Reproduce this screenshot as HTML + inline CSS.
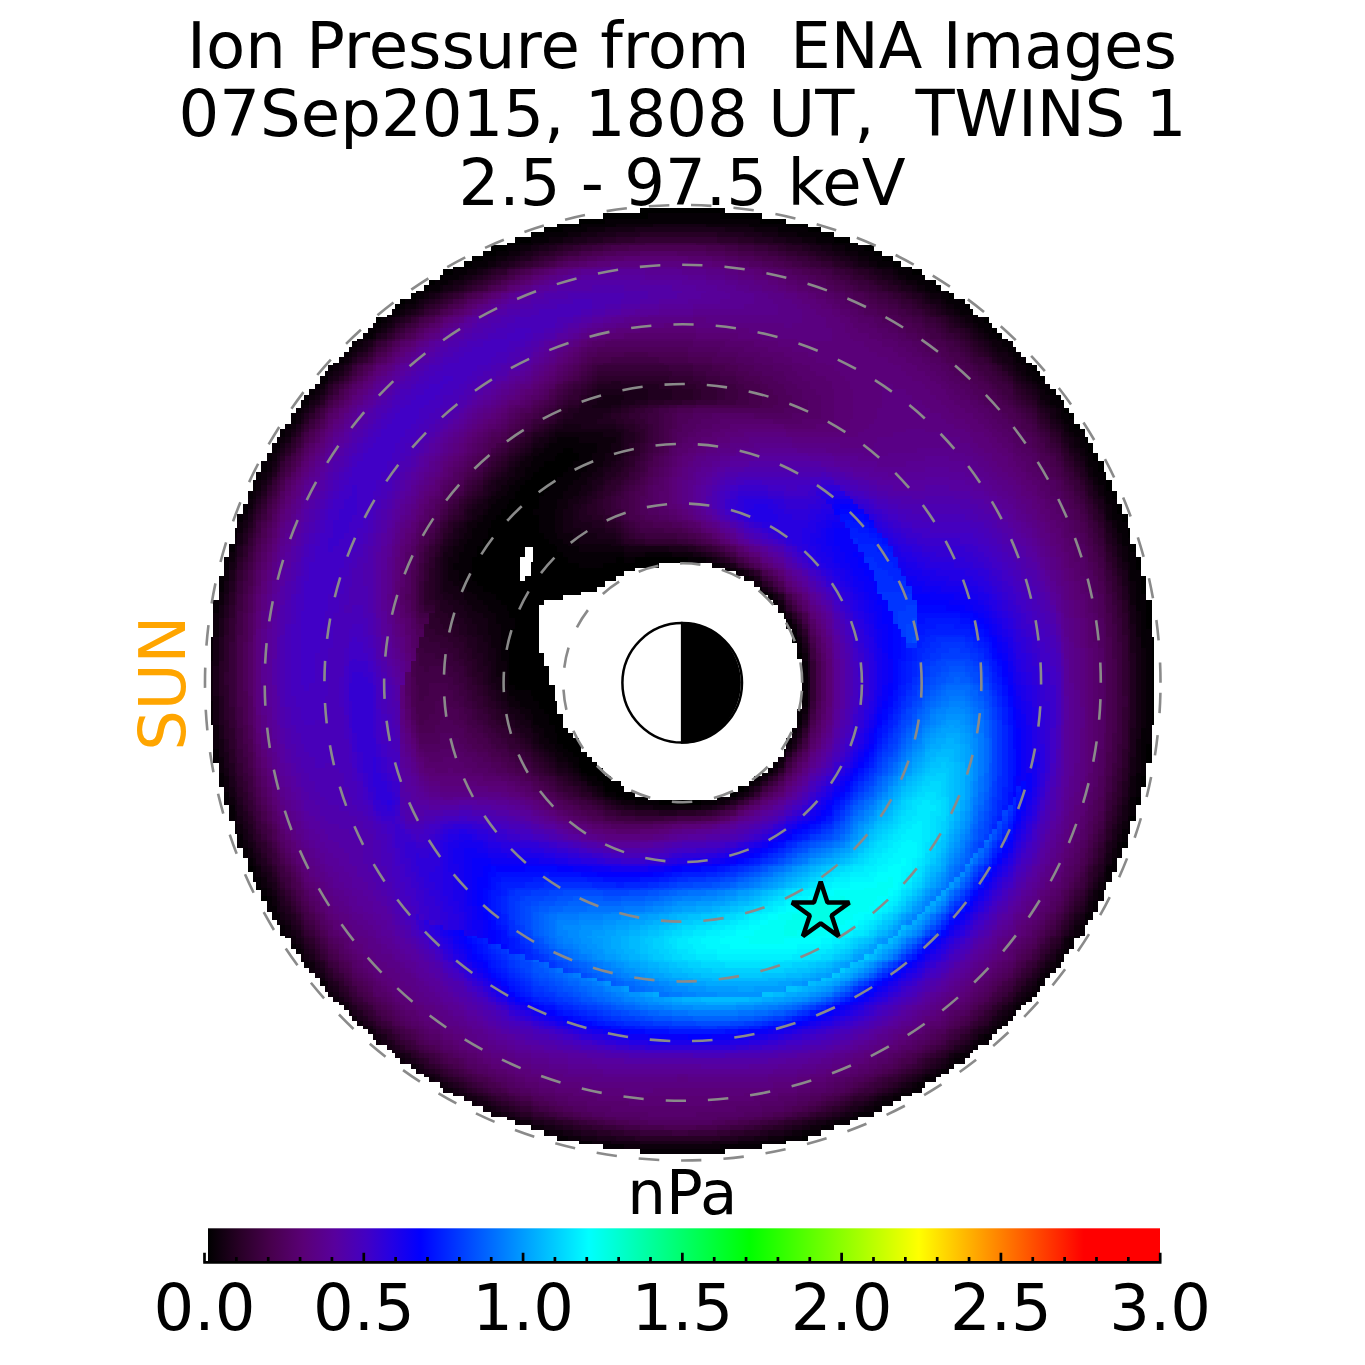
<!DOCTYPE html>
<html lang="en"><head><meta charset="utf-8"><title>Ion Pressure from ENA Images</title>
<style>html,body{margin:0;padding:0;background:#fff;width:1365px;height:1365px;overflow:hidden}svg{display:block}text{font-family:"DejaVu Sans","Liberation Sans",sans-serif;fill:#000}</style></head><body>
<svg width="1365" height="1365" viewBox="0 0 1365 1365">
<defs><linearGradient id="cb" x1="0" x2="1" y1="0" y2="0"><stop offset="0.0000" stop-color="rgb(0,0,0)"/><stop offset="0.0333" stop-color="rgb(40,0,38)"/><stop offset="0.0667" stop-color="rgb(72,0,78)"/><stop offset="0.1000" stop-color="rgb(90,0,118)"/><stop offset="0.1333" stop-color="rgb(88,0,157)"/><stop offset="0.1667" stop-color="rgb(66,0,196)"/><stop offset="0.1933" stop-color="rgb(36,0,228)"/><stop offset="0.2233" stop-color="rgb(0,0,255)"/><stop offset="0.4000" stop-color="rgb(0,255,255)"/><stop offset="0.5693" stop-color="rgb(0,255,0)"/><stop offset="0.7467" stop-color="rgb(255,255,0)"/><stop offset="0.9200" stop-color="rgb(255,0,0)"/><stop offset="1.0000" stop-color="rgb(255,0,0)"/></linearGradient></defs>
<rect width="1365" height="1365" fill="#fff"/>
<g font-size="64.1" text-anchor="middle">
<text x="682" y="68" xml:space="preserve">Ion Pressure from  ENA Images</text>
<text x="682.6" y="136.4" xml:space="preserve">07Sep2015, 1808 UT,  TWINS 1</text>
<text x="682" y="204.6" xml:space="preserve">2.5 - 97.5 keV</text>
</g>
<g transform="translate(0 1.333) scale(2.6660)" fill="none" stroke-width="1.03" shape-rendering="crispEdges">
<path stroke="#000000" d="M209 84h9M295 84h8M190 91h5M319 91h3M170 100h4M338 100h4M156 109h1M355 109h1M385 136h2M405 161h2M209 170h8M410 170h2M199 179h10M414 179h1M193 186h9M417 186h2M184 195h18M421 195h2M181 204h27M424 204h2M177 213h18M199 213h39M426 213h2M184 222h34M428 222h2M191 229h11M430 229h2M191 238h11M191 247h13M432 247h1M191 256h15M432 256h1M202 265h7M432 265h1M208 272h3M213 281h5M430 281h2M220 290h7M234 299h9M269 299h1M426 299h2M96 333h2M294 428h1"/>
<path stroke="#060006" d="M218 84h13M281 84h14M195 91h5M312 91h7M174 100h5M335 100h3M157 109h4M349 109h6M145 118h3M364 118h3M134 127h2M374 127h4M125 136h2M383 136h2M120 143h2M389 143h3M113 152h1M396 152h3M105 161h2M401 161h4M100 170h2M202 170h7M217 170h5M407 170h3M96 179h2M195 179h4M209 179h8M412 179h2M93 186h2M188 186h5M202 186h9M415 186h2M89 195h2M181 195h3M202 195h6M419 195h2M86 204h2M174 204h7M208 204h5M421 204h3M84 213h2M170 213h7M272 213h2M424 213h2M177 222h7M286 222h2M426 222h2M80 229h2M184 229h7M292 229h2M428 229h2M188 238h3M297 238h2M428 238h4M79 247h1M188 247h3M430 247h2M190 256h1M301 256h2M430 256h2M79 265h1M197 265h5M430 265h2M202 272h6M430 272h2M80 281h2M209 281h4M294 281h1M428 281h2M82 290h2M218 290h2M286 290h2M426 290h4M84 299h2M231 299h3M270 299h4M424 299h2M423 308h1M89 315h2M421 315h2M93 324h2M417 324h2M98 333h2M414 333h1M102 342h2M408 342h2M107 351h2M403 351h2M113 360h1M396 360h3M390 367h2M383 376h2M374 385h2M364 394h1M351 403h2M338 410h4M319 419h3M217 428h5M285 428h9"/>
<path stroke="#0d000c" d="M231 84h14M265 84h16M200 91h4M306 91h6M179 100h4M329 100h6M161 109h4M347 109h2M148 118h2M360 118h4M136 127h2M371 127h3M127 136h2M380 136h3M122 143h1M387 143h2M114 152h2M394 152h2M107 161h2M399 161h2M102 170h2M199 170h3M222 170h5M405 170h2M98 179h2M191 179h4M217 179h3M410 179h2M95 186h1M184 186h4M211 186h4M414 186h1M177 195h4M208 195h3M417 195h2M88 204h1M172 204h2M213 204h16M168 213h2M274 213h2M423 213h1M82 222h2M174 222h3M424 222h2M179 229h5M294 229h1M426 229h2M80 238h2M184 238h4M426 238h2M186 247h2M301 247h2M428 247h2M79 256h1M188 256h2M428 256h2M193 265h4M301 265h2M428 265h2M80 272h2M199 272h3M299 272h2M428 272h2M206 281h3M426 281h2M217 290h1M86 299h2M229 299h2M274 299h2M88 308h1M421 308h2M91 315h2M419 315h2M95 324h1M415 324h2M100 333h2M412 333h2M104 342h1M407 342h1M109 351h2M401 351h2M114 360h2M120 367h2M389 367h1M127 376h2M381 376h2M136 385h2M372 385h2M147 394h1M362 394h2M159 403h2M347 403h4M170 410h2M335 410h3M190 419h3M315 419h4M222 428h7M277 428h8"/>
<path stroke="#140013" d="M245 84h20M204 91h4M303 91h3M183 100h1M328 100h1M165 109h1M344 109h3M150 118h2M358 118h2M138 127h2M369 127h2M129 136h2M378 136h2M385 143h2M222 152h7M392 152h2M109 161h2M208 161h23M104 170h1M197 170h2M227 170h6M188 179h3M220 179h4M408 179h2M183 186h1M215 186h3M412 186h2M91 195h2M175 195h2M211 195h4M415 195h2M170 204h2M229 204h4M419 204h2M86 213h2M166 213h2M276 213h1M421 213h2M84 222h2M168 222h6M288 222h2M423 222h1M82 229h2M175 229h4M424 229h2M181 238h3M299 238h2M80 247h2M183 247h3M426 247h2M186 256h2M303 256h1M426 256h2M80 265h2M191 265h2M426 265h2M197 272h2M426 272h2M82 281h2M204 281h2M295 281h2M84 290h2M215 290h2M288 290h2M424 290h2M227 299h2M276 299h1M423 299h1M89 308h2M417 315h2M96 324h2M410 333h2M105 342h2M399 351h2M116 360h2M394 360h2M129 376h2M380 376h1M138 385h2M371 385h1M148 394h2M360 394h2M161 403h2M346 403h1M172 410h3M333 410h2M193 419h2M312 419h3M229 428h11M267 428h10"/>
<path stroke="#1a0019" d="M208 91h3M297 91h6M184 100h2M324 100h4M166 109h2M342 109h2M356 118h2M140 127h1M367 127h2M376 136h2M123 143h2M383 143h2M116 152h2M218 152h4M229 152h4M390 152h2M206 161h2M231 161h3M398 161h1M195 170h2M233 170h1M403 170h2M100 179h2M186 179h2M224 179h2M96 186h2M181 186h2M218 186h2M410 186h2M93 195h2M174 195h1M215 195h3M89 204h2M168 204h2M233 204h3M417 204h2M165 213h1M277 213h2M165 222h3M170 229h5M82 238h2M177 238h4M424 238h2M181 247h2M80 256h2M183 256h3M188 265h3M82 272h2M193 272h4M202 281h2M424 281h2M213 290h2M423 290h1M88 299h1M226 299h1M277 299h2M421 299h2M91 308h2M419 308h2M93 315h2M414 324h1M102 333h2M405 342h2M111 351h2M392 360h2M122 367h1M387 367h2M378 376h2M369 385h2M358 394h2M163 403h2M344 403h2M175 410h2M331 410h2M195 419h4M310 419h2M240 428h27"/>
<path stroke="#20001f" d="M211 91h6M294 91h3M186 100h4M320 100h4M168 109h2M340 109h2M152 118h2M355 118h1M365 127h2M131 136h1M374 136h2M229 143h4M381 143h2M217 152h1M233 152h3M389 152h1M111 161h2M204 161h2M234 161h2M396 161h2M105 170h2M193 170h2M234 170h2M401 170h2M184 179h2M226 179h3M407 179h1M179 186h2M220 186h4M172 195h2M218 195h8M414 195h1M166 204h2M236 204h6M88 213h1M163 213h2M419 213h2M163 222h2M290 222h2M421 222h2M84 229h2M166 229h4M295 229h2M423 229h1M174 238h3M82 247h2M179 247h2M303 247h1M424 247h2M181 256h2M424 256h2M82 265h2M186 265h2M303 265h1M424 265h2M191 272h2M301 272h2M424 272h2M84 281h2M200 281h2M86 290h2M209 290h4M290 290h2M89 299h2M224 299h2M95 315h1M415 315h2M98 324h2M412 324h2M104 333h1M408 333h2M107 342h2M403 342h2M113 351h1M398 351h1M118 360h2M123 367h2M385 367h2M131 376h1M140 385h1M367 385h2M150 394h2M356 394h2M342 403h2M177 410h2M329 410h2M199 419h1M306 419h4"/>
<path stroke="#270025" d="M217 91h3M288 91h6M190 100h1M319 100h1M170 109h2M337 109h3M154 118h2M351 118h4M141 127h2M364 127h1M125 143h2M224 143h5M233 143h18M380 143h1M118 152h2M213 152h4M236 152h4M202 161h2M236 161h2M394 161h2M191 170h2M236 170h2M183 179h1M229 179h2M405 179h2M98 186h2M177 186h2M224 186h2M408 186h2M170 195h2M226 195h1M412 195h2M91 204h2M165 204h1M242 204h14M415 204h2M161 213h2M279 213h2M86 222h2M161 222h2M163 229h3M421 229h2M170 238h4M301 238h2M423 238h1M175 247h4M423 247h1M82 256h2M179 256h2M184 265h2M84 272h2M190 272h1M423 272h1M86 281h2M199 281h1M297 281h2M423 281h1M88 290h1M208 290h1M421 290h2M222 299h2M419 299h2M93 308h2M417 308h2M100 324h2M109 342h2M120 360h2M390 360h2M376 376h2M141 385h2M152 394h2M355 394h1M165 403h1M340 403h2M179 410h2M328 410h1M200 419h4M304 419h2"/>
<path stroke="#2c002b" d="M220 91h4M283 91h5M191 100h2M315 100h4M172 109h2M335 109h2M156 118h1M349 118h2M143 127h2M362 127h2M132 136h2M372 136h2M222 143h2M251 143h7M211 152h2M240 152h3M387 152h2M113 161h1M200 161h2M238 161h4M107 170h2M190 170h1M238 170h2M399 170h2M102 179h2M181 179h2M231 179h3M175 186h2M226 186h1M95 195h1M168 195h2M227 195h4M163 204h2M256 204h4M89 213h2M417 213h2M159 222h2M419 222h2M86 229h2M84 238h2M166 238h4M84 247h2M174 247h1M177 256h2M423 256h1M84 265h2M183 265h1M423 265h1M188 272h2M197 281h2M421 281h2M206 290h2M91 299h2M220 299h2M279 299h2M95 308h1M415 308h2M96 315h2M414 315h1M410 324h2M105 333h2M407 333h1M401 342h2M114 351h2M396 351h2M389 360h1M125 367h2M383 367h2M132 376h2M374 376h2M365 385h2M154 394h2M353 394h2M166 403h2M338 403h2M181 410h2M326 410h2M204 419h4M301 419h3"/>
<path stroke="#320032" d="M224 91h3M277 91h6M193 100h2M313 100h2M174 109h1M333 109h2M157 118h2M347 118h2M360 127h2M371 136h1M127 143h2M220 143h2M258 143h5M378 143h2M120 152h2M209 152h2M243 152h4M385 152h2M199 161h1M242 161h1M392 161h2M188 170h2M398 170h1M234 179h2M403 179h2M174 186h1M227 186h2M407 186h1M231 195h2M410 195h2M93 204h2M260 204h1M414 204h1M159 213h2M281 213h2M415 213h2M88 222h1M292 222h2M297 229h2M419 229h2M86 238h2M159 238h7M421 238h2M170 247h4M421 247h2M84 256h2M175 256h2M304 256h2M421 256h2M86 265h2M179 265h4M421 265h2M86 272h2M184 272h4M421 272h2M88 281h1M195 281h2M89 290h2M204 290h2M419 290h2M218 299h2M417 299h2M98 315h2M102 324h2M111 342h2M116 351h2M394 351h2M122 360h1M127 367h2M381 367h2M134 376h2M143 385h2M364 385h1M156 394h1M351 394h2M168 403h2M337 403h1M183 410h1M322 410h4M208 419h1M299 419h2"/>
<path stroke="#370039" d="M227 91h6M270 91h7M195 100h2M310 100h3M175 109h2M329 109h4M346 118h1M145 127h2M358 127h2M134 136h2M367 136h4M218 143h2M263 143h6M376 143h2M208 152h1M247 152h4M383 152h2M114 161h2M197 161h2M243 161h2M390 161h2M186 170h2M240 170h2M104 179h1M179 179h2M236 179h2M401 179h2M100 186h2M172 186h2M229 186h2M405 186h2M96 195h2M166 195h2M233 195h1M161 204h2M261 204h2M412 204h2M91 213h2M89 222h2M157 222h2M417 222h2M88 229h1M159 229h4M419 238h2M86 247h2M166 247h4M304 247h2M86 256h2M174 256h1M177 265h2M304 265h2M88 272h1M183 272h1M303 272h1M89 281h2M191 281h4M419 281h2M91 290h2M202 290h2M292 290h2M93 299h2M217 299h1M281 299h2M96 308h2M414 308h1M412 315h2M408 324h2M107 333h2M405 333h2M399 342h2M387 360h2M136 376h2M372 376h2M145 385h2M362 385h2M170 403h2M335 403h2M184 410h2M320 410h2M209 419h4M295 419h4"/>
<path stroke="#3c003f" d="M233 91h9M261 91h9M197 100h2M306 100h4M326 109h3M159 118h2M342 118h4M147 127h1M355 127h3M226 136h23M365 136h2M129 143h2M215 143h3M269 143h3M372 143h4M122 152h1M206 152h2M251 152h3M381 152h2M195 161h2M245 161h2M389 161h1M109 170h2M184 170h2M242 170h1M396 170h2M177 179h2M238 179h2M231 186h3M165 195h1M234 195h2M408 195h2M95 204h1M263 204h4M157 213h2M414 213h1M415 222h2M157 229h2M417 229h2M88 238h1M303 238h1M88 247h1M157 247h9M419 247h2M88 256h1M170 256h4M419 256h2M88 265h1M175 265h2M419 265h2M181 272h2M419 272h2M190 281h1M299 281h2M200 290h2M417 290h2M95 299h1M213 299h4M415 299h2M100 315h2M104 324h1M403 333h2M113 342h1M118 351h2M392 351h2M123 360h2M385 360h2M129 367h2M380 367h1M371 376h1M147 385h1M360 385h2M157 394h2M349 394h2M172 403h2M333 403h2M186 410h4M319 410h1M213 419h2M294 419h1"/>
<path stroke="#410046" d="M242 91h19M199 100h1M303 100h3M177 109h2M324 109h2M161 118h2M338 118h4M353 127h2M136 136h2M222 136h4M249 136h11M364 136h1M213 143h2M272 143h5M371 143h1M204 152h2M254 152h7M380 152h1M193 161h2M247 161h2M387 161h2M243 170h2M394 170h2M105 179h2M175 179h2M399 179h2M102 186h2M170 186h2M234 186h2M403 186h2M98 195h2M236 195h2M407 195h1M159 204h2M410 204h2M93 213h2M283 213h2M91 222h2M156 222h1M294 222h1M89 229h2M299 229h2M415 229h2M417 238h2M156 247h1M156 256h5M168 256h2M89 265h2M174 265h1M89 272h2M177 272h4M91 281h2M186 281h4M417 281h2M93 290h2M199 290h1M211 299h2M283 299h2M98 308h2M412 308h2M410 315h2M105 324h2M407 324h1M109 333h2M114 342h2M398 342h1M125 360h2M131 367h1M378 367h2M138 376h2M369 376h2M148 385h2M159 394h2M347 394h2M174 403h3M331 403h2M190 410h1M317 410h2M215 419h3M290 419h4"/>
<path stroke="#46004c" d="M200 100h2M299 100h4M179 109h2M320 109h4M337 118h1M148 127h2M349 127h4M138 136h2M220 136h2M260 136h7M360 136h4M131 143h1M211 143h2M277 143h6M369 143h2M123 152h2M202 152h2M261 152h24M378 152h2M116 161h2M191 161h2M249 161h2M385 161h2M111 170h2M183 170h1M245 170h2M392 170h2M174 179h1M240 179h2M398 179h1M168 186h2M236 186h2M401 186h2M163 195h2M238 195h4M405 195h2M157 204h2M267 204h2M408 204h2M156 213h1M412 213h2M414 222h1M91 229h2M156 229h1M89 238h2M415 238h2M89 247h2M417 247h2M89 256h2M161 256h7M306 256h2M417 256h2M156 265h7M170 265h4M417 265h2M91 272h2M175 272h2M417 272h2M183 281h3M197 290h2M294 290h1M415 290h2M96 299h2M209 299h2M414 299h1M234 308h11M102 315h2M408 315h2M401 333h2M396 342h2M120 351h2M390 351h2M383 360h2M140 376h1M150 385h2M358 385h2M161 394h2M346 394h1M177 403h2M329 403h2M191 410h2M315 410h2M218 419h4M286 419h4"/>
<path stroke="#4a0052" d="M202 100h2M295 100h4M181 109h2M317 109h3M163 118h2M331 118h6M346 127h3M218 136h2M267 136h7M358 136h2M283 143h3M365 143h4M200 152h2M285 152h5M374 152h4M190 161h1M251 161h1M383 161h2M181 170h2M247 170h2M390 170h2M242 179h1M396 179h2M104 186h1M238 186h2M399 186h2M100 195h2M161 195h2M242 195h3M96 204h2M269 204h1M407 204h1M95 213h1M285 213h1M410 213h2M93 222h2M154 222h2M412 222h2M414 229h1M91 238h2M304 238h2M306 247h2M415 247h2M154 256h2M415 256h2M91 265h2M163 265h7M306 265h2M415 265h2M157 272h6M172 272h3M304 272h2M415 272h2M93 281h2M179 281h4M301 281h2M415 281h2M95 290h1M193 290h4M414 290h1M208 299h1M412 299h2M100 308h2M229 308h5M245 308h6M410 308h2M107 324h2M405 324h2M111 333h2M116 342h2M122 351h1M389 351h1M127 360h2M381 360h2M132 367h2M376 367h2M141 376h2M367 376h2M356 385h2M163 394h2M344 394h2M179 403h2M328 403h1M193 410h2M312 410h3M222 419h4M283 419h3"/>
<path stroke="#4d0059" d="M204 100h2M292 100h3M183 109h1M313 109h4M165 118h1M328 118h3M150 127h2M342 127h4M140 136h1M217 136h1M274 136h5M355 136h3M132 143h2M209 143h2M286 143h6M362 143h3M125 152h2M199 152h1M290 152h7M372 152h2M118 161h2M188 161h2M252 161h4M380 161h3M113 170h1M179 170h2M249 170h2M389 170h1M107 179h2M172 179h2M243 179h2M394 179h2M166 186h2M240 186h3M398 186h1M245 195h6M403 195h2M156 204h1M270 204h2M154 213h2M408 213h2M295 222h2M93 229h2M154 229h2M301 229h2M412 229h2M157 238h2M414 238h1M91 247h2M414 247h1M91 256h2M154 265h2M93 272h2M156 272h1M163 272h9M175 281h4M414 281h1M191 290h2M295 290h2M98 299h2M206 299h2M285 299h1M226 308h3M251 308h3M408 308h2M104 315h1M407 315h1M403 324h2M113 333h1M399 333h2M394 342h2M129 360h2M134 367h2M374 367h2M143 376h2M365 376h2M152 385h2M355 385h1M165 394h1M340 394h4M181 403h2M324 403h4M195 410h4M308 410h4M226 419h5M277 419h6"/>
<path stroke="#500060" d="M206 100h2M288 100h4M310 109h3M166 118h2M324 118h4M152 127h2M338 127h4M215 136h2M279 136h7M351 136h4M208 143h1M292 143h5M358 143h4M197 152h2M297 152h6M369 152h3M184 161h4M256 161h4M378 161h2M177 170h2M251 170h1M385 170h4M170 179h2M245 179h2M392 179h2M105 186h2M165 186h1M243 186h2M396 186h2M102 195h2M159 195h2M251 195h3M401 195h2M98 204h2M272 204h2M405 204h2M96 213h2M286 213h2M407 213h1M95 222h1M152 222h2M410 222h2M152 229h2M410 229h2M93 238h2M156 238h1M412 238h2M152 256h2M308 256h2M414 256h1M93 265h2M414 265h1M414 272h1M95 281h1M159 281h6M172 281h3M412 281h2M96 290h2M186 290h5M412 290h2M204 299h2M410 299h2M102 308h2M222 308h4M254 308h7M405 315h2M109 324h2M398 333h1M118 342h2M392 342h2M123 351h2M387 351h2M131 360h1M380 360h1M136 367h2M372 367h2M145 376h2M364 376h1M154 385h3M353 385h2M166 394h4M338 394h2M183 403h3M322 403h2M199 410h3M304 410h4M231 419h9M269 419h8"/>
<path stroke="#530066" d="M208 100h1M285 100h3M184 109h2M308 109h2M320 118h4M154 127h2M229 127h31M335 127h3M141 136h2M213 136h2M286 136h8M347 136h4M134 143h2M206 143h2M297 143h7M355 143h3M127 152h2M193 152h4M303 152h5M365 152h4M120 161h2M183 161h1M260 161h3M374 161h4M114 170h2M175 170h2M252 170h2M381 170h4M109 179h2M168 179h2M247 179h2M389 179h3M163 186h2M245 186h2M392 186h4M157 195h2M254 195h4M398 195h3M154 204h2M401 204h4M152 213h2M288 213h2M405 213h2M150 222h2M297 222h2M408 222h2M95 229h1M408 229h2M154 238h2M306 238h2M410 238h2M93 247h2M308 247h2M412 247h2M93 256h2M412 256h2M152 265h2M308 265h2M412 265h2M154 272h2M306 272h2M412 272h2M157 281h2M165 281h7M303 281h1M181 290h5M410 290h2M100 299h2M202 299h2M286 299h2M408 299h2M220 308h2M261 308h4M407 308h1M105 315h2M401 324h2M114 333h2M396 333h2M120 342h2M390 342h2M125 351h2M385 351h2M132 360h2M378 360h2M138 367h2M371 367h1M147 376h1M362 376h2M157 385h2M349 385h4M170 394h2M337 394h1M186 403h4M319 403h3M202 410h6M299 410h5M240 419h29"/>
<path stroke="#56006c" d="M209 100h2M281 100h4M186 109h2M303 109h5M168 118h2M317 118h3M224 127h5M260 127h14M329 127h6M143 136h2M211 136h2M294 136h7M342 136h5M204 143h2M304 143h8M351 143h4M191 152h2M308 152h5M360 152h5M181 161h2M263 161h7M371 161h3M174 170h1M254 170h2M380 170h1M166 179h2M249 179h2M385 179h4M161 186h2M247 186h4M390 186h2M104 195h1M258 195h2M396 195h2M100 204h2M152 204h2M274 204h2M399 204h2M98 213h2M150 213h2M403 213h2M96 222h2M405 222h3M150 229h2M303 229h1M407 229h1M408 238h2M410 247h2M410 256h2M95 265h1M410 265h2M95 272h1M410 272h2M96 281h2M156 281h1M410 281h2M98 290h2M175 290h6M297 290h2M408 290h2M200 299h2M288 299h2M407 299h1M104 308h1M217 308h3M265 308h4M405 308h2M107 315h2M403 315h2M111 324h2M399 324h2M116 333h2M394 333h2M389 342h1M127 351h2M383 351h2M134 360h2M376 360h2M140 367h1M369 367h2M148 376h2M360 376h2M159 385h2M347 385h2M172 394h3M333 394h4M190 403h3M315 403h4M208 410h7M292 410h7"/>
<path stroke="#590073" d="M211 100h4M276 100h5M188 109h2M299 109h4M170 118h2M313 118h4M156 127h1M220 127h4M274 127h12M320 127h9M209 136h2M301 136h9M335 136h7M136 143h2M202 143h2M312 143h7M346 143h5M129 152h2M190 152h1M313 152h7M355 152h5M122 161h1M179 161h2M270 161h7M295 161h22M365 161h6M116 170h2M172 170h2M256 170h2M376 170h4M111 179h2M165 179h1M251 179h1M383 179h2M107 186h2M159 186h2M251 186h1M389 186h1M156 195h1M260 195h1M392 195h4M276 204h1M398 204h1M290 213h2M401 213h2M148 222h2M299 222h2M403 222h2M405 229h2M95 238h1M152 238h2M407 238h1M95 247h1M154 247h2M310 247h2M408 247h2M95 256h1M310 256h2M408 256h2M408 265h2M152 272h2M308 272h2M408 272h2M304 281h2M408 281h2M161 290h14M102 299h2M199 299h1M215 308h2M269 308h1M403 308h2M401 315h2M113 324h1M398 324h1M122 342h1M387 342h2M129 351h2M381 351h2M136 360h2M374 360h2M141 367h2M367 367h2M150 376h4M356 376h4M161 385h4M346 385h1M175 394h4M331 394h2M193 403h4M310 403h5M215 410h11M279 410h13"/>
<path stroke="#5a0079" d="M215 100h2M270 100h6M190 109h1M295 109h4M172 118h2M308 118h5M157 127h2M218 127h2M286 127h13M312 127h8M145 136h2M208 136h1M310 136h25M138 143h2M200 143h2M319 143h27M188 152h2M320 152h11M347 152h8M123 161h2M177 161h2M277 161h18M317 161h7M362 161h3M170 170h2M258 170h3M372 170h4M163 179h2M252 179h2M380 179h3M109 186h2M252 186h2M385 186h4M105 195h2M154 195h2M261 195h2M390 195h2M102 204h2M150 204h2M394 204h4M100 213h2M148 213h2M398 213h3M98 222h2M401 222h2M96 229h2M148 229h2M304 229h2M403 229h2M150 238h2M308 238h2M405 238h2M152 247h2M407 247h1M407 256h1M150 265h2M310 265h2M407 265h1M96 272h2M407 272h1M98 281h2M407 281h1M100 290h2M159 290h2M299 290h2M407 290h1M197 299h2M290 299h2M405 299h2M105 308h2M213 308h2M270 308h2M109 315h2M399 315h2M396 324h2M118 333h2M392 333h2M123 342h2M131 351h1M380 351h1M138 360h2M372 360h2M143 367h4M365 367h2M154 376h2M355 376h1M165 385h3M344 385h2M179 394h2M328 394h3M197 403h7M304 403h6M226 410h53"/>
<path stroke="#5a0080" d="M217 100h5M263 100h7M191 109h2M290 109h5M301 118h7M159 127h2M217 127h1M299 127h13M147 136h1M206 136h2M199 143h1M131 152h1M186 152h2M331 152h16M175 161h2M324 161h16M347 161h15M118 170h2M168 170h2M261 170h4M367 170h5M113 179h1M161 179h2M254 179h4M376 179h4M157 186h2M254 186h2M381 186h4M152 195h2M263 195h2M389 195h1M148 204h2M277 204h2M392 204h2M292 213h2M396 213h2M147 222h1M301 222h2M399 222h2M147 229h1M401 229h2M96 238h2M148 238h2M403 238h2M96 247h2M405 247h2M96 256h2M312 256h1M405 256h2M96 265h2M154 281h2M405 281h2M157 290h2M405 290h2M104 299h1M193 299h4M403 299h2M107 308h2M211 308h2M272 308h2M401 308h2M111 315h2M114 324h2M120 333h2M390 333h2M125 342h4M385 342h2M132 351h4M378 351h2M140 360h3M371 360h1M147 367h3M364 367h1M156 376h3M353 376h2M168 385h4M340 385h4M181 394h3M324 394h4M204 403h7M299 403h5"/>
<path stroke="#590086" d="M222 100h4M254 100h9M286 109h4M174 118h1M260 118h41M215 127h2M148 136h2M204 136h2M140 143h1M197 143h2M132 152h2M184 152h2M125 161h2M174 161h1M340 161h7M120 170h2M166 170h2M265 170h5M324 170h9M362 170h5M114 179h2M159 179h2M258 179h2M372 179h4M111 186h2M156 186h1M256 186h2M380 186h1M107 195h2M385 195h4M104 204h1M390 204h2M102 213h2M147 213h1M394 213h2M100 222h2M398 222h1M98 229h2M306 229h2M399 229h2M310 238h2M401 238h2M150 247h2M312 247h1M403 247h2M403 256h2M312 265h1M405 265h2M98 272h2M150 272h2M310 272h2M405 272h2M100 281h2M152 281h2M306 281h2M102 290h2M301 290h2M403 290h2M105 299h2M190 299h3M292 299h2M401 299h2M109 308h2M209 308h2M399 308h2M398 315h1M116 324h2M394 324h2M122 333h3M389 333h1M129 342h2M383 342h2M136 351h4M376 351h2M143 360h5M369 360h2M150 367h6M362 367h2M159 376h4M351 376h2M172 385h3M338 385h2M184 394h6M322 394h2M211 403h15M254 403h4M288 403h11"/>
<path stroke="#59008c" d="M226 100h28M193 109h2M279 109h7M175 118h2M243 118h17M161 127h2M213 127h2M202 136h2M141 143h2M193 143h4M181 152h3M127 161h2M172 161h2M165 170h1M270 170h6M312 170h12M333 170h29M260 179h1M369 179h3M154 186h2M258 186h2M376 186h4M150 195h2M265 195h2M383 195h2M105 204h2M147 204h1M279 204h2M389 204h1M145 213h2M294 213h1M392 213h2M145 222h2M396 222h2M145 229h2M398 229h1M98 238h2M147 238h1M399 238h2M98 247h2M401 247h2M98 256h2M98 265h2M403 265h2M403 272h2M403 281h2M104 290h1M156 290h1M166 299h4M183 299h7M294 299h1M111 308h2M208 308h1M274 308h2M398 308h1M113 315h3M227 315h16M396 315h2M118 324h4M392 324h2M125 333h2M387 333h2M131 342h3M381 342h2M140 351h1M374 351h2M148 360h2M367 360h2M156 367h1M360 367h2M163 376h3M349 376h2M175 385h2M337 385h1M190 394h3M319 394h3M226 403h28M258 403h30"/>
<path stroke="#590093" d="M195 109h4M272 109h7M177 118h2M236 118h7M163 127h2M211 127h2M150 136h2M200 136h2M143 143h2M191 143h2M134 152h2M179 152h2M170 161h2M122 170h1M163 170h2M276 170h9M303 170h9M116 179h2M157 179h2M261 179h2M365 179h4M113 186h1M152 186h2M260 186h1M374 186h2M109 195h2M148 195h2M267 195h2M381 195h2M145 204h2M281 204h2M387 204h2M104 213h1M102 222h2M143 222h2M303 222h1M100 229h2M308 229h2M145 238h2M312 238h1M148 247h2M313 247h2M313 256h2M401 256h2M100 265h2M313 265h2M401 265h2M100 272h2M312 272h1M401 272h2M102 281h2M150 281h2M308 281h2M401 281h2M154 290h2M401 290h2M107 299h2M161 299h5M170 299h13M399 299h2M113 308h1M204 308h4M276 308h1M116 315h2M224 315h3M243 315h4M394 315h2M122 324h1M390 324h2M127 333h4M134 342h4M380 342h1M141 351h4M372 351h2M150 360h4M365 360h2M157 367h2M358 367h2M166 376h4M347 376h2M177 385h4M333 385h4M193 394h6M315 394h4"/>
<path stroke="#580099" d="M199 109h1M265 109h7M179 118h2M231 118h5M165 127h1M209 127h2M152 136h2M199 136h1M145 143h2M188 143h3M136 152h2M177 152h2M129 161h2M168 161h2M123 170h2M161 170h2M285 170h18M118 179h2M156 179h1M263 179h2M331 179h16M356 179h9M114 186h2M261 186h2M371 186h3M111 195h2M147 195h1M269 195h1M378 195h3M107 204h2M385 204h2M143 213h2M295 213h2M390 213h2M304 222h2M394 222h2M102 229h2M143 229h2M396 229h2M100 238h2M398 238h1M100 247h2M147 247h1M399 247h2M100 256h2M150 256h2M399 256h2M102 272h2M399 272h2M104 281h1M399 281h2M105 290h2M152 290h2M303 290h1M399 290h2M109 299h2M157 299h4M295 299h2M398 299h1M114 308h2M202 308h2M277 308h2M396 308h2M118 315h2M222 315h2M247 315h4M123 324h4M131 333h3M385 333h2M138 342h3M145 351h3M154 360h2M364 360h1M159 367h4M356 367h2M170 376h2M346 376h1M181 385h2M331 385h2M199 394h5M312 394h3"/>
<path stroke="#57009f" d="M200 109h4M256 109h9M181 118h2M227 118h4M166 127h2M208 127h1M154 136h2M197 136h2M147 143h1M186 143h2M138 152h2M175 152h2M131 161h1M166 161h2M125 170h2M159 170h2M120 179h2M154 179h2M265 179h2M324 179h7M347 179h9M116 186h2M150 186h2M263 186h2M365 186h6M113 195h1M145 195h2M376 195h2M109 204h2M143 204h2M283 204h2M383 204h2M105 213h2M141 213h2M389 213h1M104 222h1M141 222h2M141 229h2M310 229h2M102 238h2M143 238h2M313 238h2M145 247h2M315 247h2M148 256h2M315 256h2M102 265h2M315 265h2M399 265h2M104 272h1M313 272h2M105 281h2M310 281h2M107 290h2M150 290h2M111 299h2M154 299h3M297 299h2M116 308h4M200 308h2M279 308h4M394 308h2M120 315h5M218 315h4M251 315h3M392 315h2M127 324h5M389 324h1M134 333h4M383 333h2M141 342h4M378 342h2M148 351h2M371 351h1M156 360h3M362 360h2M163 367h2M355 367h1M172 376h2M344 376h2M183 385h3M329 385h2M204 394h7M306 394h6"/>
<path stroke="#5300a6" d="M204 109h5M243 109h13M183 118h3M222 118h5M168 127h2M204 127h4M156 136h1M195 136h2M148 143h2M184 143h2M140 152h1M174 152h1M132 161h2M165 161h1M127 170h2M157 170h2M122 179h1M152 179h2M267 179h3M320 179h4M118 186h2M148 186h2M342 186h5M358 186h7M114 195h2M143 195h2M270 195h2M374 195h2M111 204h2M141 204h2M285 204h1M380 204h3M107 213h2M140 213h1M297 213h2M387 213h2M105 222h2M140 222h1M306 222h2M392 222h2M104 229h1M140 229h1M394 229h2M104 238h1M141 238h2M102 247h2M143 247h2M398 247h1M102 256h2M147 256h1M104 265h1M398 272h1M107 281h2M398 281h1M109 290h4M304 290h2M398 290h1M113 299h3M152 299h2M396 299h2M120 308h3M199 308h1M283 308h2M125 315h9M217 315h1M254 315h2M132 324h6M387 324h2M138 333h3M381 333h2M145 342h2M376 342h2M150 351h2M369 351h2M159 360h2M360 360h2M165 367h1M353 367h2M174 376h3M342 376h2M186 385h2M328 385h1M211 394h6M303 394h3"/>
<path stroke="#4f00ac" d="M209 109h34M186 118h5M218 118h4M170 127h4M202 127h2M157 136h4M190 136h5M150 143h2M181 143h3M141 152h2M170 152h4M134 161h2M163 161h2M129 170h2M156 170h1M123 179h2M150 179h2M270 179h2M317 179h3M120 186h2M147 186h1M265 186h2M333 186h9M347 186h11M116 195h2M141 195h2M272 195h2M371 195h3M113 204h1M140 204h1M286 204h2M378 204h2M109 213h2M136 213h4M299 213h2M383 213h4M107 222h2M138 222h2M390 222h2M105 229h2M138 229h2M312 229h1M315 238h2M396 238h2M104 247h1M317 247h2M104 256h1M145 256h2M317 256h2M398 256h1M105 265h2M148 265h2M317 265h2M398 265h1M105 272h2M315 272h2M109 281h2M312 281h1M113 290h3M306 290h2M396 290h2M116 299h6M150 299h2M299 299h2M123 308h13M195 308h4M285 308h1M392 308h2M134 315h6M215 315h2M256 315h9M390 315h2M138 324h3M141 333h4M147 342h1M374 342h2M152 351h2M367 351h2M161 360h2M166 367h4M351 367h2M177 376h2M340 376h2M188 385h3M326 385h2M217 394h7M297 394h6"/>
<path stroke="#4c00b2" d="M191 118h8M215 118h3M174 127h5M199 127h3M161 136h4M186 136h4M152 143h4M177 143h4M143 152h4M168 152h2M136 161h2M159 161h4M131 170h1M154 170h2M125 179h2M148 179h2M272 179h4M313 179h4M122 186h1M145 186h2M267 186h2M329 186h4M140 195h1M365 195h6M136 204h4M288 204h2M376 204h2M111 213h2M132 213h4M381 213h2M109 222h2M131 222h7M308 222h2M387 222h3M107 229h2M129 229h3M136 229h2M390 229h4M105 238h2M140 238h1M105 247h2M141 247h2M105 256h2M319 256h1M107 265h2M145 265h3M107 272h4M147 272h3M111 281h3M313 281h2M396 281h2M116 290h13M122 299h10M394 299h2M136 308h4M152 308h7M191 308h4M286 308h2M140 315h3M211 315h4M265 315h5M389 315h1M141 324h2M385 324h2M145 333h2M380 333h1M148 342h2M154 351h2M163 360h2M358 360h2M349 367h2M179 376h2M338 376h2M191 385h4M322 385h4M224 394h5M290 394h7"/>
<path stroke="#4800b9" d="M199 118h16M179 127h5M195 127h4M165 136h3M183 136h3M156 143h3M174 143h3M147 152h1M165 152h3M138 161h3M156 161h3M132 170h2M150 170h4M127 179h2M145 179h3M276 179h28M312 179h1M123 186h2M141 186h4M269 186h1M326 186h3M118 195h2M138 195h2M274 195h2M346 195h19M114 204h2M134 204h2M290 204h2M372 204h4M113 213h1M131 213h1M301 213h2M380 213h1M111 222h2M129 222h2M385 222h2M109 229h2M127 229h2M132 229h4M313 229h2M389 229h1M107 238h2M125 238h6M136 238h4M317 238h2M392 238h4M107 247h2M123 247h6M140 247h1M319 247h1M396 247h2M107 256h2M123 256h4M143 256h2M109 265h4M122 265h7M143 265h2M319 265h1M111 272h18M145 272h2M317 272h2M396 272h2M114 281h17M148 281h2M129 290h3M308 290h2M132 299h2M301 299h2M140 308h1M159 308h4M186 308h5M288 308h2M390 308h2M143 315h2M209 315h2M270 315h4M143 324h4M383 324h2M147 333h3M378 333h2M150 342h4M372 342h2M156 351h1M365 351h2M356 360h2M170 367h2M347 367h2M181 376h2M337 376h1M195 385h4M320 385h2M229 394h5M285 394h5"/>
<path stroke="#4500bf" d="M184 127h11M168 136h15M159 143h6M168 143h6M148 152h4M159 152h6M141 161h2M152 161h4M134 170h2M147 170h3M129 179h2M143 179h2M304 179h8M125 186h2M140 186h1M270 186h2M324 186h2M120 195h2M136 195h2M276 195h1M338 195h8M116 204h4M132 204h2M292 204h2M369 204h3M114 213h2M127 213h4M376 213h4M113 222h1M125 222h4M310 222h2M383 222h2M111 229h2M122 229h5M387 229h2M109 238h4M120 238h5M131 238h5M390 238h2M109 247h4M118 247h5M129 247h2M138 247h2M394 247h2M109 256h4M116 256h7M127 256h2M141 256h2M320 256h2M396 256h2M113 265h9M141 265h2M396 265h2M129 272h2M143 272h2M131 281h1M145 281h3M315 281h2M132 290h2M394 290h2M134 299h2M392 299h2M141 308h2M150 308h2M163 308h2M183 308h3M290 308h2M145 315h2M206 315h3M274 315h2M387 315h2M147 324h1M150 333h2M154 342h2M371 342h1M157 351h2M364 351h1M165 360h1M355 360h1M172 367h2M183 376h1M335 376h2M199 385h1M319 385h1M234 394h8M277 394h8"/>
<path stroke="#4100c6" d="M165 143h3M152 152h7M143 161h9M136 170h11M131 179h12M127 186h4M134 186h6M272 186h2M322 186h2M122 195h3M132 195h4M277 195h2M337 195h1M120 204h3M127 204h5M294 204h1M365 204h4M116 213h11M303 213h1M374 213h2M114 222h11M380 222h3M113 229h9M315 229h2M383 229h4M113 238h7M319 238h1M389 238h1M113 247h5M131 247h1M134 247h4M320 247h2M390 247h4M113 256h3M129 256h2M140 256h1M322 256h2M394 256h2M129 265h2M320 265h2M141 272h2M319 272h1M143 281h2M394 281h2M134 290h2M147 290h3M310 290h2M136 299h2M303 299h1M143 308h4M148 308h2M165 308h3M179 308h4M389 308h1M147 315h1M156 315h3M202 315h4M276 315h3M148 324h4M381 324h2M152 333h4M376 333h2M156 342h1M166 360h2M174 367h1M346 367h1M184 376h2M333 376h2M200 385h2M315 385h4M242 394h35"/>
<path stroke="#3a00cc" d="M131 186h3M274 186h2M294 186h10M319 186h3M125 195h7M333 195h4M123 204h4M347 204h18M304 213h2M371 213h3M312 222h1M378 222h2M381 229h2M385 238h4M132 247h2M322 247h2M389 247h1M392 256h2M131 265h1M140 265h1M394 265h2M131 272h1M140 272h1M394 272h2M132 281h2M141 281h2M317 281h2M136 290h2M145 290h2M392 290h2M138 299h2M390 299h2M147 308h1M168 308h11M292 308h2M148 315h8M159 315h2M199 315h3M279 315h2M385 315h2M152 324h2M156 333h1M157 342h4M369 342h2M159 351h2M362 351h2M353 360h2M344 367h2M331 376h2M202 385h2M313 385h2"/>
<path stroke="#3400d2" d="M276 186h1M288 186h6M304 186h4M279 195h2M331 195h2M295 204h2M344 204h3M369 213h2M313 222h2M376 222h2M317 229h2M380 229h1M320 238h2M383 238h2M387 247h2M131 256h9M324 256h2M389 256h3M132 265h8M322 265h2M390 265h4M132 272h8M320 272h2M392 272h2M134 281h7M392 281h2M138 290h2M143 290h2M312 290h1M140 299h1M147 299h3M304 299h2M294 308h1M387 308h2M161 315h2M191 315h8M281 315h2M154 324h2M380 324h1M157 333h4M374 333h2M161 342h4M367 342h2M161 351h2M360 351h2M168 360h2M351 360h2M175 367h2M342 367h2M186 376h2M329 376h2M204 385h4M310 385h3"/>
<path stroke="#2e00d9" d="M277 186h11M281 195h2M329 195h2M297 204h2M340 204h4M306 213h2M364 213h5M315 222h2M372 222h4M319 229h1M378 229h2M322 238h2M381 238h2M324 247h2M385 247h2M387 256h2M324 265h2M389 265h1M322 272h2M390 272h2M319 281h1M140 290h3M390 290h2M141 299h6M389 299h1M163 315h2M186 315h5M283 315h2M383 315h2M156 324h9M161 333h2M165 342h3M163 351h2M170 360h2M349 360h2M177 367h2M188 376h2M328 376h1M208 385h1M308 385h2"/>
<path stroke="#2800e0" d="M283 195h2M292 195h12M328 195h1M299 204h4M337 204h3M308 213h2M353 213h11M317 222h2M371 222h1M320 229h2M376 229h2M324 238h2M380 238h1M326 247h2M383 247h2M326 256h2M385 256h2M389 272h1M389 281h3M313 290h2M306 299h2M295 308h2M385 308h2M165 315h3M183 315h3M165 324h1M233 324h10M378 324h2M163 333h3M372 333h2M168 342h2M365 342h2M358 351h2M340 367h2M326 376h2M209 385h2M306 385h2"/>
<path stroke="#2200e6" d="M308 186h4M285 195h7M304 195h4M303 204h1M335 204h2M310 213h2M346 213h7M319 222h1M369 222h2M322 229h2M374 229h2M378 238h2M381 247h2M328 256h1M383 256h2M326 265h2M387 265h2M324 272h2M387 272h2M320 281h2M387 281h2M315 290h2M389 290h1M387 299h2M297 308h2M168 315h2M181 315h2M285 315h1M381 315h2M166 324h2M226 324h7M243 324h6M166 333h4M170 342h4M165 351h1M356 351h2M172 360h2M347 360h2M179 367h2M338 367h2M190 376h1M324 376h2M211 385h2M303 385h3"/>
<path stroke="#1b00ea" d="M312 186h7M308 195h2M304 204h4M333 204h2M312 213h3M342 213h4M365 222h4M372 229h2M326 238h2M376 238h2M328 247h1M380 247h1M381 256h2M385 265h2M308 299h2M383 308h2M170 315h4M177 315h4M286 315h2M168 324h4M220 324h6M249 324h3M376 324h2M170 333h2M371 333h1M174 342h1M364 342h1M166 351h2M174 360h1M181 367h2M337 367h1M191 376h2M213 385h2M301 385h2"/>
<path stroke="#1500ef" d="M310 195h5M308 204h2M315 213h2M338 213h4M320 222h4M360 222h5M324 229h2M371 229h1M328 238h1M329 247h2M378 247h2M329 256h2M328 265h1M383 265h2M326 272h2M385 272h2M322 281h2M385 281h2M317 290h2M387 290h2M310 299h2M299 308h2M174 315h3M288 315h2M380 315h1M172 324h2M213 324h7M252 324h2M172 333h3M175 342h2M168 351h2M355 351h1M346 360h1M322 376h2M215 385h3M299 385h2"/>
<path stroke="#0e00f4" d="M310 204h3M317 213h3M324 222h2M351 222h9M326 229h3M367 229h4M329 238h2M374 238h2M331 247h2M331 256h2M380 256h1M381 265h2M383 272h2M383 281h2M383 290h2M385 299h2M301 308h2M174 324h3M209 324h4M254 324h9M374 324h2M175 333h2M369 333h2M177 342h2M362 342h2M170 351h2M179 351h2M175 360h2M344 360h2M183 367h1M335 367h2M193 376h2M320 376h2M218 385h2M295 385h4"/>
<path stroke="#0800f9" d="M313 204h9M320 213h4M326 222h3M342 222h9M329 229h2M365 229h2M331 238h2M372 238h2M333 247h2M376 247h2M378 256h2M329 265h2M328 272h1M381 272h2M324 281h2M319 290h1M385 290h2M312 299h1M303 308h1M381 308h2M290 315h2M177 324h6M184 324h25M263 324h4M177 333h2M179 342h2M172 351h2M181 351h2M353 351h2M177 360h2M184 367h2M195 376h2M319 376h1M220 385h4M294 385h1"/>
<path stroke="#0200fe" d="M326 195h2M324 213h2M331 229h4M360 229h5M333 238h2M371 238h1M333 256h2M331 265h2M380 265h1M381 281h2M381 290h2M383 299h2M304 308h2M292 315h2M378 315h2M183 324h1M267 324h3M179 333h2M367 333h2M181 342h2M360 342h2M174 351h1M183 351h3M179 360h2M342 360h2M333 367h2M197 376h2M224 385h2M292 385h2"/>
<path stroke="#0006ff" d="M324 195h2M344 229h16M335 238h3M369 238h2M335 247h2M374 247h2M335 256h2M376 256h2M329 272h2M380 272h1M326 281h2M320 290h2M313 299h2M306 308h2M380 308h1M294 315h1M270 324h4M372 324h2M181 333h3M183 342h1M186 351h2M351 351h2M181 360h2M186 367h2M331 367h2M199 376h1M317 376h2M226 385h3M288 385h4"/>
<path stroke="#000eff" d="M315 195h2M320 195h4M367 238h2M337 247h3M372 247h2M337 256h1M333 265h2M378 265h2M380 281h1M380 290h1M315 299h2M378 299h2M274 324h2M184 333h2M184 342h2M175 351h2M188 351h2M183 360h1M340 360h2M188 367h2M200 376h2M315 376h2M229 385h4M286 385h2"/>
<path stroke="#0016ff" d="M317 195h3M331 204h2M365 238h2M340 247h2M338 256h2M374 256h2M335 265h2M331 272h2M378 272h2M328 281h1M378 281h2M322 290h2M378 290h2M381 299h2M308 308h2M295 315h2M376 315h2M276 324h1M371 324h1M186 333h2M365 333h2M186 342h2M358 342h2M177 351h2M190 351h1M184 360h2M190 367h1M202 376h2M233 385h5M285 385h1"/>
<path stroke="#001dff" d="M328 204h3M337 213h1M344 238h5M362 238h3M342 247h2M371 247h1M376 265h2M333 272h2M317 299h2M376 299h2M310 308h2M378 308h2M297 315h2M277 324h4M188 333h2M191 351h2M349 351h2M186 360h2M191 367h2M329 367h2M204 376h4M313 376h2M238 385h4M281 385h4"/>
<path stroke="#0025ff" d="M322 204h6M331 213h6M349 238h13M344 247h2M369 247h2M340 256h2M372 256h2M337 265h1M376 272h2M329 281h2M376 281h2M324 290h2M376 290h2M380 299h1M299 315h2M374 315h2M281 324h2M190 333h3M364 333h1M188 342h2M193 351h2M188 360h2M338 360h2M193 367h2M208 376h1M312 376h1M242 385h9M277 385h4"/>
<path stroke="#002dff" d="M326 213h5M338 222h4M346 247h1M367 247h2M342 256h2M338 265h2M374 265h2M335 272h2M319 299h1M374 299h2M312 308h1M372 308h2M283 324h2M369 324h2M193 333h9M190 342h1M356 342h2M190 360h1M202 360h2M195 367h2M328 367h1M209 376h4M251 385h12M269 385h8"/>
<path stroke="#0035ff" d="M329 222h9M335 229h2M347 247h4M365 247h2M344 256h2M371 256h1M374 272h2M331 281h2M374 281h2M326 290h2M374 290h2M372 299h2M376 308h2M301 315h2M202 333h6M224 333h16M191 342h2M195 351h2M347 351h2M191 360h2M204 360h2M337 360h1M197 367h2M213 376h2M310 376h2M263 385h6"/>
<path stroke="#003dff" d="M337 229h7M338 238h2M351 247h2M364 247h1M346 256h1M340 265h2M372 265h2M337 272h1M333 281h2M320 299h2M313 308h2M371 308h1M303 315h1M372 315h2M285 324h1M208 333h16M240 333h5M362 333h2M193 342h2M197 351h2M193 360h2M206 360h2M199 367h1M326 367h2M215 376h3"/>
<path stroke="#0045ff" d="M340 238h4M353 247h11M347 256h2M369 256h2M338 272h2M372 272h2M372 281h2M328 290h1M372 290h2M371 299h1M369 308h2M304 315h2M367 315h2M286 324h2M367 324h2M245 333h4M195 342h2M355 342h1M199 351h1M195 360h2M208 360h1M200 367h2M218 376h2M308 376h2"/>
<path stroke="#004cff" d="M349 256h2M367 256h2M342 265h2M371 265h1M335 281h2M329 290h2M322 299h2M315 308h2M374 308h2M306 315h2M288 324h2M249 333h3M197 342h2M346 351h1M197 360h2M209 360h2M335 360h2M202 367h4M220 376h4M306 376h2"/>
<path stroke="#0054ff" d="M351 256h2M365 256h2M344 265h2M369 265h2M340 272h2M371 272h1M371 290h1M367 308h2M308 315h2M365 315h2M290 324h2M252 333h4M360 333h2M199 342h1M200 351h2M199 360h1M211 360h2M206 367h2M224 367h2M324 367h2M224 376h2"/>
<path stroke="#005cff" d="M353 256h2M364 256h1M346 265h1M337 281h1M371 281h1M331 290h2M324 299h2M369 299h2M317 308h2M310 315h2M371 315h1M292 324h2M365 324h2M256 333h7M200 342h2M353 342h2M202 351h2M213 360h2M208 367h3M226 367h1M226 376h3M304 376h2"/>
<path stroke="#0064ff" d="M355 256h9M367 265h2M342 272h2M369 272h2M369 290h2M312 315h1M364 315h1M360 324h2M263 333h6M202 342h4M204 351h2M344 351h2M200 360h2M215 360h2M333 360h2M211 367h2M227 367h4M322 367h2M229 376h2M303 376h1"/>
<path stroke="#006cff" d="M347 265h2M344 272h2M338 281h2M369 281h2M333 290h2M326 299h2M367 299h2M319 308h1M365 308h2M313 315h2M294 324h1M269 333h3M358 333h2M206 342h3M217 360h1M213 367h4M231 367h2M231 376h3M301 376h2"/>
<path stroke="#0073ff" d="M349 265h2M365 265h2M367 272h2M328 299h1M315 315h2M362 315h2M369 315h2M295 324h2M358 324h2M364 324h1M272 333h2M353 333h2M209 342h8M351 342h2M206 351h2M218 360h2M217 367h1M233 367h1M234 376h4M299 376h2"/>
<path stroke="#007bff" d="M351 265h2M364 265h1M346 272h1M340 281h2M367 281h2M335 290h2M367 290h2M365 299h2M320 308h2M364 308h1M297 324h2M274 333h3M217 342h12M208 351h3M342 351h2M220 360h2M331 360h2M218 367h2M234 367h4M320 367h2M238 376h2M297 376h2"/>
<path stroke="#0083ff" d="M353 265h3M360 265h4M347 272h2M365 272h2M329 299h2M317 315h2M360 315h2M299 324h2M356 324h2M277 333h2M351 333h2M229 342h7M344 342h2M211 351h2M222 360h4M220 367h2M238 367h4M240 376h3M295 376h2"/>
<path stroke="#008bff" d="M356 265h4M349 272h2M364 272h1M342 281h2M365 281h2M337 290h1M365 290h2M364 299h1M322 308h2M362 308h2M362 324h2M279 333h2M356 333h2M236 342h6M349 342h2M213 351h4M340 351h2M226 360h1M329 360h2M222 367h2M242 367h1M319 367h1M243 376h4M292 376h3"/>
<path stroke="#0093ff" d="M351 272h2M362 272h2M344 281h2M331 299h2M324 308h2M319 315h1M301 324h2M355 324h1M281 333h2M349 333h2M242 342h5M342 342h2M217 351h3M333 351h2M227 360h4M320 360h2M243 367h4M306 367h2M247 376h5M286 376h6"/>
<path stroke="#009bff" d="M353 272h3M358 272h4M346 281h1M364 281h1M338 290h2M364 290h1M360 308h2M358 315h2M303 324h1M283 333h3M247 342h4M347 342h2M220 351h4M338 351h2M231 360h2M328 360h1M247 367h4M304 367h2M317 367h2M252 376h4M283 376h3"/>
<path stroke="#00a2ff" d="M356 272h2M362 281h2M340 290h2M333 299h2M362 299h2M326 308h2M320 315h2M304 324h2M286 333h2M347 333h2M355 333h1M251 342h1M340 342h2M224 351h5M331 351h2M233 360h3M319 360h1M251 367h5M301 367h3M315 367h2M256 376h9M276 376h7"/>
<path stroke="#00aaff" d="M347 281h2M360 281h2M362 290h2M358 308h2M356 315h2M306 324h2M353 324h2M288 333h2M252 342h4M346 342h1M229 351h4M329 351h2M337 351h1M236 360h4M317 360h2M326 360h2M256 367h4M295 367h6M313 367h2M265 376h11"/>
<path stroke="#00b2ff" d="M349 281h4M358 281h2M342 290h2M360 290h2M335 299h2M360 299h2M328 308h1M322 315h2M308 324h2M290 333h2M346 333h1M256 342h7M338 342h2M233 351h3M240 360h3M315 360h2M324 360h2M260 367h7M288 367h7M312 367h1"/>
<path stroke="#00baff" d="M353 281h5M344 290h2M358 290h2M337 299h1M358 299h2M329 308h2M356 308h2M324 315h2M355 315h1M310 324h2M351 324h2M263 342h4M236 351h4M328 351h1M335 351h2M243 360h2M313 360h2M267 367h21M310 367h2"/>
<path stroke="#00c2ff" d="M346 290h1M356 290h2M356 299h2M331 308h2M353 315h2M312 324h1M349 324h2M292 333h2M344 333h2M267 342h3M337 342h1M240 351h3M245 360h4M312 360h1M322 360h2M308 367h2"/>
<path stroke="#00c9ff" d="M347 290h4M355 290h1M338 299h2M333 308h2M355 308h1M326 315h2M313 324h4M294 333h1M270 342h4M243 351h4M326 351h2M249 360h3M310 360h2"/>
<path stroke="#00d1ff" d="M351 290h4M340 299h2M355 299h1M335 308h2M353 308h2M328 315h1M351 315h2M317 324h2M347 324h2M295 333h2M342 333h2M274 342h3M335 342h2M247 351h2M324 351h2M252 360h6M306 360h4"/>
<path stroke="#00d9ff" d="M342 299h2M351 299h4M337 308h1M351 308h2M329 315h2M349 315h2M319 324h1M297 333h2M277 342h4M333 342h2M249 351h3M322 351h2M258 360h5M301 360h5"/>
<path stroke="#00e1ff" d="M344 299h7M338 308h2M349 308h2M331 315h2M320 324h4M346 324h1M299 333h4M340 333h2M281 342h2M252 351h4M320 351h2M263 360h7M294 360h7"/>
<path stroke="#00e9ff" d="M340 308h4M346 308h3M333 315h4M346 315h3M324 324h4M344 324h2M303 333h1M338 333h2M283 342h3M331 342h2M256 351h4M319 351h1M270 360h24"/>
<path stroke="#00f1ff" d="M344 308h2M337 315h3M342 315h4M328 324h3M342 324h2M304 333h4M286 342h2M329 342h2M260 351h5M315 351h4"/>
<path stroke="#00f8ff" d="M340 315h2M331 324h4M340 324h2M308 333h4M337 333h1M288 342h4M328 342h1M265 351h7M312 351h3"/>
<path stroke="#00fffe" d="M335 324h5M312 333h12M333 333h4M292 342h3M322 342h6M272 351h7M306 351h6"/>
<path stroke="#00fff6" d="M324 333h9M295 342h6M315 342h7M279 351h27"/>
<path stroke="#00ffed" d="M301 342h14"/>
</g>
<g transform="translate(0 2.666) scale(2.6660)" fill="none" stroke-width="2.03" shape-rendering="crispEdges">
<path stroke="#000000" d="M240 78h32M226 80h17M270 80h16M217 82h10M285 82h10M204 85h7M303 85h5M199 87h5M308 87h5M193 89h6M313 89h6M184 92h6M324 92h4M181 94h5M328 94h3M177 96h4M331 96h4M174 98h3M335 98h3M166 101h4M342 101h4M165 103h1M346 103h1M161 105h2M349 105h2M159 107h2M351 107h2M154 110h2M356 110h2M150 112h2M360 112h2M148 114h2M362 114h2M364 116h1M141 119h2M369 119h2M371 121h1M372 123h2M374 125h2M387 137h2M389 139h1M390 141h2M394 146h2M396 148h2M398 150h1M399 153h2M401 155h2M403 159h2M407 164h1M408 166h2M211 168h4M408 168h2M208 171h9M410 171h2M204 173h11M412 173h2M202 175h11M412 175h2M200 177h11M414 177h1M197 180h11M415 180h2M195 182h11M415 182h2M193 184h11M417 184h2M191 187h11M190 189h12M419 189h2M188 191h12M419 191h2M186 193h16M421 193h2M184 196h18M183 198h19M423 198h1M183 200h21M423 200h1M181 202h25M179 205h18M200 205h9M424 205h2M179 207h18M200 207h11M177 209h18M200 209h13M231 209h3M238 209h20M426 209h2M177 211h18M199 211h18M226 211h21M426 211h2M177 214h18M199 214h35M177 216h18M197 216h34M428 216h2M179 218h48M428 218h2M181 220h43M428 220h2M186 223h25M188 225h16M430 225h2M190 227h12M430 227h2M191 230h11M430 230h2M193 232h9M430 232h2M193 234h9M430 234h2M191 236h11M191 239h11M297 239h2M432 239h1M191 241h11M432 241h1M191 243h11M432 243h1M191 245h13M299 245h2M432 245h1M191 248h13M432 248h1M191 250h15M432 250h1M191 252h15M432 252h1M191 254h15M432 254h1M193 257h15M432 257h1M199 259h9M432 259h1M200 261h8M432 261h1M202 263h7M432 263h1M204 266h5M432 266h1M206 268h5M432 268h1M206 270h5M432 270h1M208 273h5M209 275h6M209 277h8M211 279h7M430 279h2M215 282h5M430 282h2M217 284h5M430 284h2M217 286h7M218 288h8M224 291h5M428 291h2M226 293h7M428 293h2M227 295h7M277 295h2M231 297h7M274 297h2M247 300h16M426 300h2M424 306h2M421 316h2M93 325h2M98 336h2M301 426h2M285 429h1M270 431h2"/>
<path stroke="#060006" d="M243 80h27M227 82h58M211 85h9M292 85h11M204 87h9M299 87h9M199 89h7M306 89h7M190 92h5M317 92h7M186 94h5M322 94h6M181 96h5M326 96h5M177 98h6M329 98h6M170 101h5M337 101h5M166 103h6M340 103h6M163 105h5M344 105h5M161 107h4M347 107h4M156 110h3M353 110h3M152 112h4M355 112h5M150 114h2M358 114h4M147 116h3M360 116h4M143 119h2M365 119h4M140 121h3M367 121h4M138 123h3M369 123h3M136 125h4M371 125h3M132 128h2M376 128h4M131 130h1M378 130h3M129 132h2M380 132h3M127 134h2M381 134h4M123 137h2M385 137h2M122 139h1M385 139h4M120 141h3M387 141h3M118 144h2M390 144h4M116 146h2M392 146h2M114 148h2M394 148h2M113 150h3M394 150h4M111 153h2M398 153h1M109 155h2M398 155h3M109 157h2M399 157h4M107 159h2M401 159h2M105 162h2M403 162h4M104 164h1M209 164h8M405 164h2M102 166h3M206 166h18M405 166h3M102 168h2M204 168h7M215 168h9M407 168h1M100 171h2M200 171h8M217 171h5M408 171h2M98 173h2M199 173h5M215 173h5M408 173h4M98 175h2M197 175h5M213 175h7M410 175h2M96 177h2M197 177h3M211 177h7M410 177h4M95 180h1M193 180h4M208 180h7M412 180h3M95 182h1M191 182h4M206 182h7M414 182h1M93 184h2M190 184h3M204 184h7M414 184h3M186 187h5M202 187h7M415 187h4M91 189h2M184 189h6M202 189h7M417 189h2M91 191h2M183 191h5M200 191h8M417 191h2M89 193h2M181 193h5M202 193h6M417 193h4M179 196h5M202 196h6M419 196h4M88 198h1M177 198h6M202 198h6M419 198h4M88 200h1M177 200h6M204 200h5M421 200h2M175 202h6M206 202h5M421 202h3M86 205h2M174 205h5M209 205h8M423 205h1M172 207h7M211 207h23M242 207h10M423 207h3M84 209h2M172 209h5M213 209h18M234 209h4M258 209h7M423 209h3M84 211h2M170 211h7M217 211h9M267 211h3M424 211h2M172 214h5M276 214h1M424 214h4M82 216h2M172 216h5M279 216h2M424 216h4M82 218h2M174 218h5M426 218h2M82 220h2M175 220h6M285 220h1M426 220h2M179 223h7M288 223h2M426 223h4M80 225h2M181 225h7M290 225h2M426 225h4M80 227h2M183 227h7M426 227h4M186 230h5M294 230h1M428 230h2M186 232h7M295 232h2M428 232h2M188 234h5M295 234h2M428 234h2M188 236h3M297 236h2M428 236h4M79 239h1M188 239h3M428 239h4M79 241h1M188 241h3M299 241h2M428 241h4M79 243h1M188 243h3M299 243h2M430 243h2M79 245h1M188 245h3M430 245h2M190 248h1M301 248h2M430 248h2M190 250h1M301 250h2M430 250h2M190 252h1M301 252h2M430 252h2M190 254h1M301 254h2M430 254h2M190 257h3M301 257h2M430 257h2M191 259h8M301 259h2M430 259h2M193 261h7M301 261h2M430 261h2M79 263h1M195 263h7M301 263h2M430 263h2M79 266h1M199 266h5M299 266h2M430 266h2M79 268h1M200 268h6M299 268h2M430 268h2M79 270h1M200 270h6M299 270h2M430 270h2M204 273h4M297 273h2M428 273h4M204 275h5M428 275h4M206 277h3M295 277h2M428 277h4M208 279h3M428 279h2M80 282h2M211 282h4M428 282h2M80 284h2M213 284h4M428 284h2M215 286h2M290 286h2M428 286h2M217 288h1M288 288h2M428 288h2M82 291h2M220 291h4M283 291h2M426 291h2M82 293h2M222 293h4M281 293h2M426 293h2M226 295h1M279 295h2M426 295h2M84 297h2M227 297h4M276 297h1M426 297h2M84 300h2M238 300h9M263 300h6M424 300h2M86 302h2M424 302h2M86 304h2M424 304h2M86 306h2M423 306h1M88 309h1M423 309h1M88 311h1M421 311h3M89 313h2M421 313h2M89 316h2M419 316h2M91 318h2M419 318h2M91 320h2M419 320h2M93 322h2M417 322h2M95 325h1M415 325h4M95 327h1M415 327h2M95 329h3M415 329h2M96 331h2M414 331h1M98 334h2M412 334h2M100 336h2M412 336h2M100 338h2M410 338h2M100 340h4M410 340h2M102 343h3M407 343h3M104 345h1M407 345h1M105 347h2M405 347h2M105 349h2M405 349h2M401 352h2M109 354h2M401 354h2M111 356h2M399 356h2M398 358h1M114 361h2M396 361h2M394 363h2M392 365h2M120 368h2M389 368h3M389 370h1M387 372h2M385 374h2M381 377h2M380 379h1M378 381h2M376 383h2M372 386h2M369 388h3M367 390h4M365 392h2M360 395h4M358 397h4M356 399h2M353 401h3M347 404h4M344 406h3M342 408h4M335 411h3M331 413h4M328 415h3M322 417h6M193 420h2M313 420h6M199 422h1M308 422h5M204 424h2M301 424h7M209 426h4M294 426h7M226 429h8M270 429h15M240 431h30"/>
<path stroke="#0d000c" d="M220 85h7M283 85h9M213 87h5M292 87h7M206 89h5M301 89h5M195 92h4M312 92h5M191 94h4M317 94h5M186 96h4M322 96h4M183 98h3M326 98h3M175 101h4M335 101h2M172 103h2M337 103h3M168 105h2M340 105h4M165 107h1M344 107h3M159 110h2M349 110h4M156 112h1M353 112h2M152 114h4M355 114h3M150 116h2M358 116h2M145 119h2M362 119h3M143 121h2M365 121h2M141 123h2M367 123h2M140 125h1M369 125h2M134 128h2M372 128h4M132 130h2M374 130h4M131 132h1M378 132h2M129 134h2M380 134h1M125 137h2M381 137h4M123 139h2M383 139h2M385 141h2M120 144h2M389 144h1M118 146h2M390 146h2M116 148h2M390 148h4M392 150h2M113 153h1M396 153h2M111 155h2M396 155h2M111 157h2M398 157h1M109 159h2M399 159h2M107 162h2M208 162h18M401 162h2M105 164h2M206 164h3M217 164h14M403 164h2M204 166h2M224 166h5M403 166h2M104 168h1M200 168h4M224 168h5M405 168h2M102 171h2M197 171h3M222 171h5M407 171h1M100 173h2M195 173h4M220 173h6M407 173h1M100 175h2M193 175h4M220 175h4M408 175h2M98 177h2M193 177h4M218 177h4M408 177h2M96 180h2M190 180h3M215 180h5M410 180h2M96 182h2M188 182h3M213 182h5M412 182h2M95 184h1M186 184h4M211 184h6M412 184h2M93 187h2M183 187h3M209 187h4M414 187h1M93 189h2M183 189h1M209 189h4M415 189h2M181 191h2M208 191h3M415 191h2M91 193h2M179 193h2M208 193h3M415 193h2M89 196h2M175 196h4M208 196h3M417 196h2M89 198h2M175 198h2M208 198h3M174 200h3M209 200h6M419 200h2M88 202h1M172 202h3M211 202h6M419 202h2M170 205h4M217 205h17M421 205h2M86 207h2M170 207h2M234 207h8M252 207h8M421 207h2M86 209h2M168 209h4M265 209h2M421 209h2M168 211h2M270 211h2M423 211h1M84 214h2M168 214h4M277 214h2M423 214h1M84 216h2M168 216h4M281 216h2M423 216h1M170 218h4M283 218h2M424 218h2M172 220h3M424 220h2M82 223h2M174 223h5M424 223h2M82 225h2M175 225h6M424 225h2M177 227h6M292 227h2M80 230h2M181 230h5M426 230h2M80 232h2M183 232h3M426 232h2M80 234h2M183 234h5M297 234h2M426 234h2M80 236h2M183 236h5M426 236h2M184 239h4M299 239h2M184 241h4M186 243h2M428 243h2M186 245h2M301 245h2M428 245h2M79 248h1M186 248h4M428 248h2M79 250h1M186 250h4M428 250h2M79 252h1M186 252h4M428 252h2M79 254h1M188 254h2M428 254h2M79 257h1M188 257h2M428 257h2M79 259h1M190 259h1M428 259h2M79 261h1M190 261h3M428 261h2M191 263h4M428 263h2M195 266h4M301 266h2M428 266h2M197 268h3M428 268h2M199 270h1M428 270h2M80 273h2M200 273h4M80 275h2M202 275h2M297 275h2M80 277h2M202 277h4M426 277h2M80 279h2M204 279h4M295 279h2M426 279h2M208 282h3M294 282h1M426 282h2M82 284h2M209 284h4M292 284h2M426 284h2M82 286h2M213 286h2M426 286h2M82 288h2M215 288h2M426 288h2M84 291h2M218 291h2M285 291h1M424 291h2M84 293h2M220 293h2M283 293h2M424 293h2M84 295h2M224 295h2M424 295h2M226 297h1M277 297h2M424 297h2M86 300h2M233 300h5M269 300h3M423 300h1M245 302h18M423 302h1M88 304h1M423 304h1M88 306h1M89 309h2M421 309h2M89 311h2M419 313h2M91 316h2M93 318h2M417 318h2M93 320h2M417 320h2M95 322h1M96 325h2M96 327h2M414 327h1M98 329h2M414 329h1M98 331h2M412 331h2M100 334h2M410 334h2M102 336h2M410 336h2M102 338h2M408 338h2M408 340h2M105 345h2M405 345h2M107 347h2M403 347h2M107 349h2M403 349h2M109 352h2M399 352h2M111 354h2M399 354h2M113 356h1M398 356h1M113 358h1M396 358h2M116 361h2M394 361h2M116 363h2M392 363h2M118 365h2M390 365h2M122 368h1M122 370h1M387 370h2M123 372h2M385 372h2M125 374h2M383 374h2M129 377h2M380 377h1M131 379h1M378 379h2M132 381h2M376 381h2M134 383h2M374 383h2M138 386h2M371 386h1M140 388h1M367 388h2M141 390h2M365 390h2M364 392h1M148 395h2M358 395h2M150 397h2M356 397h2M154 399h2M355 399h1M156 401h1M351 401h2M161 404h2M346 404h1M165 406h1M342 406h2M166 408h4M338 408h4M174 411h1M331 411h4M177 413h2M328 413h3M181 415h3M324 415h4M184 417h4M320 417h2M195 420h4M310 420h3M200 422h4M304 422h4M206 424h5M297 424h4M213 426h5M288 426h6M234 429h36"/>
<path stroke="#140013" d="M227 85h11M272 85h11M218 87h6M286 87h6M211 89h4M295 89h6M199 92h3M308 92h4M195 94h2M313 94h4M190 96h3M319 96h3M186 98h2M322 98h4M179 101h2M331 101h4M174 103h3M335 103h2M170 105h4M338 105h2M166 107h4M342 107h2M161 110h2M347 110h2M157 112h2M349 112h4M156 114h1M353 114h2M152 116h2M355 116h3M147 119h1M360 119h2M145 121h2M362 121h3M143 123h2M365 123h2M367 125h2M136 128h2M371 128h1M134 130h2M372 130h2M132 132h2M374 132h4M131 134h1M376 134h4M127 137h2M380 137h1M125 139h2M381 139h2M123 141h2M383 141h2M387 144h2M120 146h2M389 146h1M118 148h2M226 148h8M116 150h2M224 150h9M390 150h2M114 153h2M394 153h2M113 155h1M394 155h2M396 157h2M211 159h7M398 159h1M206 162h2M226 162h7M399 162h2M107 164h2M202 164h4M231 164h2M401 164h2M105 166h2M200 166h4M229 166h4M401 166h2M199 168h1M229 168h4M403 168h2M195 171h2M227 171h4M405 171h2M102 173h2M193 173h2M226 173h3M191 175h2M224 175h2M407 175h1M100 177h2M190 177h3M222 177h4M98 180h2M186 180h4M220 180h2M186 182h2M218 182h4M410 182h2M96 184h2M184 184h2M217 184h3M95 187h1M181 187h2M213 187h4M179 189h4M213 189h2M414 189h1M93 191h2M177 191h4M211 191h4M414 191h1M177 193h2M211 193h4M91 196h2M174 196h1M211 196h4M172 198h3M211 198h7M417 198h2M89 200h2M172 200h2M215 200h9M417 200h2M89 202h2M170 202h2M217 202h14M88 205h1M168 205h2M234 205h17M419 205h2M88 207h1M166 207h4M260 207h3M419 207h2M166 209h2M267 209h2M86 211h2M166 211h2M272 211h2M421 211h2M166 214h2M279 214h2M166 216h2M84 218h2M166 218h4M285 218h1M423 218h1M84 220h2M166 220h6M286 220h2M423 220h1M170 223h4M290 223h2M172 225h3M292 225h2M82 227h2M174 227h3M424 227h2M82 230h2M175 230h6M295 230h2M424 230h2M177 232h6M424 232h2M179 234h4M179 236h4M80 239h2M181 239h3M426 239h2M80 241h2M183 241h1M426 241h2M80 243h2M183 243h3M301 243h2M426 243h2M80 245h2M183 245h3M426 245h2M80 248h2M184 248h2M426 248h2M184 250h2M426 250h2M184 252h2M426 252h2M184 254h4M303 254h1M426 254h2M186 257h2M303 257h1M426 257h2M188 259h2M426 259h2M80 261h2M188 261h2M426 261h2M80 263h2M190 263h1M426 263h2M80 266h2M191 266h4M426 266h2M80 268h2M193 268h4M301 268h2M426 268h2M80 270h2M195 270h4M426 270h2M199 273h1M299 273h2M426 273h2M200 275h2M426 275h2M82 277h2M200 277h2M297 277h2M82 279h2M202 279h2M82 282h2M206 282h2M208 284h1M424 284h2M209 286h4M292 286h2M424 286h2M84 288h2M213 288h2M290 288h2M424 288h2M217 291h1M286 291h2M86 295h2M222 295h2M281 295h2M423 295h1M86 297h2M224 297h2M279 297h2M423 297h1M88 300h1M231 300h2M272 300h2M88 302h1M238 302h7M263 302h4M421 302h2M421 304h2M89 306h2M421 306h2M419 309h2M91 311h2M419 311h2M91 313h2M93 316h2M417 316h2M95 320h1M415 320h2M415 322h2M414 325h1M98 327h2M412 329h2M100 331h2M102 334h2M408 336h2M104 338h1M104 340h1M407 340h1M105 343h2M405 343h2M107 345h2M403 345h2M109 349h2M401 349h2M111 352h2M113 354h1M398 354h1M396 356h2M114 358h2M392 361h2M118 363h2M390 363h2M120 365h2M387 368h2M123 370h2M385 370h2M125 372h2M383 372h2M127 374h2M381 374h2M378 377h2M376 379h2M374 381h2M372 383h2M140 386h1M369 386h2M141 388h2M143 390h2M364 390h1M145 392h2M362 392h2M150 395h2M356 395h2M152 397h2M355 397h1M156 399h1M353 399h2M157 401h2M349 401h2M163 404h2M344 404h2M166 406h2M340 406h2M170 408h2M337 408h1M175 411h4M329 411h2M179 413h4M326 413h2M184 415h2M322 415h2M188 417h3M317 417h3M199 420h1M306 420h4M204 422h4M301 422h3M211 424h4M294 424h3M218 426h6M283 426h5"/>
<path stroke="#1a0019" d="M238 85h34M224 87h7M279 87h7M215 89h5M290 89h5M202 92h4M304 92h4M197 94h3M310 94h3M193 96h2M315 96h4M188 98h3M320 98h2M181 101h2M328 101h3M177 103h2M331 103h4M174 105h1M335 105h3M170 107h2M338 107h4M163 110h2M346 110h1M159 112h2M347 112h2M157 114h2M351 114h2M154 116h2M353 116h2M148 119h2M358 119h2M147 121h1M360 121h2M364 123h1M141 125h2M365 125h2M138 128h2M369 128h2M136 130h2M371 130h1M372 132h2M374 134h2M378 137h2M127 139h2M380 139h1M125 141h2M381 141h2M122 144h1M385 144h2M224 146h19M387 146h2M222 148h4M234 148h9M389 148h1M118 150h2M220 150h4M233 150h5M389 150h1M217 153h12M392 153h2M215 155h11M113 157h1M211 157h13M394 157h2M111 159h2M208 159h3M218 159h13M396 159h2M109 162h2M204 162h2M233 162h1M398 162h1M200 164h2M233 164h1M399 164h2M199 166h1M233 166h1M105 168h2M197 168h2M233 168h1M401 168h2M104 171h1M193 171h2M231 171h2M403 171h2M191 173h2M229 173h2M405 173h2M102 175h2M190 175h1M226 175h3M188 177h2M226 177h1M407 177h1M184 180h2M222 180h4M408 180h2M98 182h2M183 182h3M222 182h2M183 184h1M220 184h2M410 184h2M179 187h2M217 187h3M412 187h2M95 189h1M177 189h2M215 189h3M412 189h2M175 191h2M215 191h2M93 193h2M175 193h2M215 193h2M414 193h1M172 196h2M215 196h7M415 196h2M91 198h2M170 198h2M218 198h9M415 198h2M170 200h2M224 200h7M168 202h2M231 202h2M417 202h2M166 205h2M251 205h7M263 207h2M88 209h1M165 209h1M269 209h1M419 209h2M88 211h1M165 211h1M274 211h2M419 211h2M86 214h2M165 214h1M421 214h2M86 216h2M165 216h1M283 216h2M421 216h2M165 218h1M421 218h2M165 220h1M84 223h2M166 223h4M423 223h1M84 225h2M168 225h4M423 225h1M170 227h4M294 227h1M423 227h1M172 230h3M82 232h2M174 232h3M297 232h2M82 234h2M175 234h4M424 234h2M82 236h2M175 236h4M299 236h2M424 236h2M179 239h2M424 239h2M179 241h4M301 241h2M424 241h2M179 243h4M424 243h2M181 245h2M181 248h3M303 248h1M80 250h2M183 250h1M303 250h1M80 252h2M183 252h1M303 252h1M80 254h2M183 254h1M80 257h2M184 257h2M80 259h2M186 259h2M303 259h1M186 261h2M303 261h1M188 263h2M303 263h1M190 266h1M191 268h2M193 270h2M301 270h2M82 273h2M195 273h4M424 273h2M82 275h2M197 275h3M299 275h2M424 275h2M199 277h1M424 277h2M200 279h2M297 279h2M424 279h2M84 282h2M204 282h2M424 282h2M84 284h2M206 284h2M294 284h1M84 286h2M208 286h1M209 288h4M86 291h2M215 291h2M423 291h1M86 293h2M218 293h2M285 293h1M423 293h1M220 295h2M88 297h1M222 297h2M229 300h2M421 300h2M89 302h2M234 302h4M267 302h2M89 304h2M419 306h2M91 309h2M417 311h2M93 313h2M417 313h2M95 316h1M415 316h2M95 318h1M415 318h2M96 320h2M96 322h2M414 322h1M98 325h2M100 327h2M412 327h2M100 329h2M102 331h2M410 331h2M408 334h2M104 336h1M407 338h1M105 340h2M107 343h2M403 343h2M109 347h2M401 347h2M111 349h2M113 352h1M398 352h1M114 356h2M116 358h2M394 358h2M118 361h2M120 363h2M389 365h1M123 368h2M385 368h2M125 370h2M383 370h2M381 372h2M380 374h1M131 377h1M376 377h2M132 379h2M374 379h2M134 381h2M372 381h2M136 383h2M371 383h1M367 386h2M143 388h2M365 388h2M145 390h2M147 392h1M360 392h2M152 395h2M154 397h2M353 397h2M157 399h2M351 399h2M159 401h2M347 401h2M165 404h1M342 404h2M168 406h2M338 406h2M172 408h2M335 408h2M179 411h2M328 411h1M183 413h1M324 413h2M186 415h2M319 415h3M191 417h2M315 417h2M200 420h4M303 420h3M208 422h3M297 422h4M215 424h3M288 424h6M224 426h7M277 426h6"/>
<path stroke="#20001f" d="M231 87h9M269 87h10M220 89h6M283 89h7M206 92h3M301 92h3M200 94h2M306 94h4M195 96h4M312 96h3M191 98h2M317 98h3M183 101h1M326 101h2M179 103h2M329 103h2M175 105h2M333 105h2M172 107h2M337 107h1M165 110h1M342 110h4M161 112h2M346 112h1M349 114h2M156 116h1M351 116h2M150 119h2M356 119h2M358 121h2M145 123h2M362 123h2M143 125h2M364 125h1M367 128h2M369 130h2M134 132h2M371 132h1M132 134h2M372 134h2M129 137h2M376 137h2M378 139h2M380 141h1M224 144h23M383 144h2M122 146h1M222 146h2M243 146h9M385 146h2M120 148h2M220 148h2M243 148h9M387 148h2M218 150h2M238 150h5M116 153h2M213 153h4M229 153h4M390 153h2M114 155h2M211 155h4M226 155h3M392 155h2M209 157h2M224 157h7M206 159h2M231 159h3M394 159h2M200 162h4M234 162h4M199 164h1M234 164h4M398 164h1M107 166h2M197 166h2M234 166h2M399 166h2M195 168h2M234 168h2M191 171h2M233 171h1M104 173h1M190 173h1M231 173h3M403 173h2M188 175h2M229 175h4M405 175h2M102 177h2M186 177h2M227 177h4M405 177h2M100 180h2M183 180h1M226 180h1M407 180h1M181 182h2M224 182h2M408 182h2M98 184h2M181 184h2M222 184h2M408 184h2M96 187h2M177 187h2M220 187h2M410 187h2M175 189h2M218 189h2M95 191h1M174 191h1M217 191h3M412 191h2M174 193h1M217 193h5M93 196h2M170 196h2M222 196h5M414 196h1M227 198h4M91 200h2M168 200h2M231 200h2M415 200h2M91 202h2M166 202h2M233 202h1M415 202h2M89 205h2M165 205h1M258 205h3M417 205h2M89 207h2M165 207h1M265 207h2M417 207h2M163 209h2M270 209h2M163 211h2M163 214h2M281 214h2M419 214h2M163 216h2M86 218h2M163 218h2M86 220h2M163 220h2M288 220h2M421 220h2M163 223h3M292 223h2M421 223h2M165 225h3M84 227h2M165 227h5M84 230h2M168 230h4M423 230h1M170 232h4M423 232h1M172 234h3M299 234h2M423 234h1M172 236h3M82 239h2M175 239h4M301 239h2M82 241h2M175 241h4M82 243h2M177 243h2M82 245h2M177 245h4M303 245h1M424 245h2M179 248h2M424 248h2M179 250h4M424 250h2M181 252h2M424 252h2M181 254h2M424 254h2M183 257h1M424 257h2M183 259h3M424 259h2M82 261h2M184 261h2M424 261h2M82 263h2M186 263h2M424 263h2M82 266h2M188 266h2M424 266h2M82 268h2M190 268h1M424 268h2M82 270h2M190 270h3M424 270h2M193 273h2M195 275h2M84 277h2M197 277h2M84 279h2M199 279h1M202 282h2M295 282h2M423 282h1M204 284h2M423 284h1M86 286h2M206 286h2M423 286h1M86 288h2M208 288h1M423 288h1M213 291h2M88 293h1M215 293h3M421 293h2M88 295h1M218 295h2M283 295h2M421 295h2M281 297h2M421 297h2M89 300h2M227 300h2M274 300h2M231 302h3M269 302h1M419 302h2M91 304h2M247 304h7M419 304h2M91 306h2M93 309h2M417 309h2M93 311h2M96 318h2M414 320h1M98 322h2M100 325h2M412 325h2M102 329h2M410 329h2M104 334h1M105 336h2M407 336h1M105 338h2M107 340h2M405 340h2M109 343h2M109 345h2M401 345h2M111 347h2M399 349h2M114 354h2M396 354h2M116 356h2M394 356h2M392 358h2M120 361h2M390 361h2M389 363h1M122 365h1M387 365h2M125 368h2M127 372h2M129 374h2M132 377h2M134 379h2M136 381h2M138 383h2M141 386h2M365 386h2M364 388h1M147 390h1M362 390h2M148 392h2M358 392h2M355 395h1M156 397h1M351 397h2M349 399h2M161 401h2M346 401h1M166 404h2M340 404h2M170 406h2M337 406h1M174 408h1M333 408h2M181 411h2M326 411h2M184 413h2M320 413h4M188 415h3M317 415h2M193 417h2M312 417h3M204 420h4M301 420h2M211 422h4M294 422h3M218 424h6M285 424h3M231 426h7M270 426h7"/>
<path stroke="#270025" d="M240 87h29M226 89h5M277 89h6M209 92h2M295 92h6M202 94h4M303 94h3M199 96h1M308 96h4M193 98h2M313 98h4M184 101h2M322 101h4M181 103h2M326 103h3M177 105h2M329 105h4M174 107h1M333 107h4M166 110h2M340 110h2M163 112h2M344 112h2M159 114h2M346 114h3M157 116h2M349 116h2M152 119h2M355 119h1M148 121h2M356 121h2M147 123h1M360 123h2M362 125h2M140 128h1M365 128h2M138 130h2M367 130h2M136 132h2M369 132h2M131 137h1M129 139h2M127 141h2M123 144h2M222 144h2M247 144h9M381 144h2M220 146h2M252 146h8M383 146h2M218 148h2M252 148h8M385 148h2M120 150h2M217 150h1M243 150h6M387 150h2M211 153h2M233 153h3M389 153h1M209 155h2M229 155h4M390 155h2M114 157h2M208 157h1M231 157h3M392 157h2M113 159h1M204 159h2M234 159h4M111 162h2M199 162h1M238 162h2M396 162h2M109 164h2M197 164h2M238 164h2M195 166h2M236 166h2M398 166h1M107 168h2M193 168h2M236 168h2M399 168h2M105 171h2M190 171h1M234 171h2M401 171h2M188 173h2M234 173h2M104 175h1M186 175h2M233 175h1M403 175h2M184 177h2M231 177h2M181 180h2M227 180h2M226 182h1M407 182h1M179 184h2M224 184h2M175 187h2M222 187h2M96 189h2M174 189h1M220 189h4M410 189h2M220 191h4M95 193h1M172 193h2M222 193h4M412 193h2M168 196h2M227 196h4M93 198h2M168 198h2M231 198h2M414 198h1M166 200h2M233 200h1M414 200h1M234 202h4M261 205h2M415 205h2M163 207h2M267 207h2M89 209h2M272 209h2M417 209h2M276 211h1M417 211h2M88 214h1M161 214h2M88 216h1M161 216h2M285 216h1M419 216h2M161 218h2M286 218h2M419 218h2M161 220h2M86 223h2M161 223h2M86 225h2M163 225h2M294 225h1M421 225h2M163 227h2M421 227h2M163 230h5M297 230h2M84 232h2M165 232h5M84 234h2M166 234h6M84 236h2M170 236h2M423 236h1M172 239h3M423 239h1M174 241h1M423 241h1M174 243h3M303 243h1M423 243h1M175 245h2M423 245h1M82 248h2M177 248h2M82 250h2M177 250h2M82 252h2M177 252h4M82 254h2M179 254h2M82 257h2M181 257h2M82 259h2M181 259h2M183 261h1M183 263h3M186 266h2M303 266h1M186 268h4M84 270h2M188 270h2M423 270h1M84 273h2M191 273h2M423 273h1M84 275h2M193 275h2M423 275h1M195 277h2M299 277h2M423 277h1M197 279h2M423 279h1M86 282h2M200 282h2M86 284h2M202 284h2M204 286h2M206 288h2M292 288h2M421 288h2M88 291h1M211 291h2M288 291h2M421 291h2M213 293h2M286 293h2M89 295h2M217 295h1M89 297h2M218 297h4M226 300h1M276 300h1M419 300h2M91 302h2M229 302h2M270 302h2M238 304h9M254 304h7M93 306h2M417 306h2M95 311h1M415 311h2M95 313h1M415 313h2M96 316h2M414 316h1M414 318h1M98 320h2M412 322h2M410 325h2M102 327h2M410 327h2M104 331h1M408 331h2M105 334h2M407 334h1M107 338h2M405 338h2M403 340h2M401 343h2M111 345h2M399 347h2M113 349h1M398 349h1M114 352h2M396 352h2M116 354h2M394 354h2M118 358h2M389 361h1M122 363h1M387 363h2M123 365h2M383 368h2M127 370h2M381 370h2M129 372h2M380 372h1M131 374h1M378 374h2M374 377h2M372 379h2M371 381h1M140 383h1M369 383h2M143 386h2M364 386h1M145 388h2M362 388h2M360 390h2M150 392h2M154 395h2M353 395h2M157 397h2M349 397h2M159 399h2M347 399h2M163 401h2M344 401h2M168 404h2M338 404h2M172 406h2M335 406h2M175 408h2M331 408h2M183 411h1M324 411h2M186 413h2M319 413h1M191 415h2M315 415h2M195 417h4M310 417h2M208 420h3M297 420h4M215 422h3M290 422h4M224 424h5M279 424h6M238 426h32"/>
<path stroke="#2c002b" d="M231 89h7M269 89h8M211 92h4M292 92h3M206 94h2M299 94h4M200 96h2M306 96h2M195 98h2M312 98h1M186 101h4M320 101h2M183 103h1M324 103h2M179 105h2M328 105h1M175 107h2M331 107h2M168 110h2M338 110h2M165 112h1M342 112h2M161 114h2M344 114h2M347 116h2M353 119h2M150 121h2M355 121h1M356 123h4M145 125h2M360 125h2M364 128h1M365 130h2M367 132h2M134 134h2M371 134h1M374 137h2M376 139h2M224 141h27M378 141h2M220 144h2M256 144h5M380 144h1M123 146h2M218 146h2M260 146h3M381 146h2M122 148h1M217 148h1M260 148h3M383 148h2M213 150h4M249 150h7M385 150h2M209 153h2M236 153h2M116 155h2M208 155h1M233 155h3M389 155h1M206 157h2M234 157h4M390 157h2M202 159h2M238 159h2M392 159h2M197 162h2M240 162h2M394 162h2M195 164h2M240 164h2M396 164h2M109 166h2M193 166h2M238 166h2M191 168h2M238 168h2M398 168h1M188 171h2M236 171h2M399 171h2M186 173h2M236 173h2M401 173h2M184 175h2M234 175h2M183 177h1M233 177h3M403 177h2M229 180h4M405 180h2M100 182h2M179 182h2M227 182h4M177 184h2M226 184h3M407 184h1M98 187h2M174 187h1M224 187h2M408 187h2M172 189h2M224 189h2M96 191h2M172 191h2M224 191h3M410 191h2M170 193h2M226 193h3M410 193h2M95 196h1M231 196h2M412 196h2M166 198h2M233 198h1M93 200h2M234 200h2M165 202h1M238 202h4M414 202h1M91 205h2M163 205h2M263 205h2M91 207h2M269 207h1M415 207h2M161 209h2M415 209h2M89 211h2M161 211h2M283 214h2M417 214h2M88 218h1M159 218h2M88 220h1M159 220h2M419 220h2M159 223h2M419 223h2M159 225h4M86 227h2M295 227h2M86 230h2M161 230h2M421 230h2M161 232h4M299 232h2M421 232h2M161 234h5M421 234h2M163 236h7M301 236h2M421 236h2M84 239h2M168 239h4M84 241h2M170 241h4M303 241h1M84 243h2M172 243h2M84 245h2M172 245h3M84 248h2M174 248h3M423 248h1M84 250h2M175 250h2M423 250h1M175 252h2M423 252h1M177 254h2M423 254h1M84 257h2M179 257h2M423 257h1M84 259h2M179 259h2M423 259h1M84 261h2M181 261h2M423 261h1M84 263h2M181 263h2M423 263h1M84 266h2M183 266h3M423 266h1M84 268h2M184 268h2M303 268h1M423 268h1M186 270h2M86 273h2M190 273h1M301 273h2M86 275h2M191 275h2M86 277h2M193 277h2M86 279h2M195 279h2M199 282h1M421 282h2M88 284h1M200 284h2M421 284h2M88 286h1M202 286h2M294 286h1M421 286h2M88 288h1M204 288h2M89 291h2M209 291h2M89 293h2M211 293h2M419 293h2M215 295h2M285 295h1M419 295h2M91 297h2M217 297h1M419 297h2M91 300h2M224 300h2M227 302h2M417 302h2M93 304h2M233 304h5M261 304h4M417 304h2M95 309h1M415 309h2M96 313h2M98 316h2M98 318h2M412 318h2M412 320h2M100 322h2M102 325h2M408 327h2M104 329h1M408 329h2M107 336h2M405 336h2M403 338h2M109 340h2M111 343h2M399 345h2M113 347h1M398 347h1M116 352h2M394 352h2M118 356h2M392 356h2M390 358h2M122 361h1M123 363h2M385 365h2M127 368h2M381 368h2M129 370h2M380 370h1M378 372h2M376 374h2M134 377h2M372 377h2M136 379h2M371 379h1M138 381h2M369 381h2M367 383h2M145 386h2M147 388h1M360 388h2M148 390h2M358 390h2M356 392h2M156 395h1M351 395h2M159 397h2M347 397h2M161 399h2M346 399h1M165 401h1M342 401h2M170 404h2M337 404h1M174 406h1M333 406h2M177 408h2M329 408h2M184 411h2M320 411h4M188 413h3M317 413h2M193 415h2M312 415h3M199 417h1M306 417h4M211 420h4M294 420h3M218 422h4M286 422h4M229 424h5M274 424h5"/>
<path stroke="#320032" d="M238 89h31M215 92h3M288 92h4M208 94h3M295 94h4M202 96h2M303 96h3M197 98h3M308 98h4M317 101h3M184 103h2M320 103h4M181 105h2M326 105h2M177 107h2M329 107h2M170 110h2M335 110h3M166 112h2M338 112h4M163 114h2M342 114h2M159 116h2M346 116h1M154 119h2M351 119h2M353 121h2M148 123h2M355 123h1M147 125h1M358 125h2M141 128h2M362 128h2M140 130h1M364 130h1M138 132h2M365 132h2M136 134h2M369 134h2M372 137h2M131 139h1M224 139h28M374 139h2M129 141h2M222 141h2M251 141h9M376 141h2M125 144h2M218 144h2M261 144h6M215 146h3M263 146h6M380 146h1M213 148h4M263 148h6M381 148h2M211 150h2M256 150h5M383 150h2M118 153h2M208 153h1M238 153h4M387 153h2M206 155h2M236 155h4M204 157h2M238 157h4M389 157h1M114 159h2M200 159h2M240 159h3M390 159h2M242 162h1M111 164h2M193 164h2M242 164h1M394 164h2M191 166h2M240 166h2M396 166h2M109 168h2M190 168h1M240 168h2M186 171h2M238 171h2M105 173h2M184 173h2M399 173h2M183 175h1M236 175h2M401 175h2M104 177h1M181 177h2M102 180h2M179 180h2M233 180h1M177 182h2M231 182h2M405 182h2M100 184h2M175 184h2M229 184h2M172 187h2M226 187h3M407 187h1M98 189h2M226 189h3M408 189h2M170 191h2M227 191h2M408 191h2M96 193h2M168 193h2M229 193h2M166 196h2M233 196h1M95 198h1M165 198h1M234 198h2M412 198h2M165 200h1M236 200h2M412 200h2M93 202h2M163 202h2M242 202h12M161 205h2M265 205h2M414 205h1M161 207h2M270 207h2M91 209h2M274 209h2M159 211h2M277 211h2M415 211h2M89 214h2M159 214h2M89 216h2M159 216h2M417 216h2M288 218h2M417 218h2M290 220h2M417 220h2M88 223h1M294 223h1M88 225h1M419 225h2M159 227h4M419 227h2M419 230h2M86 232h2M86 234h2M159 234h2M86 236h2M159 236h4M86 239h2M161 239h7M421 239h2M165 241h5M421 241h2M168 243h4M421 243h2M170 245h2M421 245h2M172 248h2M304 248h2M421 248h2M174 250h1M304 250h2M421 250h2M84 252h2M174 252h1M304 252h2M421 252h2M84 254h2M175 254h2M304 254h2M421 254h2M175 257h4M304 257h2M421 257h2M177 259h2M304 259h2M421 259h2M177 261h4M304 261h2M179 263h2M86 266h2M181 266h2M421 266h2M86 268h2M183 268h1M421 268h2M86 270h2M183 270h3M303 270h1M421 270h2M186 273h4M421 273h2M188 275h3M301 275h2M421 275h2M88 277h1M190 277h3M421 277h2M88 279h1M191 279h4M299 279h2M421 279h2M88 282h1M197 282h2M199 284h1M295 284h2M89 286h2M200 286h2M89 288h2M202 288h2M419 288h2M208 291h1M290 291h2M419 291h2M91 293h2M209 293h2M91 295h2M211 295h4M215 297h2M283 297h2M417 297h2M93 300h2M222 300h2M277 300h2M417 300h2M93 302h2M226 302h1M272 302h2M231 304h2M265 304h2M415 304h2M95 306h1M415 306h2M96 311h2M414 311h1M414 313h1M412 316h2M100 318h2M100 320h2M410 322h2M408 325h2M104 327h1M105 331h2M407 331h1M107 334h2M405 334h2M403 336h2M109 338h2M401 340h2M399 343h2M113 345h1M398 345h1M114 349h2M396 349h2M118 354h2M392 354h2M390 356h2M120 358h2M387 361h2M385 363h2M125 365h2M383 365h2M131 372h1M132 374h2M136 377h2M138 379h2M369 379h2M140 381h1M367 381h2M141 383h2M365 383h2M362 386h2M148 388h2M150 390h2M356 390h2M152 392h2M355 392h1M157 395h2M349 395h2M346 397h1M163 399h2M344 399h2M166 401h2M340 401h2M172 404h2M333 404h4M175 406h2M331 406h2M179 408h2M328 408h1M186 411h2M319 411h1M191 413h2M315 413h2M195 415h4M310 415h2M200 417h4M304 417h2M215 420h2M292 420h2M222 422h4M283 422h3M234 424h6M269 424h5"/>
<path stroke="#370039" d="M218 92h4M283 92h5M211 94h2M292 94h3M204 96h4M299 96h4M200 98h2M304 98h4M190 101h1M313 101h4M186 103h2M319 103h1M183 105h1M322 105h4M179 107h2M326 107h3M172 110h2M333 110h2M168 112h2M337 112h1M165 114h1M338 114h4M161 116h2M342 116h4M156 119h1M347 119h4M152 121h2M351 121h2M150 123h2M353 123h2M355 125h3M143 128h2M360 128h2M362 130h2M364 132h1M365 134h4M132 137h2M224 137h27M371 137h1M222 139h2M252 139h8M372 139h2M220 141h2M260 141h5M374 141h2M215 144h3M267 144h3M378 144h2M125 146h2M213 146h2M269 146h3M123 148h2M211 148h2M269 148h3M380 148h1M122 150h1M209 150h2M261 150h8M381 150h2M206 153h2M242 153h3M385 153h2M118 155h2M204 155h2M240 155h3M387 155h2M116 157h2M200 157h4M242 157h1M199 159h1M243 159h2M389 159h1M113 162h1M195 162h2M243 162h2M392 162h2M191 164h2M243 164h2M111 166h2M190 166h1M242 166h1M394 166h2M188 168h2M242 168h1M396 168h2M107 171h2M184 171h2M240 171h2M398 171h1M183 173h1M238 173h2M105 175h2M181 175h2M238 175h2M399 175h2M236 177h2M401 177h2M177 180h2M234 180h2M403 180h2M102 182h2M175 182h2M233 182h1M403 182h2M174 184h1M231 184h2M405 184h2M229 187h2M170 189h2M229 189h2M407 189h1M98 191h2M168 191h2M229 191h4M231 193h2M408 193h2M165 196h1M234 196h2M410 196h2M236 198h2M410 198h2M95 200h1M163 200h2M238 200h4M254 202h4M412 202h2M93 205h2M267 205h2M159 207h2M414 207h1M159 209h2M414 209h1M91 211h2M285 214h1M415 214h2M286 216h2M415 216h2M89 218h2M157 218h2M89 220h2M157 220h2M157 223h2M417 223h2M157 225h2M295 225h2M417 225h2M88 227h1M88 230h1M299 230h2M88 232h1M419 232h2M301 234h2M419 234h2M419 236h2M157 239h4M303 239h1M419 239h2M86 241h2M157 241h8M86 243h2M159 243h9M86 245h2M163 245h7M86 248h2M168 248h4M86 250h2M170 250h4M86 252h2M172 252h2M86 254h2M172 254h3M86 257h2M174 257h1M86 259h2M175 259h2M86 261h2M175 261h2M421 261h2M86 263h2M177 263h2M304 263h2M421 263h2M179 266h2M179 268h4M88 270h1M181 270h2M88 273h1M184 273h2M88 275h1M186 275h2M188 277h2M190 279h1M419 279h2M89 282h2M193 282h4M297 282h2M419 282h2M89 284h2M197 284h2M419 284h2M199 286h1M419 286h2M200 288h2M294 288h1M91 291h2M206 291h2M417 291h2M208 293h1M288 293h2M417 293h2M209 295h2M417 295h2M93 297h2M213 297h2M220 300h2M415 300h2M95 302h1M224 302h2M274 302h2M415 302h2M95 304h1M227 304h4M267 304h2M238 306h11M96 309h2M414 309h1M98 313h2M412 313h2M100 316h2M410 318h2M102 320h2M410 320h2M102 322h2M104 325h1M407 327h1M105 329h2M407 329h1M403 334h2M109 336h2M401 338h2M111 340h2M113 343h1M114 347h2M396 347h2M116 349h2M118 352h2M392 352h2M390 354h2M120 356h2M122 358h1M389 358h1M123 361h2M385 361h2M125 363h2M383 363h2M127 365h2M129 368h2M380 368h1M131 370h1M378 370h2M132 372h2M376 372h2M134 374h2M374 374h2M138 377h2M371 377h1M140 379h1M141 381h2M143 383h2M364 383h1M147 386h1M360 386h2M358 388h2M152 390h2M355 390h1M154 392h2M353 392h2M159 395h2M347 395h2M161 397h2M344 397h2M165 399h1M342 399h2M168 401h2M338 401h2M174 404h1M331 404h2M177 406h2M328 406h3M181 408h2M324 408h4M188 411h3M317 411h2M193 413h2M313 413h2M199 415h1M308 415h2M204 417h2M303 417h1M217 420h3M288 420h4M226 422h5M279 422h4M240 424h12M258 424h11"/>
<path stroke="#3c003f" d="M222 92h4M277 92h6M213 94h4M288 94h4M208 96h1M295 96h4M202 98h2M301 98h3M191 101h2M312 101h1M188 103h2M315 103h4M184 105h2M319 105h3M181 107h2M322 107h4M329 110h4M333 112h4M166 114h2M337 114h1M163 116h2M340 116h2M346 119h1M154 121h2M347 121h4M351 123h2M148 125h2M353 125h2M358 128h2M141 130h2M360 130h2M140 132h1M362 132h2M138 134h2M364 134h1M222 137h2M251 137h9M367 137h4M132 139h2M220 139h2M260 139h5M369 139h3M131 141h1M218 141h2M265 141h5M371 141h3M127 144h2M213 144h2M270 144h6M374 144h4M211 146h2M272 146h5M376 146h4M209 148h2M272 148h5M378 148h2M208 150h1M269 150h7M380 150h1M120 153h2M204 153h2M245 153h2M383 153h2M202 155h2M243 155h4M385 155h2M199 157h1M243 157h4M387 157h2M116 159h2M197 159h2M245 159h2M193 162h2M245 162h2M390 162h2M113 164h1M190 164h1M245 164h2M392 164h2M188 166h2M243 166h2M392 166h2M186 168h2M243 168h2M394 168h2M183 171h1M242 171h1M396 171h2M107 173h2M240 173h2M398 173h1M240 175h2M105 177h2M179 177h2M238 177h2M399 177h2M104 180h1M175 180h2M236 180h2M401 180h2M174 182h1M234 182h2M102 184h2M233 184h1M403 184h2M100 187h2M170 187h2M231 187h2M405 187h2M168 189h2M231 189h2M233 191h1M407 191h1M98 193h2M166 193h2M233 193h1M96 196h2M236 196h2M408 196h2M96 198h2M163 198h2M238 198h2M242 200h12M410 200h2M95 202h1M161 202h2M258 202h3M410 202h2M159 205h2M269 205h1M412 205h2M93 207h2M272 207h2M412 207h2M93 209h2M276 209h1M157 211h2M279 211h2M414 211h1M91 214h2M157 214h2M414 214h1M91 216h2M157 216h2M415 218h2M415 220h2M89 223h2M89 225h2M89 227h2M157 227h2M297 227h2M417 227h2M417 230h2M417 232h2M88 234h1M88 236h1M88 239h1M88 241h1M419 241h2M88 243h1M156 243h3M304 243h2M419 243h2M88 245h1M157 245h6M304 245h2M419 245h2M88 248h1M157 248h11M419 248h2M88 250h1M159 250h2M166 250h4M419 250h2M88 252h1M168 252h4M419 252h2M88 254h1M170 254h2M419 254h2M88 257h1M172 257h2M419 257h2M88 259h1M172 259h3M419 259h2M88 261h1M174 261h1M419 261h2M88 263h1M174 263h3M419 263h2M88 266h1M177 266h2M304 266h2M419 266h2M88 268h1M177 268h2M419 268h2M179 270h2M419 270h2M89 273h2M181 273h3M303 273h1M419 273h2M89 275h2M183 275h3M419 275h2M89 277h2M184 277h4M301 277h2M419 277h2M89 279h2M186 279h4M191 282h2M91 284h2M193 284h4M91 286h2M197 286h2M295 286h2M417 286h2M91 288h2M199 288h1M417 288h2M93 291h2M202 291h4M93 293h2M206 293h2M93 295h2M208 295h1M286 295h2M211 297h2M415 297h2M95 300h1M217 300h3M279 300h2M222 302h2M96 304h2M226 304h1M269 304h1M414 304h1M96 306h2M231 306h7M249 306h5M414 306h1M98 309h2M98 311h2M412 311h2M410 316h2M102 318h2M104 322h1M408 322h2M105 325h2M407 325h1M105 327h2M107 329h2M405 329h2M107 331h2M405 331h2M109 334h2M401 336h2M111 338h2M399 340h2M398 343h1M114 345h2M396 345h2M116 347h2M394 349h2M120 354h2M122 356h1M389 356h1M387 358h2M125 361h2M381 365h2M131 368h1M378 368h2M132 370h2M376 370h2M374 372h2M372 374h2M369 377h2M367 379h2M365 381h2M145 383h2M148 386h2M358 386h2M150 388h2M356 388h2M154 390h2M156 392h1M351 392h2M161 395h2M346 395h1M163 397h2M166 399h2M340 399h2M170 401h2M337 401h1M175 404h2M329 404h2M179 406h2M326 406h2M183 408h1M322 408h2M191 411h2M315 411h2M195 413h4M310 413h3M200 415h2M306 415h2M206 417h3M299 417h4M220 420h4M285 420h3M231 422h3M274 422h5M252 424h6"/>
<path stroke="#410046" d="M226 92h3M272 92h5M217 94h1M283 94h5M209 96h2M292 96h3M204 98h2M297 98h4M193 101h2M308 101h4M190 103h1M312 103h3M186 105h2M317 105h2M320 107h2M174 110h1M326 110h3M170 112h2M329 112h4M333 114h4M337 116h3M157 119h2M342 119h4M156 121h1M346 121h1M152 123h2M347 123h4M150 125h2M349 125h4M145 128h2M355 128h3M143 130h2M356 130h4M360 132h2M229 134h18M362 134h2M134 137h2M220 137h2M260 137h7M365 137h2M218 139h2M265 139h5M367 139h2M217 141h1M270 141h6M369 141h2M211 144h2M276 144h3M372 144h2M209 146h2M277 146h4M374 146h2M125 148h2M208 148h1M277 148h4M376 148h2M123 150h2M206 150h2M276 150h5M378 150h2M202 153h2M247 153h4M381 153h2M120 155h2M200 155h2M247 155h2M383 155h2M118 157h2M197 157h2M247 157h2M385 157h2M195 159h2M247 159h2M387 159h2M114 162h2M191 162h2M247 162h2M389 162h1M247 164h2M390 164h2M113 166h1M186 166h2M245 166h2M111 168h2M184 168h2M245 168h2M392 168h2M109 171h2M243 171h2M181 173h2M242 173h1M396 173h2M107 175h2M179 175h2M242 175h1M398 175h1M177 177h2M240 177h2M398 177h1M174 180h1M238 180h2M399 180h2M104 182h1M236 182h2M401 182h2M172 184h2M234 184h2M168 187h2M233 187h3M403 187h2M100 189h2M233 189h3M405 189h2M166 191h2M234 191h2M405 191h2M165 193h1M234 193h2M407 193h1M163 196h2M238 196h2M240 198h9M408 198h2M96 200h2M161 200h2M254 200h4M408 200h2M261 202h2M95 205h1M270 205h2M410 205h2M157 207h2M274 207h2M157 209h2M277 209h2M412 209h2M93 211h2M412 211h2M156 216h1M288 216h2M414 216h1M91 218h2M156 218h1M290 218h2M414 218h1M91 220h2M156 220h1M292 220h2M156 223h1M295 223h2M415 223h2M156 225h1M415 225h2M156 227h1M415 227h2M89 230h2M157 230h4M89 232h2M301 232h2M89 234h2M417 234h2M89 236h2M303 236h1M417 236h2M417 239h2M304 241h2M417 241h2M417 243h2M156 245h1M417 245h2M156 248h1M156 250h3M161 250h5M156 252h12M156 254h14M157 257h4M168 257h4M157 259h4M170 259h2M157 261h2M170 261h4M172 263h2M89 266h2M174 266h3M89 268h2M175 268h2M304 268h2M89 270h2M175 270h4M179 273h2M181 275h2M417 275h2M183 277h1M417 277h2M91 279h2M184 279h2M301 279h2M417 279h2M91 282h2M188 282h3M417 282h2M191 284h2M297 284h2M417 284h2M193 286h4M93 288h2M197 288h2M292 291h2M415 291h2M204 293h2M290 293h2M415 293h2M95 295h1M206 295h2M415 295h2M95 297h1M209 297h2M285 297h1M215 300h2M414 300h1M96 302h2M218 302h4M276 302h1M414 302h1M224 304h2M270 304h2M227 306h4M254 306h9M412 309h2M100 311h2M100 313h2M410 313h2M102 316h2M408 318h2M104 320h1M408 320h2M107 327h2M405 327h2M403 331h2M401 334h2M111 336h2M399 338h2M113 340h1M114 343h2M396 343h2M116 345h2M394 347h2M118 349h2M392 349h2M120 352h2M390 352h2M122 354h1M389 354h1M387 356h2M123 358h2M383 361h2M127 363h2M381 363h2M129 365h2M380 365h1M376 368h2M374 370h2M134 372h2M372 372h2M136 374h2M371 374h1M140 377h1M367 377h2M141 379h2M365 379h2M143 381h2M364 381h1M362 383h2M150 386h2M356 386h2M152 388h2M355 388h1M353 390h2M157 392h2M349 392h2M163 395h2M344 395h2M165 397h1M342 397h2M168 399h2M338 399h2M172 401h2M335 401h2M177 404h2M328 404h1M181 406h2M324 406h2M184 408h4M320 408h2M193 411h2M313 411h2M199 413h1M308 413h2M202 415h4M303 415h3M209 417h2M297 417h2M224 420h3M281 420h4M234 422h6M269 422h5"/>
<path stroke="#46004c" d="M229 92h7M265 92h7M218 94h4M277 94h6M211 96h2M286 96h6M206 98h2M294 98h3M195 101h2M304 101h4M191 103h2M310 103h2M313 105h4M183 107h1M317 107h3M175 110h2M324 110h2M172 112h2M326 112h3M168 114h2M329 114h4M165 116h1M333 116h4M159 119h2M338 119h4M342 121h4M154 123h2M344 123h3M347 125h2M351 128h4M355 130h1M141 132h2M234 132h9M356 132h4M140 134h1M222 134h7M247 134h11M358 134h4M218 137h2M267 137h5M362 137h3M134 139h2M217 139h1M270 139h6M365 139h2M132 141h2M215 141h2M276 141h3M367 141h2M129 144h2M209 144h2M279 144h6M371 144h1M127 146h2M208 146h1M281 146h5M372 146h2M206 148h2M281 148h5M374 148h2M204 150h2M281 150h5M376 150h2M122 153h1M200 153h2M251 153h3M380 153h1M197 155h3M249 155h3M381 155h2M195 157h2M249 157h3M383 157h2M118 159h2M193 159h2M249 159h3M383 159h4M190 162h1M249 162h2M387 162h2M114 164h2M188 164h2M249 164h2M389 164h1M247 166h2M389 166h3M247 168h2M390 168h2M181 171h2M394 171h2M109 173h2M179 173h2M243 173h2M394 173h2M177 175h2M396 175h2M107 177h2M175 177h2M242 177h1M396 177h2M105 180h2M240 180h2M172 182h2M238 182h2M399 182h2M104 184h1M170 184h2M236 184h2M401 184h2M102 187h2M236 187h2M166 189h2M236 189h2M403 189h2M100 191h2M165 191h1M236 191h2M100 193h2M236 193h4M405 193h2M98 196h2M240 196h5M407 196h1M161 198h2M249 198h7M407 198h1M159 200h2M258 200h3M96 202h2M159 202h2M263 202h2M408 202h2M157 205h2M95 207h1M410 207h2M95 209h1M410 209h2M156 211h1M281 211h2M93 214h2M156 214h1M286 214h2M412 214h2M93 216h2M412 216h2M93 218h2M414 220h1M91 223h2M414 223h1M91 225h2M297 225h2M414 225h1M91 227h2M156 230h1M301 230h2M415 230h2M157 232h4M415 232h2M303 234h1M415 234h2M415 236h2M89 239h2M304 239h2M89 241h2M89 243h2M89 245h2M89 248h2M154 248h2M306 248h2M417 248h2M89 250h2M154 250h2M306 250h2M417 250h2M89 252h2M154 252h2M306 252h2M417 252h2M89 254h2M306 254h2M417 254h2M89 257h2M156 257h1M161 257h7M306 257h2M417 257h2M89 259h2M156 259h1M161 259h9M306 259h2M417 259h2M89 261h2M156 261h1M159 261h6M166 261h4M306 261h2M417 261h2M89 263h2M156 263h7M168 263h4M417 263h2M156 266h7M172 266h2M417 266h2M157 268h4M172 268h3M417 268h2M157 270h2M174 270h1M304 270h2M417 270h2M91 273h2M175 273h4M417 273h2M91 275h2M177 275h4M303 275h1M91 277h2M179 277h4M181 279h3M93 282h2M184 282h4M299 282h2M415 282h2M93 284h2M188 284h3M415 284h2M93 286h2M190 286h3M415 286h2M193 288h4M295 288h2M415 288h2M95 291h1M199 291h3M95 293h1M202 293h2M204 295h2M288 295h2M414 295h1M208 297h1M414 297h1M96 300h2M213 300h2M217 302h1M98 304h2M220 304h4M272 304h2M412 304h2M98 306h2M226 306h1M263 306h4M412 306h2M100 309h2M410 309h2M410 311h2M408 316h2M104 318h1M407 320h1M105 322h2M407 322h1M107 325h2M405 325h2M109 329h2M403 329h2M109 331h2M111 334h2M399 336h2M113 338h1M114 340h2M398 340h1M116 343h2M394 345h2M118 347h2M392 347h2M122 352h1M389 352h1M123 356h2M125 358h2M385 358h2M127 361h2M381 361h2M129 363h2M380 363h1M131 365h1M132 368h2M134 370h2M136 372h2M138 374h2M141 377h2M143 379h2M364 379h1M145 381h2M362 381h2M147 383h1M360 383h2M152 386h2M355 386h1M154 388h2M353 388h2M156 390h1M351 390h2M159 392h2M347 392h2M165 395h1M342 395h2M166 397h2M338 397h4M170 399h2M337 399h1M174 401h1M333 401h2M179 404h4M326 404h2M183 406h3M322 406h2M188 408h2M319 408h1M195 411h4M310 411h3M200 413h2M306 413h2M206 415h2M301 415h2M211 417h4M294 417h3M227 420h4M277 420h4M240 422h9M261 422h8"/>
<path stroke="#4a0052" d="M236 92h29M222 94h4M272 94h5M213 96h4M283 96h3M208 98h1M290 98h4M197 101h2M301 101h3M306 103h4M188 105h2M310 105h3M184 107h2M313 107h4M177 110h2M320 110h4M174 112h1M322 112h4M170 114h2M326 114h3M166 116h2M329 116h4M161 119h2M335 119h3M157 121h2M338 121h4M340 123h4M152 125h2M344 125h3M147 128h1M349 128h2M145 130h2M351 130h4M143 132h2M224 132h10M243 132h15M353 132h3M220 134h2M258 134h9M355 134h3M136 137h2M217 137h1M272 137h5M360 137h2M215 139h2M276 139h5M362 139h3M213 141h2M279 141h6M364 141h3M208 144h1M285 144h3M367 144h4M206 146h2M286 146h4M369 146h3M127 148h2M286 148h6M371 148h3M125 150h2M202 150h2M286 150h6M372 150h4M199 153h1M254 153h6M376 153h4M195 155h2M252 155h2M378 155h3M120 157h2M193 157h2M252 157h2M380 157h3M191 159h2M252 159h2M381 159h2M116 162h2M188 162h2M251 162h1M385 162h2M184 164h4M251 164h1M387 164h2M183 166h3M249 166h2M387 166h2M113 168h1M183 168h1M249 168h2M389 168h1M111 171h2M179 171h2M245 171h2M390 171h4M177 173h2M245 173h2M392 173h2M109 175h2M175 175h2M243 175h2M394 175h2M174 177h1M243 177h2M394 177h2M172 180h2M242 180h1M398 180h1M105 182h2M170 182h2M240 182h2M398 182h1M168 184h2M238 184h4M399 184h2M166 187h2M238 187h2M401 187h2M102 189h2M165 189h1M238 189h2M401 189h2M238 191h2M403 191h2M163 193h2M240 193h2M403 193h2M161 196h2M245 196h7M405 196h2M98 198h2M159 198h2M256 198h2M405 198h2M98 200h2M261 200h2M407 200h1M157 202h2M265 202h2M407 202h1M96 205h2M156 205h1M272 205h2M408 205h2M156 207h1M276 207h1M408 207h2M156 209h1M279 209h2M408 209h2M95 211h1M410 211h2M154 214h2M410 214h2M154 216h2M290 216h2M154 218h2M292 218h2M412 218h2M93 220h2M154 220h2M294 220h1M412 220h2M154 223h2M154 225h2M154 227h2M299 227h2M414 227h1M91 230h2M414 230h1M91 232h2M156 232h1M414 232h1M91 234h2M157 234h2M91 236h2M91 239h2M415 239h2M415 241h2M415 243h2M306 245h2M415 245h2M415 248h2M415 250h2M415 252h2M154 254h2M415 254h2M154 257h2M415 257h2M91 259h2M154 259h2M415 259h2M91 261h2M154 261h2M165 261h1M415 261h2M91 263h2M154 263h2M163 263h5M306 263h2M415 263h2M91 266h2M163 266h9M415 266h2M91 268h2M156 268h1M161 268h5M168 268h4M415 268h2M91 270h2M156 270h1M159 270h6M170 270h4M415 270h2M157 273h6M174 273h1M415 273h2M174 275h3M415 275h2M93 277h2M175 277h4M303 277h1M415 277h2M93 279h2M177 279h4M415 279h2M183 282h1M184 284h4M188 286h2M297 286h2M95 288h1M190 288h3M414 288h1M197 291h2M414 291h1M200 293h2M414 293h1M96 295h2M202 295h2M96 297h2M206 297h2M286 297h2M211 300h2M281 300h2M412 300h2M98 302h2M215 302h2M277 302h2M412 302h2M218 304h2M274 304h2M222 306h4M267 306h2M410 306h2M102 311h2M102 313h2M408 313h2M104 316h1M407 318h1M105 320h2M405 322h2M109 327h2M403 327h2M111 331h2M401 331h2M113 334h1M399 334h2M113 336h1M114 338h2M398 338h1M396 340h2M394 343h2M118 345h2M392 345h2M120 349h2M390 349h2M123 354h2M387 354h2M125 356h2M385 356h2M383 358h2M129 361h2M131 363h1M378 365h2M134 368h2M374 368h2M136 370h2M372 370h2M138 372h2M371 372h1M140 374h1M369 374h2M143 377h2M365 377h2M145 379h2M147 381h1M360 381h2M148 383h2M358 383h2M154 386h2M156 388h1M351 388h2M157 390h2M349 390h2M161 392h2M346 392h1M166 395h2M340 395h2M168 397h4M337 397h1M172 399h2M335 399h2M175 401h2M331 401h2M183 404h1M324 404h2M186 406h2M320 406h2M190 408h1M317 408h2M199 411h1M308 411h2M202 413h4M303 413h3M208 415h3M297 415h4M215 417h3M290 417h4M231 420h5M272 420h5M249 422h12"/>
<path stroke="#4d0059" d="M226 94h5M265 94h7M217 96h3M277 96h6M209 98h2M286 98h4M199 101h1M297 101h4M193 103h2M303 103h3M190 105h1M306 105h4M186 107h2M310 107h3M179 110h2M317 110h3M320 112h2M172 114h2M322 114h4M168 116h2M324 116h5M331 119h4M159 121h2M335 121h3M156 123h1M337 123h3M154 125h2M340 125h4M148 128h2M346 128h3M224 130h34M347 130h4M220 132h4M258 132h11M349 132h4M141 134h2M218 134h2M267 134h9M353 134h2M138 137h2M215 137h2M277 137h6M356 137h4M136 139h2M213 139h2M281 139h5M358 139h4M134 141h2M211 141h2M285 141h5M360 141h4M131 144h1M288 144h6M364 144h3M129 146h2M290 146h5M365 146h4M204 148h2M292 148h5M367 148h4M200 150h2M292 150h5M369 150h3M123 153h2M195 153h4M260 153h34M374 153h2M122 155h1M193 155h2M254 155h6M376 155h2M191 157h2M254 157h4M378 157h2M120 159h2M190 159h1M254 159h2M380 159h1M184 162h4M252 162h2M381 162h4M116 164h2M183 164h1M252 164h2M383 164h4M114 166h2M181 166h2M251 166h1M385 166h2M181 168h2M387 168h2M177 171h2M247 171h2M389 171h1M111 173h2M175 173h2M247 173h2M390 173h2M174 175h1M245 175h2M392 175h2M172 177h2M245 177h2M392 177h2M170 180h2M243 180h2M396 180h2M168 182h2M242 182h1M396 182h2M166 184h2M242 184h1M398 184h1M104 187h1M165 187h1M240 187h2M399 187h2M163 189h2M240 189h2M399 189h2M102 191h2M163 191h2M240 191h3M401 191h2M161 193h2M242 193h5M401 193h2M100 196h2M159 196h2M252 196h4M403 196h2M258 198h2M403 198h2M157 200h2M263 200h2M405 200h2M98 202h2M267 202h2M405 202h2M274 205h2M407 205h1M96 207h2M407 207h1M96 209h2M154 209h2M154 211h2M283 211h2M408 211h2M95 214h1M288 214h2M95 216h1M410 216h2M95 218h1M410 218h2M410 220h2M93 223h2M152 223h2M297 223h2M412 223h2M93 225h2M412 225h2M93 227h2M412 227h2M154 230h2M412 230h2M303 232h1M156 234h1M414 234h1M156 236h3M304 236h2M414 236h1M414 239h1M91 241h2M414 241h1M91 243h2M306 243h2M414 243h1M91 245h2M414 245h1M91 248h2M91 250h2M91 252h2M91 254h2M91 257h2M154 266h2M306 266h2M154 268h2M166 268h2M306 268h2M165 270h5M93 273h2M156 273h1M163 273h11M304 273h2M93 275h2M157 275h8M170 275h4M414 275h1M157 277h8M172 277h3M414 277h1M174 279h3M303 279h1M414 279h1M95 282h1M179 282h4M414 282h1M95 284h1M181 284h3M299 284h2M414 284h1M95 286h1M184 286h4M414 286h1M186 288h4M96 291h2M195 291h2M294 291h1M412 291h2M96 293h2M199 293h1M292 293h2M412 293h2M200 295h2M290 295h2M412 295h2M204 297h2M412 297h2M98 300h2M209 300h2M410 300h2M211 302h4M410 302h2M100 304h2M215 304h3M410 304h2M100 306h2M220 306h2M269 306h1M102 309h2M408 309h2M408 311h2M407 316h1M105 318h2M405 318h2M405 320h2M107 322h2M109 325h2M403 325h2M111 329h2M401 329h2M398 334h1M114 336h2M398 336h1M396 338h2M116 340h2M118 343h2M392 343h2M120 347h2M390 347h2M122 349h1M389 349h1M123 352h2M387 352h2M125 354h2M385 354h2M383 356h2M127 358h2M381 358h2M131 361h1M380 361h1M378 363h2M132 365h2M376 365h2M136 368h2M372 368h2M138 370h2M371 370h1M369 372h2M141 374h2M367 374h2M145 377h2M364 377h1M147 379h1M362 379h2M148 381h2M358 381h2M150 383h2M356 383h2M156 386h1M351 386h4M157 388h2M349 388h2M159 390h2M347 390h2M163 392h2M344 392h2M168 395h2M338 395h2M172 397h2M335 397h2M174 399h1M331 399h4M177 401h2M328 401h3M184 404h2M320 404h4M188 406h2M317 406h3M191 408h4M313 408h4M200 411h4M304 411h4M206 413h3M299 413h4M211 415h4M294 415h3M218 417h4M286 417h4M236 420h7M267 420h5"/>
<path stroke="#500060" d="M231 94h9M254 94h11M220 96h4M272 96h5M211 98h2M281 98h5M200 101h2M294 101h3M195 103h2M299 103h4M191 105h2M303 105h3M188 107h2M308 107h2M313 110h4M175 112h2M317 112h3M319 114h3M322 116h2M163 119h2M328 119h3M329 121h6M157 123h2M333 123h4M337 125h3M227 128h33M342 128h4M147 130h1M220 130h4M258 130h12M344 130h3M145 132h2M218 132h2M269 132h8M346 132h3M143 134h2M217 134h1M276 134h7M349 134h4M213 137h2M283 137h7M353 137h3M211 139h2M286 139h8M355 139h3M209 141h2M290 141h5M356 141h4M206 144h2M294 144h5M360 144h4M204 146h2M295 146h6M362 146h3M129 148h2M202 148h2M297 148h4M364 148h3M127 150h2M199 150h1M297 150h6M367 150h2M193 153h2M294 153h9M371 153h3M191 155h2M260 155h7M283 155h14M372 155h4M122 157h1M190 157h1M258 157h5M374 157h4M188 159h2M256 159h5M376 159h4M118 162h2M183 162h1M254 162h4M380 162h1M181 164h2M254 164h2M380 164h3M179 166h2M252 166h2M381 166h4M114 168h2M179 168h2M251 168h1M383 168h4M113 171h1M175 171h2M249 171h2M387 171h2M174 173h1M249 173h2M387 173h3M172 175h2M247 175h2M389 175h3M109 177h2M170 177h2M247 177h2M390 177h2M107 180h2M168 180h2M245 180h2M392 180h4M166 182h2M243 182h2M394 182h2M105 184h2M243 184h2M394 184h4M163 187h2M242 187h3M398 187h1M104 189h1M242 189h3M398 189h1M161 191h2M243 191h4M399 191h2M102 193h2M247 193h4M399 193h2M157 196h2M256 196h2M401 196h2M100 198h2M157 198h2M260 198h3M401 198h2M100 200h2M156 200h1M265 200h2M403 200h2M156 202h1M269 202h1M403 202h2M98 205h2M154 205h2M405 205h2M154 207h2M277 207h2M405 207h2M281 209h2M407 209h1M96 211h2M285 211h1M407 211h1M152 214h2M408 214h2M152 216h2M408 216h2M152 218h2M408 218h2M95 220h1M152 220h2M408 220h2M410 223h2M152 225h2M299 225h2M410 225h2M152 227h2M410 227h2M93 230h2M303 230h1M93 232h2M154 232h2M412 232h2M93 234h2M154 234h2M304 234h2M412 234h2M93 236h2M412 236h2M93 239h2M156 239h1M306 239h2M412 239h2M156 241h1M306 241h2M412 241h2M308 248h2M414 248h1M308 250h2M414 250h1M152 252h2M308 252h2M414 252h1M152 254h2M308 254h2M414 254h1M152 257h2M308 257h2M414 257h1M152 259h2M308 259h2M414 259h1M93 261h2M308 261h2M414 261h1M93 263h2M414 263h1M93 266h2M414 266h1M93 268h2M414 268h1M93 270h2M154 270h2M306 270h2M414 270h1M414 273h1M156 275h1M165 275h5M304 275h2M165 277h7M95 279h1M157 279h17M174 282h5M301 282h2M412 282h2M177 284h4M412 284h2M179 286h5M412 286h2M96 288h2M183 288h3M297 288h2M412 288h2M191 291h4M195 293h4M98 295h2M199 295h1M410 295h2M98 297h2M202 297h2M288 297h2M410 297h2M208 300h1M283 300h2M100 302h2M209 302h2M279 302h2M408 302h2M213 304h2M276 304h1M408 304h2M217 306h3M270 306h2M408 306h2M229 309h16M407 309h1M104 311h1M407 311h1M104 313h1M407 313h1M105 316h2M405 316h2M107 320h2M403 320h2M403 322h2M401 325h2M111 327h2M401 327h2M399 329h2M113 331h1M399 331h2M114 334h2M396 336h2M116 338h2M394 338h2M394 340h2M120 343h2M120 345h2M390 345h2M122 347h1M389 347h1M387 349h2M125 352h2M385 352h2M127 354h2M383 354h2M127 356h2M381 356h2M129 358h2M378 361h2M132 363h2M376 363h2M134 365h2M374 365h2M138 368h2M371 368h1M369 370h2M140 372h1M367 372h2M143 374h2M365 374h2M147 377h1M362 377h2M148 379h2M358 379h4M150 381h2M356 381h2M152 383h2M355 383h1M157 386h2M349 386h2M159 388h2M347 388h2M161 390h4M344 390h3M165 392h1M342 392h2M170 395h2M335 395h3M174 397h1M333 397h2M175 399h4M329 399h2M179 401h4M326 401h2M186 404h4M317 404h3M190 406h3M313 406h4M195 408h4M310 408h3M204 411h4M299 411h5M209 413h4M294 413h5M215 415h5M286 415h8M222 417h5M279 417h7M243 420h24"/>
<path stroke="#530066" d="M240 94h14M224 96h3M267 96h5M213 98h4M277 98h4M202 101h2M290 101h4M197 103h2M295 103h4M193 105h2M299 105h4M304 107h4M181 110h2M310 110h3M177 112h2M313 112h4M174 114h1M315 114h4M170 116h2M319 116h3M165 119h1M322 119h6M161 121h2M326 121h3M329 123h4M156 125h1M331 125h6M150 128h2M222 128h5M260 128h12M337 128h5M148 130h2M218 130h2M270 130h9M340 130h4M217 132h1M277 132h8M342 132h4M215 134h2M283 134h7M346 134h3M140 137h1M211 137h2M290 137h7M349 137h4M138 139h2M209 139h2M294 139h5M351 139h4M136 141h2M208 141h1M295 141h6M353 141h3M132 144h2M204 144h2M299 144h5M356 144h4M131 146h1M202 146h2M301 146h5M358 146h4M199 148h3M301 148h7M360 148h4M197 150h2M303 150h5M364 150h3M125 153h2M191 153h2M303 153h5M367 153h4M123 155h2M190 155h1M267 155h16M297 155h11M369 155h3M188 157h2M263 157h7M290 157h11M371 157h3M122 159h1M186 159h2M261 159h6M372 159h4M181 162h2M258 162h3M376 162h4M118 164h2M179 164h2M256 164h2M378 164h2M116 166h2M177 166h2M254 166h2M380 166h1M177 168h2M252 168h2M380 168h3M174 171h1M251 171h1M383 171h4M172 173h2M251 173h1M385 173h2M111 175h2M170 175h2M249 175h2M385 175h4M249 177h2M387 177h3M166 180h2M247 180h2M390 180h2M107 182h2M165 182h1M245 182h4M390 182h4M165 184h1M245 184h2M392 184h2M105 187h2M161 187h2M245 187h2M394 187h4M161 189h2M245 189h4M396 189h2M104 191h1M159 191h2M247 191h4M396 191h3M159 193h2M251 193h3M398 193h1M102 196h2M258 196h3M399 196h2M156 198h1M399 198h2M399 200h4M100 202h2M154 202h2M401 202h2M276 205h1M403 205h2M98 207h2M152 207h2M279 207h2M403 207h2M98 209h2M152 209h2M283 209h2M403 209h4M152 211h2M405 211h2M96 214h2M290 214h2M405 214h3M96 216h2M292 216h2M407 216h1M96 218h2M294 218h1M407 218h1M150 220h2M295 220h2M407 220h1M95 223h1M150 223h2M299 223h2M408 223h2M95 225h1M150 225h2M408 225h2M95 227h1M301 227h2M408 227h2M152 230h2M410 230h2M304 232h2M410 232h2M410 234h2M154 236h2M410 236h2M154 239h2M410 239h2M93 241h2M154 241h2M93 243h2M412 243h2M93 245h2M308 245h2M412 245h2M93 248h2M412 248h2M93 250h2M412 250h2M93 252h2M412 252h2M93 254h2M412 254h2M93 257h2M412 257h2M93 259h2M412 259h2M152 261h2M412 261h2M152 263h2M308 263h2M412 263h2M308 266h2M412 266h2M412 268h2M412 270h2M95 273h1M154 273h2M306 273h2M412 273h2M95 275h1M412 275h2M95 277h1M156 277h1M304 277h2M412 277h2M412 279h2M159 282h15M96 284h2M161 284h5M172 284h5M301 284h2M96 286h2M174 286h5M299 286h2M410 286h2M177 288h6M410 288h2M98 291h2M188 291h3M295 291h2M410 291h2M98 293h2M193 293h2M294 293h1M410 293h2M197 295h2M292 295h2M200 297h2M408 297h2M100 300h2M206 300h2M408 300h2M208 302h1M102 304h2M211 304h2M407 304h1M102 306h2M215 306h2M272 306h2M407 306h1M104 309h1M226 309h3M245 309h4M405 311h2M105 313h2M405 313h2M403 316h2M107 318h2M403 318h2M109 322h2M401 322h2M111 325h2M399 325h2M399 327h2M113 329h1M398 329h1M398 331h1M396 334h2M116 336h2M394 336h2M118 338h2M118 340h2M392 340h2M390 343h2M122 345h1M389 345h1M123 347h2M387 347h2M123 349h2M127 352h2M383 352h2M381 354h2M129 356h2M380 356h1M131 358h1M380 358h1M132 361h2M376 361h2M134 363h2M374 363h2M136 365h2M372 365h2M140 368h1M369 368h2M140 370h3M367 370h2M141 372h4M365 372h2M145 374h2M364 374h1M148 377h2M360 377h2M150 379h2M356 379h2M152 381h2M355 381h1M154 383h3M353 383h2M159 386h2M347 386h2M161 388h4M344 388h3M165 390h1M342 390h2M166 392h4M338 392h4M172 395h3M333 395h2M175 397h4M329 397h4M179 399h4M326 399h3M183 401h3M322 401h4M190 404h3M313 404h4M193 406h4M310 406h3M199 408h3M304 408h6M208 411h5M292 411h7M213 413h7M285 413h9M220 415h9M276 415h10M227 417h16M261 417h18"/>
<path stroke="#56006c" d="M227 96h7M258 96h9M217 98h3M272 98h5M204 101h2M286 101h4M199 103h1M292 103h3M195 105h2M295 105h4M190 107h1M299 107h5M183 110h1M306 110h4M179 112h2M310 112h3M175 114h2M312 114h3M172 116h2M315 116h4M319 119h3M163 121h2M320 121h6M159 123h2M322 123h7M157 125h2M234 125h27M326 125h5M152 128h2M220 128h2M272 128h11M331 128h6M217 130h1M279 130h9M335 130h5M147 132h1M215 132h2M285 132h9M337 132h5M145 134h2M213 134h2M290 134h7M340 134h6M209 137h2M297 137h7M344 137h5M208 139h1M299 139h7M347 139h4M206 141h2M301 141h9M349 141h4M134 144h2M202 144h2M304 144h8M353 144h3M132 146h2M200 146h2M306 146h7M355 146h3M131 148h1M197 148h2M308 148h5M356 148h4M129 150h2M195 150h2M308 150h5M358 150h6M190 153h1M308 153h5M362 153h5M125 155h2M188 155h2M308 155h5M365 155h4M123 157h2M186 157h2M270 157h20M301 157h12M367 157h4M183 159h3M267 159h7M294 159h12M369 159h3M120 162h2M179 162h2M261 162h6M372 162h4M177 164h2M258 164h5M374 164h4M175 166h2M256 166h4M376 166h4M116 168h2M175 168h2M254 168h4M378 168h2M114 171h2M172 171h2M252 171h2M380 171h3M113 173h1M170 173h2M252 173h2M381 173h4M168 175h2M251 175h1M383 175h2M111 177h2M168 177h2M251 177h1M385 177h2M109 180h2M165 180h1M249 180h2M387 180h3M249 182h2M389 182h1M107 184h2M163 184h2M247 184h4M389 184h3M247 187h4M392 187h2M105 189h2M159 189h2M249 189h2M392 189h4M251 191h3M394 191h2M104 193h1M157 193h2M254 193h2M394 193h4M156 196h1M261 196h2M396 196h3M102 198h2M263 198h2M398 198h1M102 200h2M154 200h2M267 200h2M398 200h1M270 202h2M399 202h2M100 205h2M152 205h2M277 205h2M399 205h4M401 207h2M401 209h2M98 211h2M286 211h2M401 211h4M150 214h2M403 214h2M150 216h2M403 216h4M150 218h2M405 218h2M96 220h2M405 220h2M407 223h1M301 225h2M407 225h1M150 227h2M407 227h1M95 230h1M150 230h2M407 230h3M95 232h1M152 232h2M408 232h2M95 234h1M152 234h2M408 234h2M95 236h1M152 236h2M306 236h2M408 236h2M408 239h2M308 241h2M408 241h4M154 243h2M308 243h2M410 243h2M154 245h2M410 245h2M410 248h2M410 250h2M410 252h2M410 254h2M410 257h2M410 259h2M410 261h2M410 263h2M95 266h1M152 266h2M410 266h2M95 268h1M152 268h2M308 268h2M410 268h2M95 270h1M410 270h2M410 273h2M154 275h2M306 275h2M410 275h2M410 277h2M96 279h2M156 279h1M304 279h2M410 279h2M96 282h2M157 282h2M303 282h1M410 282h2M159 284h2M166 284h6M410 284h2M159 286h15M98 288h2M163 288h5M170 288h7M299 288h2M181 291h7M408 291h2M190 293h3M408 293h2M100 295h2M193 295h4M408 295h2M100 297h2M197 297h3M290 297h2M204 300h2M285 300h1M407 300h1M102 302h2M206 302h2M281 302h2M407 302h1M209 304h2M277 304h2M104 306h1M213 306h2M405 306h2M222 309h4M249 309h3M405 309h2M105 311h2M231 311h9M403 313h2M107 316h2M401 318h2M109 320h2M401 320h2M399 322h2M113 327h1M398 327h1M114 331h2M396 331h2M116 334h2M394 334h2M118 336h2M392 336h2M392 338h2M120 340h2M390 340h2M122 343h1M389 343h1M123 345h2M387 345h2M385 347h2M125 349h2M385 349h2M129 352h2M381 352h2M129 354h2M380 354h1M131 356h1M378 356h2M132 358h2M378 358h2M134 361h2M374 361h2M136 363h2M372 363h2M138 365h2M371 365h1M141 368h2M367 368h2M143 370h2M365 370h2M145 372h2M364 372h1M147 374h1M362 374h2M150 377h2M356 377h4M152 379h4M355 379h1M154 381h3M353 381h2M157 383h2M349 383h4M161 386h4M346 386h1M165 388h1M342 388h2M166 390h4M340 390h2M170 392h2M337 392h1M175 395h4M329 395h4M179 397h2M326 397h3M183 399h1M322 399h4M186 401h4M319 401h3M193 404h4M310 404h3M197 406h5M304 406h6M202 408h6M299 408h5M213 411h11M283 411h9M220 413h16M267 413h18M229 415h47M243 417h18"/>
<path stroke="#590073" d="M234 96h24M220 98h4M267 98h5M206 101h2M283 101h3M200 103h2M288 103h4M197 105h2M292 105h3M191 107h2M295 107h4M184 110h2M303 110h3M181 112h2M306 112h4M177 114h2M308 114h4M174 116h1M312 116h3M166 119h2M315 119h4M165 121h1M317 121h3M161 123h2M240 123h21M317 123h5M227 125h7M261 125h16M319 125h7M154 128h2M218 128h2M283 128h9M324 128h7M150 130h2M215 130h2M288 130h9M326 130h9M148 132h2M213 132h2M294 132h9M329 132h8M147 134h1M211 134h2M297 134h9M333 134h7M141 137h2M208 137h1M304 137h9M338 137h6M140 139h1M206 139h2M306 139h9M340 139h7M138 141h2M204 141h2M310 141h7M342 141h7M200 144h2M312 144h7M347 144h6M197 146h3M313 146h7M349 146h6M195 148h2M313 148h7M351 148h5M131 150h1M191 150h4M313 150h7M353 150h5M127 153h2M188 153h2M313 153h7M356 153h6M186 155h2M313 155h7M358 155h7M183 157h3M313 157h6M362 157h5M123 159h2M181 159h2M274 159h20M306 159h13M364 159h5M177 162h2M267 162h5M369 162h3M120 164h2M175 164h2M263 164h6M371 164h3M118 166h2M174 166h1M260 166h3M372 166h4M174 168h1M258 168h3M374 168h4M170 171h2M254 171h2M378 171h2M114 173h2M168 173h2M254 173h2M378 173h3M113 175h1M166 175h2M252 175h2M380 175h3M166 177h2M252 177h2M381 177h4M163 180h2M251 180h1M383 180h4M109 182h2M163 182h2M251 182h1M385 182h4M161 184h2M251 184h1M387 184h2M107 187h2M159 187h2M251 187h1M389 187h3M157 189h2M251 189h3M390 189h2M105 191h2M157 191h2M254 191h2M390 191h4M156 193h1M256 193h2M392 193h2M104 196h1M154 196h2M394 196h2M154 198h2M265 198h2M394 198h4M152 200h2M269 200h1M396 200h2M102 202h2M152 202h2M272 202h2M396 202h3M150 205h2M398 205h1M100 207h2M150 207h2M281 207h2M399 207h2M100 209h2M150 209h2M285 209h1M399 209h2M150 211h2M399 211h2M98 214h2M292 214h2M401 214h2M98 216h2M294 216h1M401 216h2M148 218h2M295 218h2M403 218h2M148 220h2M297 220h2M403 220h2M96 223h2M148 223h2M403 223h4M96 225h2M148 225h2M405 225h2M96 227h2M148 227h2M303 227h1M405 227h2M304 230h2M405 230h2M150 232h2M407 232h1M306 234h2M407 234h1M407 236h1M95 239h1M152 239h2M308 239h2M407 239h1M95 241h1M152 241h2M407 241h1M95 243h1M152 243h2M408 243h2M95 245h1M408 245h2M95 248h1M310 248h2M408 248h2M95 250h1M310 250h2M408 250h2M95 252h1M310 252h2M408 252h2M95 254h1M310 254h2M408 254h2M95 257h1M310 257h2M408 257h2M95 259h1M310 259h2M408 259h2M95 261h1M310 261h2M408 261h2M95 263h1M310 263h2M408 263h2M408 266h2M408 268h2M152 270h2M308 270h2M408 270h2M408 273h2M96 275h2M408 275h2M96 277h2M154 277h2M306 277h2M408 277h2M408 279h2M156 282h1M408 282h2M98 284h2M157 284h2M408 284h2M98 286h2M301 286h2M408 286h2M159 288h4M168 288h2M408 288h2M100 291h2M174 291h7M297 291h2M407 291h1M100 293h2M179 293h11M295 293h2M407 293h1M190 295h3M294 295h1M407 295h1M195 297h2M292 297h2M407 297h1M102 300h2M202 300h2M286 300h2M405 300h2M204 302h2M283 302h2M405 302h2M104 304h1M208 304h1M405 304h2M211 306h2M274 306h2M105 309h2M220 309h2M252 309h4M403 309h2M226 311h5M240 311h7M403 311h2M107 313h2M401 313h2M109 316h2M401 316h2M109 318h2M399 318h2M111 320h2M399 320h2M111 322h2M113 325h1M398 325h1M114 327h2M396 327h2M114 329h2M396 329h2M116 331h2M394 331h2M118 334h2M392 334h2M390 336h2M120 338h2M390 338h2M122 340h1M389 340h1M123 343h2M387 343h2M125 345h2M385 345h2M125 347h2M383 347h2M127 349h2M383 349h2M131 352h1M380 352h1M131 354h1M378 354h2M132 356h2M376 356h2M134 358h2M376 358h2M136 361h4M372 361h2M138 363h2M371 363h1M140 365h1M369 365h2M143 368h2M365 368h2M145 370h2M364 370h1M147 372h1M362 372h2M148 374h4M360 374h2M152 377h4M355 377h1M156 379h1M353 379h2M157 381h2M351 381h2M159 383h4M347 383h2M165 386h1M342 386h4M166 388h4M340 388h2M170 390h2M337 390h3M172 392h3M333 392h4M179 395h2M328 395h1M181 397h3M324 397h2M184 399h4M319 399h3M190 401h3M315 401h4M197 404h5M304 404h6M202 406h7M299 406h5M208 408h9M290 408h9M224 411h59M236 413h31"/>
<path stroke="#5a0079" d="M224 98h5M258 98h9M208 101h1M277 101h6M202 103h2M283 103h5M199 105h1M288 105h4M193 107h2M292 107h3M186 110h2M299 110h4M301 112h5M304 114h4M175 116h2M306 116h6M168 119h2M310 119h5M249 121h12M310 121h7M163 123h2M231 123h9M261 123h20M312 123h5M159 125h2M224 125h3M277 125h15M312 125h7M217 128h1M292 128h32M152 130h2M213 130h2M297 130h29M150 132h2M211 132h2M303 132h26M209 134h2M306 134h27M143 137h2M206 137h2M313 137h25M141 139h2M204 139h2M315 139h25M140 141h1M202 141h2M317 141h25M136 144h2M199 144h1M319 144h12M335 144h12M134 146h2M195 146h2M320 146h11M340 146h9M132 148h2M193 148h2M320 148h11M342 148h9M190 150h1M320 150h11M346 150h7M129 153h2M186 153h2M320 153h9M349 153h7M127 155h2M184 155h2M320 155h9M353 155h5M125 157h2M181 157h2M319 157h9M355 157h7M179 159h2M319 159h7M358 159h6M122 162h1M175 162h2M272 162h7M295 162h27M364 162h5M174 164h1M269 164h5M365 164h6M120 166h2M172 166h2M263 166h6M367 166h5M118 168h2M172 168h2M261 168h4M369 168h5M116 171h2M168 171h2M256 171h4M372 171h6M166 173h2M256 173h2M374 173h4M114 175h2M254 175h2M376 175h4M113 177h1M165 177h1M254 177h2M378 177h3M111 180h2M252 180h2M381 180h2M161 182h2M252 182h2M383 182h2M109 184h2M159 184h2M252 184h2M383 184h4M157 187h2M252 187h2M387 187h2M107 189h2M254 189h2M387 189h3M156 191h1M256 191h2M389 191h1M105 193h2M258 193h2M389 193h3M263 196h2M392 196h2M104 198h1M152 198h2M267 198h2M392 198h2M104 200h1M270 200h2M394 200h2M150 202h2M394 202h2M102 205h2M279 205h2M396 205h2M283 207h2M396 207h3M148 209h2M398 209h1M100 211h2M148 211h2M288 211h2M398 211h1M148 214h2M399 214h2M148 216h2M399 216h2M98 218h2M401 218h2M98 220h2M401 220h2M301 223h2M401 223h2M303 225h1M403 225h2M403 227h2M96 230h2M148 230h2M403 230h2M96 232h2M148 232h2M306 232h2M405 232h2M96 234h2M150 234h2M405 234h2M150 236h2M308 236h2M405 236h2M405 239h2M405 241h2M310 243h2M407 243h1M152 245h2M310 245h2M407 245h1M407 248h1M407 250h1M407 252h1M407 254h1M150 257h2M407 257h1M150 259h2M407 259h1M150 261h2M407 261h1M150 263h2M407 263h1M310 266h2M407 266h1M96 268h2M310 268h2M407 268h1M96 270h2M407 270h1M96 273h2M152 273h2M308 273h2M407 273h1M407 275h1M407 277h1M154 279h2M306 279h2M407 279h1M98 282h2M407 282h1M156 284h1M303 284h1M407 284h1M157 286h2M407 286h1M100 288h2M157 288h2M407 288h1M161 291h13M165 293h14M405 293h2M102 295h2M183 295h7M405 295h2M102 297h2M191 297h4M405 297h2M104 300h1M200 300h2M104 302h1M202 302h2M403 302h2M206 304h2M279 304h2M403 304h2M105 306h2M209 306h2M276 306h1M403 306h2M217 309h3M256 309h7M401 309h2M107 311h2M222 311h4M247 311h4M401 311h2M399 316h2M111 318h2M398 320h1M113 322h1M398 322h1M114 325h2M396 325h2M394 327h2M116 329h2M394 329h2M118 331h2M392 331h2M120 334h2M390 334h2M120 336h2M122 338h1M389 338h1M123 340h2M387 340h2M125 343h2M385 343h2M127 345h2M383 345h2M127 347h4M381 347h2M129 349h2M381 349h2M132 352h2M378 352h2M132 354h4M376 354h2M134 356h2M136 358h2M374 358h2M140 361h1M371 361h1M140 363h3M369 363h2M141 365h4M367 365h2M145 368h3M364 368h1M147 370h3M362 370h2M148 372h4M360 372h2M152 374h2M356 374h4M156 377h3M353 377h2M157 379h4M351 379h2M159 381h4M347 381h4M163 383h2M346 383h1M166 386h4M340 386h2M170 388h4M337 388h3M172 390h3M335 390h2M175 392h4M331 392h2M181 395h3M324 395h4M184 397h4M320 397h4M188 399h5M315 399h4M193 401h6M310 401h5M202 404h7M299 404h5M209 406h9M290 406h9M217 408h17M245 408h45"/>
<path stroke="#5a0080" d="M229 98h29M209 101h4M272 101h5M204 103h2M277 103h6M200 105h2M283 105h5M195 107h2M286 107h6M294 110h5M183 112h1M297 112h4M179 114h2M299 114h5M301 116h5M170 119h2M260 119h5M301 119h9M166 121h2M236 121h13M261 121h33M297 121h13M227 123h4M281 123h31M161 125h2M220 125h4M292 125h20M156 128h1M215 128h2M154 130h2M211 130h2M209 132h2M148 134h2M208 134h1M145 137h2M204 137h2M143 139h2M202 139h2M200 141h2M138 144h2M195 144h4M331 144h4M136 146h2M193 146h2M331 146h9M134 148h2M190 148h3M331 148h11M132 150h2M188 150h2M331 150h15M184 153h2M329 153h20M181 155h3M329 155h24M127 157h2M179 157h2M328 157h27M125 159h2M177 159h2M326 159h32M123 162h2M174 162h1M279 162h16M322 162h13M356 162h8M122 164h1M172 164h2M274 164h7M297 164h32M360 164h5M170 166h2M269 166h5M315 166h13M364 166h3M120 168h2M170 168h2M265 168h4M365 168h4M166 171h2M260 171h1M369 171h3M116 173h2M165 173h1M258 173h2M371 173h3M165 175h1M256 175h2M372 175h4M114 177h2M163 177h2M256 177h2M374 177h4M113 180h1M161 180h2M254 180h2M378 180h3M111 182h2M159 182h2M254 182h2M380 182h3M111 184h2M157 184h2M254 184h2M381 184h2M109 187h2M156 187h1M254 187h2M383 187h4M156 189h1M256 189h2M385 189h2M107 191h2M154 191h2M258 191h2M385 191h4M107 193h2M154 193h2M260 193h1M387 193h2M105 196h2M152 196h2M265 196h2M389 196h3M150 198h2M269 198h1M390 198h2M150 200h2M390 200h4M104 202h1M274 202h2M392 202h2M148 205h2M394 205h2M102 207h2M148 207h2M394 207h2M102 209h2M286 209h2M396 209h2M396 211h2M100 214h2M147 214h1M294 214h1M398 214h1M100 216h2M147 216h1M295 216h2M398 216h1M147 218h1M297 218h2M398 218h3M147 220h1M299 220h2M399 220h2M98 223h2M147 223h1M399 223h2M98 225h2M147 225h1M401 225h2M98 227h2M147 227h1M304 227h2M401 227h2M147 230h1M306 230h2M401 230h2M403 232h2M148 234h2M308 234h2M403 234h2M96 236h2M148 236h2M403 236h2M96 239h2M150 239h2M310 239h2M403 239h2M96 241h2M150 241h2M310 241h2M403 241h2M96 243h2M150 243h2M405 243h2M96 245h2M405 245h2M96 248h2M152 248h2M405 248h2M96 250h2M152 250h2M312 250h1M405 250h2M96 252h2M312 252h1M405 252h2M96 254h2M312 254h1M405 254h2M96 257h2M312 257h1M405 257h2M96 259h2M312 259h1M405 259h2M96 261h2M312 261h1M405 261h2M96 263h2M405 263h2M96 266h2M150 266h2M150 268h2M150 270h2M310 270h2M405 273h2M98 275h2M152 275h2M308 275h2M405 275h2M98 277h2M152 277h2M405 277h2M98 279h2M405 279h2M154 282h2M304 282h2M405 282h2M100 284h2M405 284h2M100 286h2M156 286h1M303 286h1M405 286h2M301 288h2M405 288h2M102 291h2M159 291h2M405 291h2M102 293h2M161 293h4M297 293h2M165 295h18M295 295h2M104 297h1M188 297h3M294 297h1M403 297h2M197 300h3M288 300h2M403 300h2M105 302h2M200 302h2M285 302h1M105 304h2M204 304h2M281 304h2M401 304h2M208 306h1M401 306h2M107 309h2M215 309h2M263 309h4M109 311h2M220 311h2M251 311h1M399 311h2M109 313h2M227 313h18M399 313h2M111 316h2M398 316h1M113 318h1M398 318h1M113 320h1M396 320h2M114 322h2M396 322h2M116 325h2M394 325h2M116 327h2M118 329h2M392 329h2M120 331h2M122 334h1M389 334h1M122 336h3M389 336h1M123 338h2M387 338h2M125 340h2M385 340h2M127 343h4M383 343h2M129 345h2M381 345h2M131 347h1M131 349h3M380 349h1M134 352h4M376 352h2M136 354h2M374 354h2M136 356h4M374 356h2M138 358h3M372 358h2M141 361h4M369 361h2M143 363h5M367 363h2M145 365h5M365 365h2M148 368h4M362 368h2M150 370h4M360 370h2M152 372h4M358 372h2M154 374h3M355 374h1M159 377h4M351 377h2M161 379h4M349 379h2M163 381h3M346 381h1M165 383h3M344 383h2M170 386h4M338 386h2M174 388h1M335 388h2M175 390h4M331 390h4M179 392h4M328 392h3M184 395h6M320 395h4M188 397h5M317 397h3M193 399h6M312 399h3M199 401h5M306 401h4M209 404h13M254 404h4M288 404h11M218 406h72M234 408h11"/>
<path stroke="#590086" d="M213 101h2M265 101h7M206 103h3M272 103h5M202 105h2M277 105h6M197 107h2M281 107h5M188 110h2M288 110h6M184 112h2M290 112h7M181 114h2M292 114h7M177 116h2M292 116h9M172 119h2M240 119h20M265 119h36M168 121h2M231 121h5M294 121h3M165 123h1M224 123h3M163 125h2M218 125h2M157 128h2M213 128h2M209 130h2M152 132h2M208 132h1M150 134h2M206 134h2M147 137h1M202 137h2M200 139h2M141 141h2M199 141h1M193 144h2M191 146h2M188 148h2M134 150h2M186 150h2M131 153h1M181 153h3M129 155h2M179 155h2M177 157h2M127 159h2M175 159h2M172 162h2M335 162h21M123 164h2M170 164h2M281 164h16M329 164h31M122 166h1M168 166h2M274 166h9M297 166h18M328 166h36M168 168h2M269 168h7M310 168h34M358 168h7M118 171h2M165 171h1M261 171h4M365 171h4M163 173h2M260 173h3M367 173h4M116 175h2M163 175h2M258 175h3M369 175h3M161 177h2M258 177h2M371 177h3M159 180h2M256 180h2M374 180h4M113 182h1M157 182h2M256 182h2M376 182h4M256 184h2M378 184h3M256 187h2M381 187h2M109 189h2M154 189h2M258 189h2M381 189h4M109 191h2M260 191h1M383 191h2M152 193h2M261 193h2M385 193h2M150 196h2M267 196h2M387 196h2M105 198h2M389 198h1M105 200h2M148 200h2M272 200h2M389 200h1M148 202h2M276 202h1M390 202h2M104 205h1M147 205h1M281 205h2M392 205h2M147 207h1M285 207h1M392 207h2M147 209h1M288 209h2M394 209h2M102 211h2M147 211h1M290 211h2M394 211h2M396 214h2M396 216h2M100 218h2M396 218h2M100 220h2M398 220h1M145 223h2M303 223h1M398 223h1M399 225h2M399 227h2M98 230h2M399 230h2M98 232h2M147 232h1M308 232h2M401 232h2M98 234h2M147 234h1M401 234h2M147 236h1M401 236h2M148 239h2M401 239h2M148 241h2M403 243h2M150 245h2M312 245h1M403 245h2M312 248h1M403 248h2M403 250h2M403 252h2M403 254h2M403 257h2M312 263h1M312 266h1M405 266h2M98 268h2M405 268h2M98 270h2M405 270h2M98 273h2M150 273h2M310 273h2M308 277h2M100 279h2M152 279h2M100 282h2M154 284h2M304 284h2M403 286h2M102 288h2M156 288h1M403 288h2M157 291h2M299 291h2M403 291h2M104 293h1M159 293h2M403 293h2M104 295h1M161 295h4M403 295h2M165 297h23M105 300h2M195 300h2M290 300h2M401 300h2M199 302h1M286 302h2M401 302h2M107 304h2M202 304h2M107 306h2M206 306h2M277 306h2M399 306h2M109 309h2M213 309h2M267 309h2M399 309h2M217 311h3M252 311h4M111 313h2M224 313h3M245 313h4M398 313h1M113 316h1M396 316h2M114 318h2M396 318h2M114 320h2M116 322h2M394 322h2M118 325h2M392 325h2M118 327h4M392 327h2M120 329h2M390 329h2M122 331h1M390 331h2M123 334h2M125 336h2M387 336h2M125 338h4M385 338h2M127 340h4M131 343h1M381 343h2M131 345h3M380 345h1M132 347h4M380 347h1M134 349h4M378 349h2M138 352h3M374 352h2M138 354h5M140 356h3M372 356h2M141 358h6M371 358h1M145 361h5M367 361h2M148 363h4M365 363h2M150 365h4M364 365h1M152 368h4M360 368h2M154 370h3M358 370h2M156 372h3M355 372h3M157 374h4M353 374h2M163 377h3M349 377h2M165 379h3M346 379h3M166 381h4M344 381h2M168 383h4M342 383h2M174 386h3M335 386h3M175 388h4M333 388h2M179 390h4M329 390h2M183 392h3M326 392h2M190 395h3M317 395h3M193 397h6M312 397h5M199 399h7M306 399h6M204 401h9M299 401h7M222 404h32M258 404h30"/>
<path stroke="#59008c" d="M215 101h3M256 101h9M209 103h2M265 103h7M204 105h2M272 105h5M199 107h1M276 107h5M190 110h1M283 110h5M186 112h2M283 112h7M183 114h1M279 114h13M179 116h2M260 116h32M234 119h6M170 121h2M226 121h5M166 123h2M220 123h4M165 125h1M217 125h1M159 128h2M211 128h2M156 130h1M208 130h1M154 132h2M206 132h2M152 134h2M204 134h2M200 137h2M145 139h2M199 139h1M143 141h2M197 141h2M140 144h1M191 144h2M138 146h2M188 146h3M136 148h2M186 148h2M184 150h2M132 153h2M179 153h2M131 155h1M177 155h2M129 157h2M175 157h2M174 159h1M125 162h2M170 162h2M168 164h2M123 166h2M166 166h2M283 166h14M122 168h1M166 168h2M276 168h9M299 168h11M344 168h14M120 171h2M163 171h2M265 171h5M322 171h25M356 171h9M118 173h2M161 173h2M263 173h4M329 173h11M362 173h5M161 175h2M261 175h2M365 175h4M116 177h2M159 177h2M260 177h1M367 177h4M114 180h2M157 180h2M258 180h3M371 180h3M156 182h1M258 182h2M372 182h4M113 184h1M156 184h1M258 184h2M374 184h4M111 187h2M154 187h2M258 187h2M378 187h3M111 189h2M152 189h2M260 189h1M380 189h1M152 191h2M261 191h2M381 191h2M109 193h2M150 193h2M263 193h2M381 193h4M107 196h2M148 196h2M269 196h1M385 196h2M107 198h2M148 198h2M270 198h2M387 198h2M274 200h2M387 200h2M105 202h2M147 202h1M389 202h1M283 205h2M390 205h2M104 207h1M286 207h2M390 207h2M104 209h1M145 209h2M392 209h2M145 211h2M292 211h2M392 211h2M102 214h2M145 214h2M295 214h2M394 214h2M102 216h2M145 216h2M297 216h2M394 216h2M145 218h2M299 218h2M145 220h2M301 220h2M396 220h2M100 223h2M100 225h2M145 225h2M304 225h2M398 225h1M100 227h2M145 227h2M306 227h2M398 227h1M145 230h2M308 230h2M145 232h2M399 232h2M399 234h2M98 236h2M310 236h2M399 236h2M98 239h2M147 239h1M98 241h2M147 241h1M312 241h1M401 241h2M98 243h2M148 243h2M312 243h1M401 243h2M98 245h2M148 245h2M401 245h2M150 248h2M401 248h2M150 250h2M401 250h2M401 252h2M401 254h2M98 257h2M98 259h2M403 259h2M98 261h2M403 261h2M98 263h2M403 263h2M98 266h2M403 266h2M312 268h1M403 268h2M312 270h1M403 270h2M100 273h2M403 273h2M100 275h2M150 275h2M310 275h2M403 275h2M100 277h2M150 277h2M403 277h2M308 279h2M403 279h2M102 282h2M152 282h2M306 282h2M403 282h2M102 284h2M403 284h2M102 286h2M154 286h2M304 286h2M154 288h2M303 288h1M104 291h1M401 291h2M157 293h2M299 293h2M401 293h2M105 295h2M159 295h2M297 295h2M401 295h2M105 297h2M161 297h4M295 297h2M401 297h2M107 300h2M191 300h4M399 300h2M107 302h2M197 302h2M288 302h2M399 302h2M109 304h2M200 304h2M283 304h2M399 304h2M109 306h2M204 306h2M279 306h2M111 309h2M211 309h2M269 309h1M398 309h1M111 311h3M215 311h2M256 311h5M398 311h1M113 313h1M220 313h4M249 313h2M396 313h2M114 316h2M116 318h2M394 318h2M116 320h2M394 320h2M118 322h2M120 325h2M122 327h1M390 327h2M122 329h3M123 331h2M389 331h1M125 334h4M387 334h2M127 336h4M385 336h2M129 338h2M383 338h2M131 340h1M383 340h2M132 343h4M380 343h1M134 345h4M136 347h4M378 347h2M138 349h3M376 349h2M141 352h2M143 354h2M372 354h2M143 356h4M371 356h1M147 358h1M369 358h2M150 361h2M365 361h2M152 363h2M364 363h1M154 365h2M362 365h2M156 368h3M358 368h2M157 370h4M356 370h2M159 372h4M353 372h2M161 374h4M351 374h2M166 377h2M347 377h2M168 379h2M344 379h2M170 381h4M342 381h2M172 383h3M338 383h4M177 386h4M333 386h2M179 388h4M329 388h4M183 390h3M326 390h3M186 392h4M322 392h4M193 395h6M313 395h4M199 397h7M308 397h4M206 399h7M301 399h5M213 401h13M290 401h9"/>
<path stroke="#590093" d="M218 101h6M242 101h14M211 103h2M258 103h7M206 105h2M265 105h7M200 107h2M269 107h7M191 110h2M274 110h9M188 112h2M270 112h13M184 114h2M260 114h19M181 116h2M247 116h13M174 119h1M229 119h5M222 121h4M168 123h2M218 123h2M215 125h2M209 128h2M157 130h2M206 130h2M156 132h1M204 132h2M202 134h2M148 137h2M199 137h1M147 139h1M197 139h2M145 141h2M193 141h4M141 144h2M188 144h3M140 146h1M186 146h2M138 148h2M184 148h2M136 150h2M181 150h3M177 153h2M132 155h2M175 155h2M131 157h1M174 157h1M129 159h2M172 159h2M127 162h2M168 162h2M125 164h2M166 164h2M165 166h1M123 168h2M165 168h1M285 168h14M161 171h2M270 171h4M313 171h9M347 171h9M120 173h2M267 173h3M319 173h10M340 173h22M118 175h2M159 175h2M263 175h4M328 175h19M356 175h9M118 177h2M157 177h2M261 177h4M333 177h7M362 177h5M116 180h2M156 180h1M261 180h2M367 180h4M114 182h2M154 182h2M260 182h1M369 182h3M114 184h2M154 184h2M260 184h1M371 184h3M113 187h1M152 187h2M260 187h1M374 187h4M150 189h2M261 189h2M376 189h4M111 191h2M150 191h2M263 191h2M378 191h3M265 193h2M380 193h1M109 196h2M383 196h2M147 198h1M272 198h2M383 198h4M107 200h2M147 200h1M385 200h2M107 202h2M277 202h2M387 202h2M105 205h2M145 205h2M285 205h1M389 205h1M105 207h2M145 207h2M389 207h1M290 209h2M390 209h2M104 211h1M390 211h2M104 214h1M143 214h2M392 214h2M143 216h2M102 218h2M143 218h2M394 218h2M102 220h2M143 220h2M394 220h2M143 223h2M304 223h2M396 223h2M143 225h2M396 225h2M143 227h2M396 227h2M100 230h2M398 230h1M100 232h2M310 232h2M398 232h1M100 234h2M145 234h2M310 234h2M398 234h1M145 236h2M145 239h2M312 239h1M399 239h2M399 241h2M147 243h1M399 243h2M147 245h1M399 245h2M98 248h2M148 248h2M313 248h2M98 250h2M313 250h2M98 252h2M150 252h2M313 252h2M98 254h2M150 254h2M313 254h2M313 257h2M401 257h2M313 259h2M401 259h2M313 261h2M401 261h2M313 263h2M401 263h2M100 266h2M401 266h2M100 268h2M401 268h2M100 270h2M401 270h2M401 273h2M401 275h2M102 277h2M310 277h2M401 277h2M102 279h2M150 279h2M401 279h2M150 282h2M401 282h2M104 284h1M152 284h2M306 284h2M401 284h2M104 286h1M152 286h2M401 286h2M104 288h1M401 288h2M105 291h2M156 291h1M301 291h2M105 293h2M156 293h1M107 295h2M157 295h2M399 295h2M107 297h2M159 297h2M399 297h2M109 300h2M186 300h5M292 300h2M109 302h2M193 302h4M111 304h2M199 304h1M285 304h1M398 304h1M111 306h2M202 306h2M281 306h2M398 306h1M113 309h1M209 309h2M270 309h4M396 309h2M114 311h2M213 311h2M261 311h6M396 311h2M114 313h2M218 313h2M251 313h3M116 316h2M394 316h2M118 318h2M118 320h4M392 320h2M120 322h2M392 322h2M122 325h3M390 325h2M123 327h4M389 327h1M125 329h2M389 329h1M125 331h4M387 331h2M129 334h3M385 334h2M131 336h3M383 336h2M131 338h3M132 340h4M381 340h2M136 343h4M138 345h3M378 345h2M140 347h3M376 347h2M141 349h2M374 349h2M143 352h4M372 352h2M145 354h3M371 354h1M147 356h3M369 356h2M148 358h4M367 358h2M152 361h4M364 361h1M154 363h2M362 363h2M156 365h1M360 365h2M159 368h2M356 368h2M161 370h2M355 370h1M163 372h2M351 372h2M165 374h1M349 374h2M168 377h4M344 377h3M170 379h4M342 379h2M174 381h1M340 381h2M175 383h4M337 383h1M181 386h2M331 386h2M183 388h3M328 388h1M186 390h4M324 390h2M190 392h3M320 392h2M199 395h7M310 395h3M206 397h7M303 397h5M213 399h11M292 399h9M226 401h64"/>
<path stroke="#580099" d="M224 101h18M213 103h5M242 103h16M208 105h3M256 105h9M202 107h4M261 107h8M193 110h2M263 110h11M190 112h1M258 112h12M186 114h2M247 114h13M183 116h1M238 116h9M175 119h2M226 119h3M172 121h2M220 121h2M170 123h2M217 123h1M166 125h2M213 125h2M161 128h2M206 128h3M159 130h2M204 130h2M157 132h2M202 132h2M154 134h2M200 134h2M150 137h2M197 137h2M148 139h2M195 139h2M147 141h1M191 141h2M143 144h2M186 144h2M141 146h2M184 146h2M140 148h1M181 148h3M138 150h2M179 150h2M134 153h2M175 153h2M174 155h1M132 157h2M172 157h2M131 159h1M170 159h2M166 162h2M127 164h2M165 164h1M125 166h2M163 166h2M163 168h2M122 171h1M159 171h2M274 171h9M304 171h9M159 173h2M270 173h4M313 173h6M120 175h2M157 175h2M267 175h2M320 175h8M347 175h9M156 177h1M265 177h2M326 177h7M340 177h22M154 180h2M263 180h2M362 180h5M116 182h2M261 182h2M365 182h4M152 184h2M261 184h2M369 184h2M150 187h2M261 187h2M372 187h2M113 189h1M374 189h2M148 191h2M376 191h2M111 193h2M148 193h2M378 193h2M147 196h1M270 196h2M380 196h3M109 198h2M145 198h2M274 198h2M381 198h2M109 200h2M145 200h2M276 200h1M383 200h2M145 202h2M279 202h2M385 202h2M107 205h2M143 205h2M286 205h2M387 205h2M143 207h2M288 207h2M105 209h2M143 209h2M292 209h2M389 209h1M105 211h2M143 211h2M294 211h1M297 214h2M104 216h1M299 216h2M392 216h2M104 218h1M301 218h2M392 218h2M104 220h1M303 220h1M102 223h2M394 223h2M102 225h2M306 225h2M102 227h2M308 227h2M102 230h2M143 230h2M310 230h2M143 232h2M143 234h2M100 236h2M143 236h2M312 236h1M398 236h1M100 239h2M398 239h1M100 241h2M145 241h2M313 241h2M100 243h2M145 243h2M313 243h2M100 245h2M145 245h2M313 245h2M100 248h2M147 248h1M399 248h2M100 250h2M148 250h2M399 250h2M100 252h2M148 252h2M399 252h2M100 254h2M399 254h2M100 257h2M399 257h2M100 259h2M399 259h2M100 261h2M100 263h2M313 266h2M313 268h2M102 270h2M399 270h2M102 273h2M312 273h1M399 273h2M102 275h2M312 275h1M399 275h2M399 277h2M104 279h1M310 279h2M399 279h2M104 282h1M308 282h2M399 282h2M150 284h2M399 284h2M105 286h2M150 286h2M306 286h2M399 286h2M105 288h2M152 288h2M304 288h2M399 288h2M107 291h2M154 291h2M399 291h2M107 293h2M154 293h2M301 293h2M399 293h2M156 295h1M299 295h2M109 297h2M156 297h3M297 297h2M111 300h2M161 300h11M179 300h7M294 300h1M398 300h1M111 302h2M190 302h3M290 302h2M398 302h1M113 304h1M195 304h4M286 304h2M113 306h1M199 306h3M283 306h2M396 306h2M114 309h2M208 309h1M274 309h2M116 311h2M211 311h2M267 311h3M394 311h2M116 313h4M217 313h1M254 313h4M394 313h2M118 316h4M231 316h9M392 316h2M120 318h3M392 318h2M122 320h3M122 322h5M390 322h2M125 325h4M389 325h1M127 327h4M127 329h5M387 329h2M129 331h3M385 331h2M132 334h4M383 334h2M134 336h4M134 338h6M381 338h2M136 340h4M380 340h1M140 343h3M378 343h2M141 345h4M376 345h2M143 347h2M374 347h2M143 349h4M372 349h2M147 352h1M371 352h1M148 354h2M369 354h2M150 356h2M367 356h2M152 358h2M365 358h2M156 361h1M362 361h2M156 363h3M360 363h2M157 365h4M358 365h2M161 368h4M355 368h1M163 370h3M353 370h2M165 372h3M349 372h2M166 374h4M347 374h2M172 377h2M342 377h2M174 379h1M340 379h2M175 381h4M337 381h3M179 383h2M335 383h2M183 386h3M328 386h3M186 388h4M326 388h2M190 390h3M320 390h4M193 392h6M317 392h3M206 395h7M304 395h6M213 397h9M295 397h8M224 399h39M281 399h11"/>
<path stroke="#57009f" d="M218 103h24M211 105h4M240 105h16M206 107h3M252 107h9M195 110h4M254 110h9M191 112h4M247 112h11M188 114h2M240 114h7M184 116h2M233 116h5M177 119h2M222 119h4M174 121h3M217 121h3M172 123h2M213 123h4M168 125h2M209 125h4M163 128h2M204 128h2M161 130h2M202 130h2M159 132h2M200 132h2M156 134h1M199 134h1M152 137h2M195 137h2M150 139h2M191 139h4M148 141h2M190 141h1M145 144h2M184 144h2M143 146h2M181 146h3M141 148h2M179 148h2M140 150h1M177 150h2M136 153h2M174 153h1M134 155h2M172 155h2M170 157h2M132 159h2M168 159h2M129 162h2M165 162h1M129 164h2M163 164h2M127 166h2M161 166h2M125 168h2M161 168h2M123 171h2M157 171h2M283 171h21M122 173h1M157 173h2M274 173h7M308 173h5M122 175h1M156 175h1M269 175h3M315 175h5M120 177h2M154 177h2M267 177h2M320 177h6M118 180h2M152 180h2M265 180h2M329 180h33M118 182h2M152 182h2M263 182h2M335 182h12M356 182h9M116 184h2M150 184h2M263 184h2M364 184h5M114 187h2M148 187h2M263 187h2M369 187h3M114 189h2M148 189h2M263 189h2M371 189h3M113 191h1M147 191h1M265 191h2M372 191h4M113 193h1M147 193h1M267 193h2M374 193h4M111 196h2M145 196h2M272 196h2M378 196h2M111 198h2M380 198h1M143 200h2M277 200h2M380 200h3M109 202h2M143 202h2M381 202h4M385 205h2M107 207h2M141 207h2M290 207h2M385 207h4M107 209h2M141 209h2M387 209h2M107 211h2M141 211h2M389 211h1M105 214h2M141 214h2M299 214h2M390 214h2M105 216h2M141 216h2M301 216h2M390 216h2M105 218h2M141 218h2M141 220h2M392 220h2M104 223h1M141 223h2M306 223h2M104 225h1M141 225h2M394 225h2M104 227h1M141 227h2M141 230h2M396 230h2M102 232h2M312 232h1M396 232h2M102 234h2M312 234h1M102 236h2M102 239h2M143 239h2M313 239h2M102 241h2M143 241h2M398 241h1M102 243h2M143 243h2M398 243h1M102 245h2M145 248h2M315 248h2M147 250h1M315 250h2M147 252h1M315 252h2M148 254h2M315 254h2M102 257h2M315 257h2M102 259h2M315 259h2M102 261h2M315 261h2M399 261h2M102 263h2M315 263h2M399 263h2M102 266h2M399 266h2M102 268h2M399 268h2M313 270h2M104 273h1M104 275h1M104 277h1M312 277h1M105 279h2M105 282h2M105 284h2M308 284h2M107 286h2M107 288h2M150 288h2M109 291h2M150 291h4M303 291h1M398 291h1M109 293h2M152 293h2M398 293h1M109 295h4M152 295h4M398 295h1M111 297h2M154 297h2M398 297h1M113 300h1M156 300h5M172 300h7M396 300h2M113 302h1M161 302h4M184 302h6M292 302h2M396 302h2M114 304h2M191 304h4M288 304h2M396 304h2M114 306h4M197 306h2M285 306h1M116 309h4M204 309h4M276 309h1M394 309h2M118 311h4M209 311h2M270 311h4M120 313h3M213 313h4M258 313h7M392 313h2M122 316h5M226 316h5M240 316h5M123 318h6M390 318h2M125 320h6M390 320h2M127 322h4M129 325h5M387 325h2M131 327h3M387 327h2M132 329h4M385 329h2M132 331h6M136 334h4M138 336h3M381 336h2M140 338h3M380 338h1M140 340h5M378 340h2M143 343h4M376 343h2M145 345h2M374 345h2M145 347h3M147 349h1M148 352h4M369 352h2M150 354h4M367 354h2M152 356h4M365 356h2M154 358h3M364 358h1M157 361h4M360 361h2M159 363h2M358 363h2M161 365h2M356 365h2M165 368h1M353 368h2M166 370h2M351 370h2M168 372h2M347 372h2M170 374h2M346 374h1M174 377h1M340 377h2M175 379h4M338 379h2M179 381h2M335 381h2M181 383h2M333 383h2M186 386h2M326 386h2M190 388h3M322 388h4M193 390h4M319 390h1M199 392h5M313 392h4M213 395h7M299 395h5M222 397h12M288 397h7M263 399h18"/>
<path stroke="#5300a6" d="M215 105h25M209 107h13M234 107h18M199 110h5M243 110h11M195 112h4M240 112h7M190 114h5M233 114h7M186 116h4M227 116h6M179 119h4M218 119h4M177 121h2M213 121h4M174 123h3M211 123h2M170 125h4M208 125h1M165 128h3M202 128h2M163 130h2M200 130h2M161 132h2M199 132h1M157 134h4M197 134h2M154 137h2M191 137h4M152 139h2M190 139h1M150 141h2M186 141h4M147 144h1M181 144h3M145 146h2M179 146h2M143 148h2M177 148h2M141 150h2M175 150h2M138 153h2M172 153h2M136 155h2M170 155h2M134 157h4M168 157h2M134 159h2M166 159h2M131 162h1M163 162h2M131 164h1M161 164h2M129 166h2M159 166h2M127 168h2M159 168h2M125 171h2M156 171h1M123 173h2M156 173h1M281 173h27M123 175h2M154 175h2M272 175h7M310 175h5M122 177h1M152 177h2M269 177h3M317 177h3M120 180h2M150 180h2M267 180h2M326 180h3M120 182h2M150 182h2M265 182h2M329 182h6M347 182h9M118 184h2M148 184h2M265 184h2M333 184h31M116 187h2M147 187h1M364 187h5M116 189h2M147 189h1M265 189h2M367 189h4M114 191h2M145 191h2M267 191h2M369 191h3M114 193h2M145 193h2M269 193h1M372 193h2M113 196h1M143 196h2M374 196h4M113 198h1M143 198h2M276 198h1M376 198h4M111 200h2M141 200h2M378 200h2M111 202h2M141 202h2M281 202h2M380 202h1M109 205h2M140 205h3M288 205h2M381 205h4M109 207h2M140 207h1M292 207h2M383 207h2M109 209h2M140 209h1M294 209h1M385 209h2M140 211h1M295 211h2M385 211h4M107 214h2M140 214h1M389 214h1M107 216h2M140 216h1M389 216h1M140 218h1M303 218h1M390 218h2M105 220h2M140 220h1M304 220h2M390 220h2M105 223h2M140 223h1M392 223h2M105 225h2M140 225h1M308 225h2M140 227h1M310 227h2M394 227h2M104 230h1M312 230h1M104 232h1M141 232h2M104 234h1M141 234h2M396 234h2M104 236h1M141 236h2M313 236h2M396 236h2M315 241h2M315 243h2M143 245h2M315 245h2M398 245h1M102 248h2M398 248h1M102 250h2M145 250h2M102 252h2M145 252h2M102 254h2M147 254h1M148 257h2M148 259h2M104 261h1M148 261h2M104 263h1M104 266h1M315 266h2M104 268h1M315 268h2M104 270h1M105 273h2M313 273h2M398 273h1M105 275h2M313 275h2M398 275h1M105 277h2M398 277h1M312 279h1M398 279h1M107 282h2M310 282h2M398 282h1M107 284h2M398 284h1M109 286h2M308 286h2M398 286h1M109 288h2M306 288h2M398 288h1M111 291h2M111 293h2M150 293h2M113 295h1M150 295h2M301 295h2M396 295h2M113 297h3M150 297h4M299 297h2M396 297h2M114 300h4M152 300h4M295 300h2M114 302h6M154 302h7M165 302h7M177 302h7M116 304h4M156 304h3M186 304h5M290 304h2M394 304h2M118 306h4M193 306h4M286 306h2M394 306h2M120 309h7M202 309h2M277 309h4M122 311h9M208 311h1M274 311h2M392 311h2M123 313h9M211 313h2M265 313h5M127 316h9M224 316h2M245 316h4M390 316h2M129 318h7M131 320h5M389 320h1M131 322h5M389 322h1M134 325h4M134 327h6M385 327h2M136 329h4M138 331h3M383 331h2M140 334h3M381 334h2M141 336h4M380 336h1M143 338h2M378 338h2M145 340h2M147 343h1M374 343h2M147 345h1M148 347h2M372 347h2M148 349h4M371 349h1M152 352h2M367 352h2M154 354h2M365 354h2M156 356h1M364 356h1M157 358h2M362 358h2M161 361h2M358 361h2M161 363h4M356 363h2M163 365h3M355 365h1M166 368h2M351 368h2M168 370h2M349 370h2M170 372h2M346 372h1M172 374h3M344 374h2M175 377h4M338 377h2M179 379h2M337 379h1M181 381h2M333 381h2M183 383h3M331 383h2M188 386h3M324 386h2M193 388h4M320 388h2M197 390h5M315 390h4M204 392h5M310 392h3M220 395h7M292 395h7M234 397h54"/>
<path stroke="#4f00ac" d="M222 107h12M204 110h9M234 110h9M199 112h7M233 112h7M195 114h5M227 114h6M190 116h5M222 116h5M183 119h5M215 119h3M179 121h5M211 121h2M177 123h4M208 123h3M174 125h3M204 125h4M168 128h4M199 128h3M165 130h3M197 130h3M163 132h3M195 132h4M161 134h2M193 134h4M156 137h3M188 137h3M154 139h2M186 139h4M152 141h2M183 141h3M148 144h2M179 144h2M147 146h1M177 146h2M145 148h2M175 148h2M143 150h2M172 150h3M140 153h1M168 153h4M138 155h3M166 155h4M138 157h2M165 157h3M136 159h2M163 159h3M132 162h4M161 162h2M132 164h2M159 164h2M131 166h1M157 166h2M129 168h2M157 168h2M127 171h2M154 171h2M125 173h4M154 173h2M125 175h2M152 175h2M279 175h31M123 177h2M150 177h2M272 177h5M312 177h5M122 180h1M148 180h2M269 180h1M322 180h4M122 182h1M148 182h2M267 182h2M326 182h3M120 184h2M147 184h1M329 184h4M118 187h2M145 187h2M265 187h2M338 187h26M118 189h2M145 189h2M360 189h7M116 191h2M143 191h2M365 191h4M116 193h2M143 193h2M367 193h5M114 196h2M141 196h2M274 196h2M372 196h2M114 198h2M141 198h2M277 198h2M374 198h2M113 200h1M140 200h1M279 200h2M376 200h2M113 202h1M140 202h1M283 202h2M376 202h4M111 205h2M138 205h2M290 205h2M380 205h1M111 207h2M138 207h2M381 207h2M111 209h2M138 209h2M295 209h2M381 209h4M109 211h2M136 211h4M297 211h2M383 211h2M109 214h2M136 214h4M301 214h2M385 214h4M109 216h2M136 216h4M303 216h1M387 216h2M107 218h2M136 218h4M304 218h2M387 218h3M107 220h2M138 220h2M389 220h1M107 223h2M138 223h2M308 223h2M390 223h2M138 225h2M310 225h2M392 225h2M105 227h2M138 227h2M392 227h2M105 230h2M140 230h1M394 230h2M105 232h2M140 232h1M313 232h2M394 232h2M105 234h2M140 234h1M313 234h2M105 236h2M140 236h1M104 239h1M141 239h2M315 239h2M396 239h2M104 241h1M141 241h2M104 243h1M141 243h2M104 245h1M141 245h2M317 245h2M104 248h1M143 248h2M317 248h2M104 250h1M143 250h2M317 250h2M398 250h1M104 252h1M317 252h2M398 252h1M104 254h1M145 254h2M317 254h2M398 254h1M104 257h1M147 257h1M317 257h2M398 257h1M104 259h1M147 259h1M317 259h2M398 259h1M147 261h1M317 261h2M398 261h1M147 263h3M317 263h2M398 263h1M105 266h2M148 266h2M398 266h1M105 268h2M148 268h2M398 268h1M105 270h2M148 270h2M315 270h2M398 270h1M107 273h2M107 275h2M107 277h2M313 277h2M107 279h4M109 282h2M109 284h4M310 284h2M111 286h2M111 288h3M396 288h2M113 291h3M304 291h2M396 291h2M113 293h5M303 293h1M396 293h2M114 295h4M116 297h4M118 300h5M150 300h2M394 300h2M120 302h7M150 302h4M172 302h5M294 302h1M394 302h2M120 304h11M152 304h4M159 304h7M183 304h3M292 304h2M122 306h12M152 306h7M190 306h3M288 306h2M127 309h9M199 309h3M281 309h2M392 309h2M131 311h7M204 311h4M276 311h3M132 313h8M209 313h2M270 313h4M390 313h2M136 316h4M220 316h4M249 316h3M136 318h4M229 318h14M389 318h1M136 320h4M136 322h5M387 322h2M138 325h3M385 325h2M140 327h3M140 329h3M383 329h2M141 331h2M381 331h2M143 334h2M380 334h1M145 336h2M378 336h2M145 338h3M147 340h1M376 340h2M148 343h2M148 345h2M372 345h2M150 347h2M371 347h1M152 349h2M369 349h2M154 352h2M365 352h2M156 354h1M157 356h2M159 358h2M163 361h2M165 363h1M166 365h2M353 365h2M168 368h4M349 368h2M170 370h4M347 370h2M172 372h3M344 372h2M175 374h2M342 374h2M179 377h2M337 377h1M181 379h3M335 379h2M183 381h3M331 381h2M186 383h2M328 383h3M191 386h4M320 386h4M197 388h3M317 388h3M202 390h6M312 390h3M209 392h6M304 392h6M227 395h9M285 395h7"/>
<path stroke="#4c00b2" d="M213 110h21M206 112h9M222 112h11M200 114h9M222 114h5M195 116h7M218 116h4M188 119h5M209 119h6M184 121h6M208 121h3M181 123h5M204 123h4M177 125h6M200 125h4M172 128h3M197 128h2M168 130h4M193 130h4M166 132h4M191 132h4M163 134h3M190 134h3M159 137h2M184 137h4M156 139h3M181 139h5M154 141h3M179 141h4M150 144h4M175 144h4M148 146h2M174 146h3M147 148h1M172 148h3M145 150h2M170 150h2M141 153h4M166 153h2M141 155h2M165 155h1M140 157h1M163 157h2M138 159h2M161 159h2M136 162h2M159 162h2M134 164h2M157 164h2M132 166h2M156 166h1M131 168h3M154 168h3M129 171h2M152 171h2M129 173h2M150 173h4M127 175h2M150 175h2M125 177h2M148 177h2M277 177h31M310 177h2M123 180h2M147 180h1M270 180h2M319 180h3M123 182h2M147 182h1M269 182h1M322 182h4M122 184h1M145 184h2M267 184h2M326 184h3M120 187h2M143 187h2M267 187h2M333 187h5M120 189h2M143 189h2M267 189h2M337 189h23M118 191h2M141 191h2M269 191h1M342 191h23M118 193h2M141 193h2M270 193h2M362 193h5M116 196h2M140 196h1M276 196h1M369 196h3M116 198h2M140 198h1M371 198h3M114 200h2M138 200h2M281 200h2M372 200h4M114 202h2M138 202h2M285 202h1M374 202h2M113 205h1M136 205h2M292 205h2M376 205h4M113 207h1M136 207h2M294 207h1M378 207h3M134 209h4M380 209h1M111 211h2M134 211h2M381 211h2M111 214h2M132 214h4M383 214h2M132 216h4M383 216h4M109 218h2M132 218h4M385 218h2M109 220h2M131 220h7M306 220h2M387 220h2M131 223h7M389 223h1M107 225h2M131 225h7M389 225h3M107 227h2M129 227h3M136 227h2M312 227h1M390 227h2M107 230h2M136 230h4M313 230h2M392 230h2M107 232h2M138 232h2M392 232h2M138 234h2M315 234h2M394 234h2M138 236h2M315 236h2M394 236h2M105 239h2M140 239h1M105 241h2M140 241h1M317 241h2M396 241h2M105 243h2M317 243h2M396 243h2M105 245h2M105 248h2M141 248h2M105 250h2M319 250h1M105 252h2M143 252h2M319 252h1M105 254h2M143 254h2M319 254h1M105 257h2M145 257h2M319 257h1M105 259h2M145 259h2M319 259h1M105 261h2M145 261h2M105 263h2M145 263h2M107 266h2M145 266h3M317 266h2M107 268h2M147 268h1M317 268h2M107 270h2M147 270h1M317 270h2M109 273h2M148 273h2M315 273h2M109 275h4M148 275h2M315 275h2M109 277h4M111 279h3M313 279h2M111 282h5M312 282h1M396 282h2M113 284h5M396 284h2M113 286h5M122 286h3M310 286h2M396 286h2M114 288h13M308 288h2M116 291h13M118 293h11M118 295h13M303 295h1M394 295h2M120 297h11M301 297h2M394 297h2M123 300h9M297 300h2M127 302h7M295 302h2M392 302h2M131 304h5M150 304h2M166 304h6M177 304h6M392 304h2M134 306h4M159 306h4M184 306h6M290 306h2M392 306h2M136 309h4M197 309h2M283 309h2M390 309h2M138 311h3M200 311h4M279 311h2M390 311h2M140 313h1M206 313h3M274 313h3M140 316h3M218 316h2M252 316h4M389 316h1M140 318h3M226 318h3M243 318h6M140 320h3M387 320h2M141 322h2M141 325h4M143 327h2M383 327h2M143 329h2M381 329h2M143 331h4M145 334h3M378 334h2M147 336h1M148 338h2M376 338h2M148 340h2M374 340h2M150 343h2M372 343h2M150 345h2M371 345h1M152 347h2M369 347h2M367 349h2M156 352h1M157 354h2M364 354h1M159 356h2M362 356h2M161 358h2M360 358h2M165 361h1M356 361h2M355 363h1M172 368h2M347 368h2M174 370h1M346 370h1M175 372h2M177 374h2M340 374h2M181 377h2M335 377h2M184 379h2M333 379h2M186 381h2M329 381h2M188 383h3M326 383h2M195 386h5M319 386h1M200 388h6M313 388h4M208 390h3M308 390h4M215 392h3M301 392h3M236 395h24M272 395h13"/>
<path stroke="#4800b9" d="M215 112h7M209 114h13M202 116h16M193 119h16M190 121h18M186 123h7M199 123h5M183 125h7M197 125h3M175 128h6M191 128h6M172 130h5M190 130h3M170 132h4M186 132h5M166 134h6M184 134h6M161 137h5M179 137h5M159 139h4M177 139h4M157 141h4M175 141h4M154 144h2M172 144h3M150 146h4M170 146h4M148 148h4M166 148h6M147 150h3M166 150h4M145 153h2M163 153h3M143 155h2M161 155h4M141 157h2M159 157h4M140 159h3M157 159h4M138 162h2M156 162h3M136 164h2M154 164h3M134 166h2M152 166h4M134 168h2M152 168h2M131 171h1M150 171h2M131 173h1M148 173h2M129 175h2M147 175h3M127 177h2M147 177h1M308 177h2M125 180h2M145 180h2M272 180h4M315 180h4M125 182h2M143 182h4M270 182h2M319 182h3M123 184h2M143 184h2M269 184h1M324 184h2M122 187h1M141 187h2M269 187h1M329 187h4M122 189h1M141 189h2M269 189h1M333 189h4M120 191h2M140 191h1M270 191h2M337 191h5M120 193h2M140 193h1M272 193h2M340 193h22M118 196h2M138 196h2M277 196h2M364 196h5M118 198h2M138 198h2M279 198h2M367 198h4M116 200h2M136 200h2M283 200h2M369 200h3M116 202h2M136 202h2M286 202h2M371 202h3M114 205h2M134 205h2M374 205h2M114 207h2M132 207h4M295 207h2M376 207h2M113 209h1M132 209h2M297 209h2M376 209h4M113 211h1M131 211h3M299 211h2M378 211h3M113 214h1M131 214h1M303 214h1M380 214h3M111 216h2M129 216h3M304 216h2M381 216h2M111 218h2M129 218h3M306 218h2M383 218h2M111 220h2M129 220h2M308 220h2M383 220h4M109 223h2M127 223h4M310 223h2M385 223h4M109 225h2M127 225h4M312 225h1M387 225h2M109 227h2M127 227h2M132 227h4M387 227h3M109 230h2M125 230h11M389 230h3M109 232h2M125 232h13M315 232h2M390 232h2M107 234h2M125 234h7M136 234h2M390 234h4M107 236h2M125 236h6M136 236h2M392 236h2M107 239h2M125 239h6M138 239h2M317 239h2M394 239h2M107 241h2M125 241h6M138 241h2M394 241h2M107 243h2M123 243h6M140 243h1M319 243h1M107 245h2M123 245h6M140 245h1M319 245h1M396 245h2M107 248h2M123 248h6M319 248h1M396 248h2M107 250h2M123 250h6M141 250h2M396 250h2M107 252h2M123 252h6M141 252h2M107 254h2M123 254h4M107 257h2M123 257h4M143 257h2M107 259h2M123 259h4M143 259h2M107 261h4M122 261h5M143 261h2M319 261h1M107 263h4M122 263h5M143 263h2M319 263h1M109 266h4M120 266h9M143 266h2M319 266h1M109 268h4M120 268h9M145 268h2M109 270h5M118 270h11M145 270h2M111 273h18M145 273h3M317 273h2M396 273h2M113 275h16M145 275h3M396 275h2M113 277h18M147 277h3M315 277h2M396 277h2M114 279h17M147 279h3M396 279h2M116 282h15M313 282h2M118 284h13M312 284h1M118 286h4M125 286h7M127 288h5M129 291h3M306 291h2M394 291h2M129 293h5M304 293h2M394 293h2M131 295h3M131 297h3M132 300h4M299 300h2M392 300h2M134 302h4M136 304h2M172 304h5M294 304h1M138 306h2M150 306h2M163 306h3M181 306h3M390 306h2M140 309h3M152 309h7M191 309h6M285 309h1M141 311h2M199 311h1M281 311h2M389 311h1M141 313h4M204 313h2M277 313h2M389 313h1M143 316h2M215 316h3M256 316h9M387 316h2M143 318h2M222 318h4M249 318h2M387 318h2M143 320h4M234 320h6M143 322h4M385 322h2M145 325h2M383 325h2M145 327h2M381 327h2M145 329h3M147 331h1M380 331h1M148 334h2M148 336h2M376 336h2M150 338h2M374 338h2M150 340h4M371 343h1M152 345h2M369 345h2M154 349h2M157 352h2M364 352h1M159 354h2M362 354h2M161 356h2M360 356h2M358 358h2M355 361h1M166 363h2M353 363h2M168 365h2M351 365h2M346 368h1M344 370h2M177 372h2M342 372h2M179 374h2M338 374h2M183 377h3M333 377h2M186 379h2M331 379h2M188 381h2M328 381h1M191 383h2M324 383h2M200 386h2M315 386h4M206 388h3M310 388h3M211 390h4M304 390h4M218 392h6M295 392h6M260 395h12"/>
<path stroke="#4500bf" d="M193 123h6M190 125h7M181 128h10M177 130h13M174 132h12M172 134h12M166 137h13M163 139h14M161 141h5M170 141h5M156 144h5M166 144h6M154 146h5M165 146h5M152 148h4M163 148h3M150 150h4M161 150h5M147 153h3M157 153h6M145 155h3M157 155h4M143 157h4M156 157h3M143 159h2M154 159h3M140 162h3M152 162h4M138 164h3M150 164h4M136 166h4M148 166h4M136 168h2M148 168h4M132 171h4M147 171h3M132 173h2M145 173h3M131 175h1M145 175h2M129 177h3M143 177h4M127 180h4M141 180h4M276 180h3M286 180h18M313 180h2M127 182h2M141 182h2M272 182h2M295 182h4M317 182h2M125 184h2M140 184h3M270 184h2M320 184h4M123 187h2M140 187h1M270 187h2M328 187h1M123 189h2M138 189h3M270 189h2M329 189h4M122 191h1M138 191h2M333 191h4M122 193h1M138 193h2M337 193h3M120 196h2M136 196h2M342 196h22M120 198h2M134 198h4M281 198h2M349 198h18M118 200h2M134 200h2M285 200h1M365 200h4M118 202h2M132 202h4M288 202h2M367 202h4M116 205h2M131 205h3M294 205h1M371 205h3M116 207h2M131 207h1M372 207h4M114 209h4M129 209h3M374 209h2M114 211h2M129 211h2M376 211h2M114 214h2M127 214h4M378 214h2M113 216h3M127 216h2M380 216h1M113 218h1M125 218h4M380 218h3M113 220h1M125 220h4M381 220h2M111 223h3M123 223h4M312 223h1M383 223h2M111 225h3M123 225h4M385 225h2M111 227h3M123 227h4M313 227h2M385 227h2M111 230h2M122 230h3M315 230h2M387 230h2M111 232h2M122 232h3M387 232h3M109 234h4M122 234h3M132 234h4M317 234h2M389 234h1M109 236h4M120 236h5M131 236h5M317 236h2M389 236h3M109 239h4M120 239h5M131 239h1M134 239h4M319 239h1M390 239h4M109 241h4M120 241h5M136 241h2M319 241h1M392 241h2M109 243h4M120 243h3M129 243h2M136 243h4M392 243h4M109 245h4M118 245h5M129 245h2M138 245h2M394 245h2M109 248h4M118 248h5M129 248h2M140 248h1M320 248h2M394 248h2M109 250h4M118 250h5M140 250h1M320 250h2M109 252h4M118 252h5M320 252h2M396 252h2M109 254h4M118 254h5M127 254h2M141 254h2M320 254h2M396 254h2M109 257h5M116 257h7M127 257h2M141 257h2M320 257h2M396 257h2M109 259h14M127 259h2M141 259h2M320 259h2M396 259h2M111 261h11M127 261h2M141 261h2M320 261h2M396 261h2M111 263h11M127 263h2M141 263h2M320 263h2M396 263h2M113 266h7M396 266h2M113 268h7M129 268h2M143 268h2M319 268h1M396 268h2M114 270h4M129 270h2M143 270h2M319 270h1M396 270h2M129 273h2M143 273h2M129 275h2M143 275h2M317 275h2M143 277h4M131 279h1M145 279h2M315 279h2M131 282h1M145 282h5M131 284h1M147 284h3M313 284h2M148 286h2M312 286h1M394 286h2M132 288h2M310 288h2M394 288h2M132 291h2M134 293h2M134 295h2M304 295h2M134 297h2M303 297h1M392 297h2M136 300h2M138 302h2M297 302h2M138 304h2M295 304h2M390 304h2M140 306h1M166 306h6M175 306h6M292 306h2M143 309h2M159 309h2M188 309h3M286 309h2M389 309h1M143 311h2M154 311h5M193 311h6M283 311h2M145 313h2M156 313h1M200 313h4M279 313h2M145 316h2M213 316h2M265 316h5M145 318h3M220 318h2M251 318h3M385 318h2M147 320h1M229 320h5M240 320h7M385 320h2M147 322h1M383 322h2M147 325h3M381 325h2M147 327h3M148 329h2M380 329h1M148 331h4M150 334h2M376 334h2M150 336h4M152 338h2M154 340h2M372 340h2M152 343h2M154 345h2M154 347h2M367 347h2M156 349h1M365 349h2M159 352h2M362 352h2M360 354h2M358 356h2M163 358h2M356 358h2M166 361h2M353 361h2M168 363h2M351 363h2M170 365h2M349 365h2M174 368h1M344 368h2M175 370h2M342 370h2M340 372h2M181 374h2M337 374h1M331 377h2M188 379h2M329 379h2M190 381h1M326 381h2M193 383h4M322 383h2M202 386h4M313 386h2M209 388h2M306 388h4M215 390h3M301 390h3M224 392h3M292 392h3"/>
<path stroke="#4100c6" d="M166 141h4M161 144h5M159 146h6M156 148h7M154 150h7M150 153h7M148 155h9M147 157h9M145 159h9M143 162h9M141 164h9M140 166h8M138 168h10M136 171h11M134 173h11M132 175h13M132 177h11M131 180h10M279 180h7M304 180h4M129 182h3M134 182h7M274 182h3M288 182h7M299 182h5M315 182h2M127 184h5M134 184h6M272 184h2M294 184h9M319 184h1M125 187h4M134 187h6M326 187h2M125 189h4M134 189h4M328 189h1M123 191h4M134 191h4M272 191h2M331 191h2M123 193h4M132 193h6M274 193h2M333 193h4M122 196h3M131 196h5M279 196h2M338 196h4M122 198h3M131 198h3M283 198h2M342 198h7M120 200h5M129 200h5M286 200h2M346 200h19M120 202h3M127 202h5M290 202h2M360 202h7M118 205h5M125 205h6M295 205h2M367 205h4M118 207h13M297 207h2M369 207h3M118 209h11M299 209h2M371 209h3M116 211h13M301 211h2M372 211h4M116 214h11M304 214h2M376 214h2M116 216h11M306 216h2M376 216h4M114 218h11M308 218h2M378 218h2M114 220h11M310 220h2M380 220h1M114 223h9M381 223h2M114 225h9M313 225h2M381 225h4M114 227h9M383 227h2M113 230h9M385 230h2M113 232h9M317 232h2M385 232h2M113 234h9M387 234h2M113 236h7M387 236h2M113 239h7M132 239h2M389 239h1M113 241h7M131 241h5M389 241h3M113 243h7M131 243h5M320 243h2M390 243h2M113 245h5M131 245h7M320 245h2M390 245h4M113 248h5M138 248h2M392 248h2M113 250h5M129 250h2M138 250h2M392 250h4M113 252h5M129 252h2M140 252h1M394 252h2M113 254h5M129 254h2M140 254h1M322 254h2M394 254h2M114 257h2M129 257h2M322 257h2M129 259h2M129 261h2M129 263h2M129 266h2M141 266h2M320 266h2M141 268h2M141 270h2M131 273h1M141 273h2M319 273h1M394 273h2M131 275h1M141 275h2M394 275h2M131 277h1M141 277h2M317 277h2M394 277h2M143 279h2M394 279h2M132 282h2M143 282h2M315 282h2M394 282h2M132 284h2M145 284h2M394 284h2M132 286h2M145 286h3M145 288h5M312 288h1M134 291h2M147 291h3M308 291h2M306 293h2M392 293h2M136 295h2M392 295h2M136 297h2M138 300h2M301 300h2M390 300h2M299 302h2M390 302h2M140 304h1M141 306h2M148 306h2M172 306h3M294 306h1M145 309h3M150 309h2M161 309h4M184 309h4M288 309h2M145 311h3M152 311h2M159 311h4M190 311h3M285 311h1M387 311h2M147 313h1M154 313h2M157 313h4M195 313h5M281 313h2M387 313h2M147 316h1M209 316h4M270 316h2M385 316h2M148 318h2M217 318h3M254 318h7M148 320h2M226 320h3M247 320h4M383 320h2M148 322h2M150 325h2M150 327h2M380 327h1M150 329h4M152 331h2M378 331h2M152 334h4M154 336h2M374 336h2M154 338h3M372 338h2M156 340h1M371 340h1M154 343h2M157 343h2M369 343h2M367 345h2M156 347h1M365 347h2M157 349h2M364 349h1M161 354h2M163 356h2M165 358h1M168 361h2M351 361h2M170 363h2M349 363h2M172 365h2M347 365h2M175 368h2M177 370h2M340 370h2M179 372h2M338 372h2M335 374h2M186 377h2M329 377h2M190 379h1M328 379h1M191 381h2M324 381h2M197 383h2M320 383h2M206 386h2M310 386h3M211 388h4M304 388h2M218 390h4M295 390h6M227 392h4M286 392h6"/>
<path stroke="#3a00cc" d="M308 180h5M132 182h2M277 182h11M304 182h2M132 184h2M274 184h3M288 184h6M303 184h3M317 184h2M129 187h5M272 187h2M322 187h4M129 189h5M272 189h2M326 189h2M127 191h7M274 191h2M328 191h3M127 193h5M276 193h1M331 193h2M125 196h6M281 196h2M335 196h3M125 198h6M285 198h1M338 198h4M125 200h4M288 200h2M340 200h6M123 202h4M292 202h2M344 202h16M123 205h2M297 205h2M362 205h5M299 207h2M365 207h4M301 209h2M367 209h4M303 211h1M369 211h3M306 214h2M372 214h4M308 216h2M374 216h2M376 218h2M376 220h4M313 223h2M378 223h3M380 225h1M315 227h2M381 227h2M317 230h2M383 230h2M383 232h2M319 234h1M383 234h4M319 236h1M385 236h2M320 239h2M387 239h2M320 241h2M387 241h2M387 243h3M322 245h2M389 245h1M131 248h7M322 248h2M389 248h3M131 250h7M322 250h2M390 250h2M131 252h1M136 252h4M322 252h2M390 252h4M131 254h1M138 254h2M390 254h4M140 257h1M392 257h4M140 259h1M322 259h2M392 259h4M140 261h1M322 261h2M392 261h4M131 263h1M140 263h1M322 263h2M394 263h2M131 266h1M140 266h1M394 266h2M131 268h1M140 268h1M320 268h2M394 268h2M131 270h1M140 270h1M320 270h2M394 270h2M140 273h1M132 275h2M140 275h1M319 275h1M132 277h2M132 279h2M141 279h2M317 279h2M134 282h2M141 282h2M134 284h2M143 284h2M315 284h2M134 286h2M143 286h2M313 286h2M134 288h2M143 288h2M136 291h2M145 291h2M392 291h2M136 293h2M147 293h3M308 293h2M147 295h3M306 295h2M138 297h2M148 297h2M304 297h2M140 302h1M148 302h2M141 304h2M148 304h2M297 304h2M389 304h1M143 306h5M389 306h1M148 309h2M165 309h1M181 309h3M387 309h2M148 311h4M163 311h2M186 311h4M286 311h2M148 313h6M161 313h2M190 313h5M283 313h2M148 316h4M156 316h5M206 316h3M272 316h4M150 318h2M213 318h4M261 318h8M383 318h2M150 320h2M222 320h4M251 320h1M150 322h4M233 322h9M381 322h2M152 325h2M380 325h1M152 327h4M154 329h2M378 329h2M154 331h3M376 331h2M156 334h3M374 334h2M156 336h3M372 336h2M157 338h2M157 340h4M159 343h2M367 343h2M156 345h1M161 345h2M365 345h2M161 352h2M360 352h2M163 354h2M358 354h2M165 356h1M356 356h2M355 358h1M347 363h2M346 365h1M342 368h2M179 370h2M338 370h2M181 372h2M337 372h1M183 374h1M333 374h2M188 377h2M328 377h1M326 379h2M193 381h2M322 381h2M199 383h1M317 383h3M208 386h3M306 386h4M215 388h2M301 388h3M222 390h2M292 390h3M231 392h5M281 392h5"/>
<path stroke="#3400d2" d="M306 182h4M277 184h11M274 187h3M294 187h12M320 187h2M274 189h2M295 189h8M324 189h2M276 191h1M326 191h2M277 193h2M329 193h2M283 196h2M333 196h2M286 198h2M335 198h3M290 200h2M338 200h2M294 202h1M340 202h4M346 205h16M351 207h14M362 209h5M365 211h4M371 214h1M371 216h3M310 218h2M372 218h4M312 220h1M374 220h2M376 223h2M315 225h2M378 225h2M317 227h2M378 227h3M319 230h1M380 230h3M319 232h1M381 232h2M381 234h2M320 236h2M383 236h2M385 239h2M322 241h2M385 241h2M322 243h2M385 243h2M387 245h2M324 248h2M387 248h2M324 250h2M389 250h1M132 252h4M324 252h2M389 252h1M132 254h6M324 254h2M389 254h1M131 257h9M324 257h2M390 257h2M131 259h9M324 259h2M390 259h2M131 261h9M390 261h2M132 263h8M390 263h4M132 266h8M322 266h2M392 266h2M132 268h8M322 268h2M392 268h2M132 270h8M392 270h2M132 273h8M320 273h2M392 273h2M134 275h6M392 275h2M134 277h7M319 277h1M392 277h2M134 279h7M319 279h1M392 279h2M136 282h5M317 282h2M392 282h2M136 284h4M141 284h2M392 284h2M136 286h4M141 286h2M392 286h2M136 288h4M141 288h2M313 288h2M392 288h2M138 291h2M143 291h2M310 291h2M138 293h2M145 293h2M138 295h3M145 295h2M390 295h2M140 297h1M147 297h1M390 297h2M140 300h3M148 300h2M303 300h1M141 302h4M147 302h1M301 302h2M389 302h1M143 304h5M299 304h2M295 306h2M166 309h4M177 309h4M290 309h2M165 311h1M183 311h3M288 311h2M163 313h2M186 313h4M285 313h1M385 313h2M152 316h4M161 316h2M202 316h4M276 316h1M383 316h2M152 318h11M209 318h4M269 318h3M152 320h4M157 320h4M217 320h5M252 320h4M381 320h2M154 322h2M227 322h6M242 322h7M154 325h3M156 327h1M378 327h2M156 329h3M376 329h2M157 331h2M159 334h2M372 334h2M159 336h4M159 338h4M371 338h1M161 340h4M369 340h2M156 343h1M161 343h4M157 345h2M163 345h3M157 347h2M364 347h1M159 349h2M362 349h2M163 352h2M358 352h2M356 354h2M355 356h1M166 358h2M353 358h2M170 361h2M349 361h2M172 363h2M174 365h1M177 368h2M340 368h2M335 372h2M184 374h2M190 377h1M326 377h2M191 379h2M324 379h2M195 381h2M320 381h2M200 383h2M315 383h2M211 386h2M304 386h2M217 388h1M297 388h4M224 390h3M288 390h4M236 392h6M276 392h5"/>
<path stroke="#2e00d9" d="M310 182h5M306 184h2M277 187h2M290 187h4M306 187h4M276 189h3M292 189h3M303 189h5M322 189h2M277 191h2M294 191h10M324 191h2M279 193h2M297 193h6M328 193h1M285 196h1M331 196h2M288 198h4M333 198h2M292 200h3M335 200h3M295 202h2M337 202h3M299 205h2M342 205h4M301 207h2M346 207h5M303 209h1M349 209h13M304 211h2M358 211h7M308 214h2M367 214h4M310 216h2M369 216h2M312 218h1M371 218h1M313 220h2M372 220h2M315 223h2M374 223h2M317 225h2M376 225h2M376 227h2M378 230h2M320 232h2M380 232h1M320 234h2M380 234h1M322 236h2M381 236h2M322 239h2M381 239h4M383 241h2M324 243h2M383 243h2M324 245h2M385 245h2M385 248h2M385 250h4M387 252h2M387 254h2M389 257h1M389 259h1M324 261h2M389 261h1M324 263h2M389 263h1M390 266h2M390 268h2M322 270h2M390 270h2M390 273h2M320 275h2M390 275h2M390 277h2M140 284h1M317 284h2M140 286h1M315 286h2M140 288h1M140 291h3M312 291h1M390 291h2M140 293h5M310 293h2M390 293h2M141 295h4M308 295h2M141 297h6M306 297h2M143 300h2M147 300h1M389 300h1M145 302h2M297 306h2M387 306h2M170 309h7M292 309h2M385 309h2M166 311h2M179 311h4M385 311h2M165 313h1M183 313h3M286 313h2M163 316h2M195 316h7M277 316h2M163 318h2M204 318h5M272 318h2M381 318h2M156 320h1M161 320h4M213 320h4M256 320h9M156 322h9M224 322h3M249 322h2M380 322h1M157 325h6M378 325h2M157 327h4M159 329h2M159 331h4M374 331h2M161 334h4M163 336h2M371 336h1M163 338h3M369 338h2M165 340h1M165 343h3M365 343h2M166 345h2M364 345h1M159 347h2M166 347h2M362 347h2M161 349h2M165 354h1M166 356h2M168 358h2M172 361h2M347 361h2M174 363h1M346 363h1M175 365h2M344 365h2M179 368h2M338 368h2M181 370h2M337 370h1M183 372h1M333 372h2M331 374h2M324 377h2M193 379h2M322 379h2M197 381h2M317 381h3M202 383h2M313 383h2M213 386h2M301 386h3M218 388h4M294 388h3M227 390h4M285 390h3M242 392h34"/>
<path stroke="#2800e0" d="M308 184h4M279 187h11M279 189h4M288 189h4M308 189h4M279 191h2M290 191h4M304 191h4M281 193h2M292 193h5M303 193h3M326 193h2M286 196h17M329 196h2M292 198h9M331 198h2M295 200h6M333 200h2M297 202h4M335 202h2M301 205h2M338 205h4M303 207h1M342 207h4M304 209h2M344 209h5M306 211h2M347 211h11M310 214h2M362 214h5M312 216h1M365 216h4M313 218h2M367 218h4M315 220h2M369 220h3M317 223h2M372 223h2M319 225h1M374 225h2M319 227h1M374 227h2M320 230h2M376 230h2M322 232h2M378 232h2M322 234h2M378 234h2M380 236h1M324 239h2M380 239h1M324 241h2M381 241h2M381 243h2M326 245h2M381 245h4M326 248h2M383 248h2M326 250h2M383 250h2M326 252h2M385 252h2M326 254h2M385 254h2M326 257h2M387 257h2M326 259h2M387 259h2M326 261h2M387 261h2M387 263h2M324 266h2M389 266h1M324 268h2M389 268h1M389 270h1M322 273h2M389 273h1M389 275h1M320 277h2M389 277h1M320 279h2M389 279h3M319 282h1M390 282h2M390 284h2M317 286h2M390 286h2M315 288h2M390 288h2M389 295h1M308 297h2M389 297h1M145 300h2M304 300h2M303 302h1M387 302h2M301 304h2M387 304h2M168 311h4M175 311h4M290 311h2M166 313h2M179 313h4M383 313h2M165 316h1M188 316h7M279 316h2M381 316h2M165 318h1M199 318h5M274 318h2M165 320h1M208 320h5M265 320h4M380 320h1M165 322h1M218 322h6M251 322h3M163 325h3M161 327h5M376 327h2M161 329h5M374 329h2M163 331h3M165 334h1M371 334h1M165 336h3M166 338h2M166 340h4M367 340h2M168 343h4M159 345h2M168 345h4M161 347h2M168 347h4M163 349h2M360 349h2M165 352h1M356 352h2M166 354h2M355 354h1M168 356h2M353 356h2M351 358h2M344 363h2M342 365h2M337 368h1M183 370h1M335 370h2M184 372h2M186 374h2M329 374h2M191 377h2M195 379h2M320 379h2M199 381h1M315 381h2M204 383h2M312 383h1M215 386h2M299 386h2M222 388h4M292 388h2M231 390h5M281 390h4"/>
<path stroke="#2200e6" d="M312 184h5M283 189h5M281 191h9M308 191h5M283 193h9M306 193h4M303 196h3M328 196h1M301 198h5M329 198h2M301 200h3M331 200h2M301 202h3M333 202h2M303 205h3M337 205h1M304 207h2M338 207h4M306 209h2M340 209h4M308 211h2M344 211h3M312 214h1M351 214h11M313 216h2M356 216h9M315 218h2M364 218h3M317 220h2M367 220h2M319 223h1M371 223h1M320 225h2M371 225h3M320 227h2M372 227h2M322 230h2M374 230h2M376 232h2M324 234h2M376 234h2M324 236h2M378 236h2M326 239h2M326 241h2M380 241h1M326 243h2M380 243h1M328 248h1M381 248h2M328 250h1M381 250h2M328 252h1M383 252h2M328 254h1M383 254h2M328 257h1M385 257h2M385 259h2M385 261h2M326 263h2M326 266h2M387 266h2M387 268h2M324 270h2M387 270h2M387 273h2M322 275h2M387 275h2M322 277h2M387 277h2M387 279h2M387 282h2M319 284h1M387 284h2M389 288h1M313 291h2M389 291h1M312 293h1M389 293h1M310 295h2M306 300h2M387 300h2M304 302h2M303 304h1M299 306h2M385 306h2M294 309h1M172 311h3M292 311h2M383 311h2M168 313h4M177 313h2M288 313h2M166 316h2M183 316h5M281 316h2M166 318h2M188 318h11M276 318h1M380 318h1M166 320h2M204 320h4M269 320h3M166 322h2M213 322h5M254 322h6M378 322h2M166 325h2M376 325h2M166 327h4M166 329h4M166 331h4M372 331h2M166 334h4M168 336h2M369 336h2M168 338h4M367 338h2M170 340h2M172 343h2M364 343h1M172 345h2M362 345h2M163 347h2M172 347h2M360 347h2M358 349h2M166 352h2M355 352h1M168 354h2M353 354h2M351 356h2M170 358h2M349 358h2M174 361h1M346 361h1M175 363h2M177 365h2M340 365h2M181 368h2M333 370h2M331 372h2M188 374h2M328 374h1M193 377h2M322 377h2M197 379h2M319 379h1M200 381h2M313 381h2M206 383h2M308 383h4M217 386h3M297 386h2M226 388h3M288 388h4M236 390h7M274 390h7"/>
<path stroke="#1b00ea" d="M310 193h3M306 196h4M306 198h2M304 200h4M304 202h2M306 205h2M335 205h2M306 207h4M335 207h3M308 209h4M337 209h3M310 211h3M340 211h4M313 214h4M346 214h5M315 216h2M349 216h7M317 218h2M355 218h9M319 220h1M362 220h5M320 223h2M367 223h4M322 225h2M369 225h2M322 227h2M371 227h1M324 230h2M372 230h2M324 232h2M374 232h2M326 234h2M326 236h2M376 236h2M378 239h2M328 241h1M378 241h2M328 243h1M328 245h1M380 245h1M380 248h1M381 252h2M381 254h2M383 257h2M328 259h1M383 259h2M328 261h1M383 261h2M328 263h1M385 263h2M385 266h2M326 268h2M385 268h2M385 270h2M324 273h2M322 279h2M320 282h2M389 282h1M389 284h1M319 286h1M389 286h1M317 288h2M385 288h2M313 293h2M312 295h1M387 295h2M310 297h2M387 297h2M385 302h2M385 304h2M301 306h2M295 309h2M383 309h2M172 313h5M290 313h2M381 313h2M168 316h4M181 316h2M283 316h2M380 316h1M168 318h2M183 318h5M277 318h4M168 320h2M190 320h14M272 320h2M378 320h2M168 322h2M208 322h5M260 322h7M168 325h4M170 327h2M374 327h2M170 329h2M372 329h2M170 331h2M170 334h4M369 334h2M170 336h4M172 338h2M172 340h2M365 340h2M174 343h1M174 345h1M165 347h1M174 347h1M165 349h1M174 349h1M168 352h2M170 356h2M172 358h2M175 361h2M344 361h2M177 363h2M342 363h2M179 365h2M183 368h1M335 368h2M184 370h2M186 372h2M329 372h2M326 374h2M320 377h2M199 379h1M317 379h2M202 381h2M312 381h1M208 383h1M306 383h2M220 386h2M294 386h3M229 388h4M285 388h3M243 390h31"/>
<path stroke="#1500ef" d="M310 187h3M313 193h2M310 196h2M308 198h2M308 200h2M306 202h4M308 205h4M310 207h3M312 209h1M313 211h2M337 211h3M317 214h2M340 214h6M317 216h3M344 216h5M319 218h1M347 218h8M320 220h2M353 220h9M322 223h2M364 223h3M324 225h2M367 225h2M324 227h2M369 227h2M326 230h2M371 230h1M326 232h2M372 232h2M374 234h2M328 236h1M374 236h2M328 239h1M376 239h2M329 243h2M378 243h2M329 245h2M378 245h2M329 248h2M329 250h2M380 250h1M329 252h2M380 252h1M329 254h2M380 254h1M329 257h2M381 257h2M329 259h2M381 259h2M383 263h2M328 266h1M383 266h2M326 270h2M385 273h2M324 275h2M385 275h2M324 277h2M385 277h2M385 279h2M385 282h2M320 284h2M385 284h2M385 286h2M387 288h2M315 291h2M387 291h2M387 293h2M308 300h2M385 300h2M306 302h2M304 304h2M303 306h1M383 306h2M297 309h2M294 311h1M381 311h2M172 316h9M285 316h1M170 318h4M179 318h4M170 320h4M183 320h7M274 320h3M170 322h4M202 322h6M267 322h3M376 322h2M172 325h2M229 325h14M374 325h2M172 327h2M172 329h2M172 331h2M371 331h1M174 334h1M174 336h1M367 336h2M174 338h1M365 338h2M174 340h3M175 343h2M362 343h2M175 345h2M360 345h2M175 347h2M358 347h2M166 349h2M175 349h4M356 349h2M353 352h2M170 354h2M351 354h2M172 356h2M349 356h2M174 358h1M347 358h2M340 363h2M338 365h2M333 368h2M186 370h2M331 370h2M188 372h2M328 372h1M190 374h1M195 377h2M319 377h1M200 379h2M315 379h2M204 381h2M310 381h2M209 383h2M304 383h2M222 386h4M290 386h4M233 388h3M279 388h6"/>
<path stroke="#0e00f4" d="M313 187h7M312 189h1M312 196h5M310 198h3M310 200h3M310 202h3M312 205h3M313 207h4M313 209h4M315 211h4M319 214h1M338 214h2M320 216h2M340 216h4M320 218h4M342 218h5M322 220h2M346 220h7M324 223h2M358 223h6M326 225h2M364 225h3M326 227h2M365 227h4M328 230h1M369 230h2M328 232h1M371 232h1M328 234h1M372 234h2M329 236h2M372 236h2M329 239h2M374 239h2M329 241h2M376 241h2M376 243h2M331 245h2M331 248h2M378 248h2M331 250h2M378 250h2M331 252h2M331 254h2M380 257h1M329 261h2M381 261h2M329 263h2M381 263h2M328 268h1M383 268h2M328 270h1M383 270h2M326 273h2M383 273h2M383 275h2M383 277h2M324 279h2M383 279h2M322 282h2M383 282h2M383 284h2M320 286h2M383 286h2M387 286h2M319 288h1M383 288h2M317 291h2M383 291h2M315 293h2M313 295h2M312 297h1M385 297h2M308 302h2M306 304h2M383 304h2M304 306h2M381 309h2M295 311h2M292 313h2M380 313h1M286 316h2M174 318h5M281 318h2M378 318h2M174 320h9M277 320h2M174 322h3M184 322h18M270 322h2M174 325h3M222 325h7M243 325h6M174 327h3M372 327h2M174 329h3M174 331h3M175 334h2M367 334h2M175 336h2M175 338h2M177 340h2M364 340h1M177 343h2M177 345h4M177 347h4M168 349h2M179 349h2M170 352h2M172 354h2M174 356h1M177 361h2M342 361h2M179 363h2M181 365h2M184 368h2M329 370h2M191 374h2M324 374h2M197 377h2M317 377h2M202 379h2M313 379h2M206 381h2M308 381h2M211 383h4M303 383h1M226 386h3M288 386h2M236 388h7M276 388h3"/>
<path stroke="#0800f9" d="M313 189h2M319 189h3M322 191h2M313 198h6M313 200h6M313 202h7M315 205h7M317 207h3M322 207h2M317 209h5M319 211h3M320 214h4M322 216h4M324 218h4M340 218h2M324 220h4M342 220h4M326 223h3M349 223h9M328 225h1M356 225h8M328 227h3M362 227h3M329 230h2M367 230h2M329 232h2M369 232h2M329 234h4M371 234h1M331 236h2M371 236h1M331 239h2M331 241h2M374 241h2M331 243h2M374 243h2M376 245h2M333 248h2M333 250h2M333 252h2M378 252h2M333 254h2M378 254h2M331 257h2M331 259h2M380 259h1M331 261h2M380 261h1M380 263h1M329 266h2M381 266h2M381 268h2M381 270h2M326 275h2M326 277h2M322 284h2M381 291h2M385 291h2M381 293h2M385 293h2M315 295h2M385 295h2M313 297h2M310 300h2M383 300h2M383 302h2M299 309h2M380 311h1M294 313h1M378 316h2M283 318h2M279 320h2M376 320h2M177 322h7M272 322h4M177 325h4M215 325h7M249 325h3M372 325h2M177 327h4M177 329h2M371 329h1M177 331h2M369 331h2M177 334h2M177 336h2M365 336h2M177 338h2M179 340h2M179 343h2M360 343h2M181 345h2M358 345h2M181 347h2M356 347h2M170 349h2M181 349h2M355 349h1M172 352h2M183 352h1M351 352h2M174 354h1M349 354h2M175 356h2M347 356h2M175 358h2M346 358h1M179 361h2M181 363h2M338 363h2M183 365h1M337 365h1M186 368h2M331 368h2M188 370h2M190 372h1M326 372h2M322 374h2M199 377h1M315 377h2M204 379h2M312 379h1M208 381h3M306 381h2M215 383h2M301 383h2M229 386h4M285 386h3M243 388h15M267 388h9"/>
<path stroke="#0200fe" d="M315 189h4M313 191h2M320 191h2M324 193h2M320 207h2M322 209h2M322 211h4M324 214h4M326 216h2M328 218h1M328 220h1M329 223h2M342 223h7M329 225h4M344 225h12M331 227h2M355 227h7M331 230h4M365 230h2M331 232h4M367 232h2M333 234h2M369 234h2M333 236h2M333 239h2M372 239h2M333 241h2M372 241h2M333 243h2M333 245h2M374 245h2M376 248h2M376 250h2M376 252h2M333 257h2M378 257h2M333 259h2M378 259h2M331 263h2M380 266h1M329 268h2M380 268h1M329 270h2M328 273h1M381 273h2M381 275h2M381 277h2M326 279h2M381 279h2M324 282h2M381 282h2M381 284h2M322 286h2M381 286h2M320 288h2M381 288h2M319 291h1M317 293h2M380 297h1M312 300h1M310 302h2M308 304h2M381 304h2M306 306h2M381 306h2M301 309h2M380 309h1M297 311h2M295 313h2M288 316h2M285 318h1M376 318h2M281 320h2M276 322h1M374 322h2M181 325h3M186 325h11M209 325h6M252 325h4M181 327h2M224 327h21M371 327h1M179 329h4M179 331h4M179 334h2M179 336h2M179 338h2M364 338h1M362 340h2M181 343h2M183 345h1M183 347h1M172 349h2M183 349h3M174 352h1M184 352h2M175 354h2M177 358h2M344 358h2M181 361h2M340 361h2M335 365h2M190 370h1M328 370h1M191 372h2M324 372h2M193 374h2M200 377h2M313 377h2M206 379h2M310 379h2M211 381h2M304 381h2M217 383h1M299 383h2M233 386h3M281 386h4M258 388h9"/>
<path stroke="#0006ff" d="M315 191h5M320 193h4M326 196h2M344 227h11M360 230h5M364 232h3M335 234h2M367 234h2M335 236h3M369 236h2M335 239h3M371 239h1M335 241h3M335 243h3M372 243h2M335 245h3M372 245h2M335 248h2M374 248h2M335 250h2M335 252h2M335 254h2M376 254h2M335 257h2M333 261h2M378 261h2M333 263h2M378 263h2M331 266h2M331 268h2M380 270h1M380 273h1M328 275h1M380 275h1M328 277h1M380 277h1M380 279h1M324 284h2M380 291h1M380 293h1M383 293h2M317 295h2M380 295h1M383 295h2M315 297h2M383 297h2M381 302h2M310 304h2M308 306h2M303 309h1M299 311h2M378 313h2M290 316h2M376 316h2M286 318h2M283 320h2M374 320h2M277 322h2M184 325h2M197 325h12M256 325h7M183 327h3M218 327h6M245 327h4M183 329h1M369 329h2M183 331h1M181 334h2M365 334h2M181 336h2M364 336h1M181 338h2M181 340h2M183 343h1M358 343h2M184 345h2M356 345h2M184 347h2M355 347h1M186 349h2M353 349h2M175 352h2M186 352h2M349 352h2M177 354h2M188 354h2M347 354h2M177 356h2M346 356h1M179 358h2M183 363h1M337 363h1M184 365h2M188 368h2M329 368h2M326 370h2M195 374h2M320 374h2M202 377h2M208 379h1M308 379h2M213 381h2M303 381h1M218 383h4M297 383h2M236 386h6M277 386h4"/>
<path stroke="#000eff" d="M315 193h5M324 196h2M326 198h3M329 200h2M331 202h2M344 230h16M344 232h3M360 232h4M364 234h3M367 236h2M338 239h2M369 239h2M338 241h2M371 241h1M338 243h2M371 243h1M338 245h2M337 248h1M337 250h1M374 250h2M337 252h1M374 252h2M337 254h1M376 257h2M335 259h2M376 259h2M335 261h2M333 266h2M378 266h2M378 268h2M331 270h2M378 270h2M329 273h2M329 275h2M328 279h1M326 282h2M380 282h1M380 284h1M324 286h2M380 286h1M322 288h2M380 288h1M320 291h2M319 293h1M378 297h2M313 300h2M378 300h2M381 300h2M312 302h1M380 306h1M304 309h2M301 311h2M378 311h2M297 313h2M292 316h2M288 318h2M285 320h1M279 322h2M372 322h2M263 325h6M371 325h1M186 327h18M206 327h12M249 327h3M184 329h4M226 329h14M184 331h2M367 331h2M183 334h1M183 336h1M183 338h1M362 338h2M183 340h1M360 340h2M184 343h2M186 347h2M188 349h2M177 352h2M188 352h3M179 354h2M190 354h1M179 356h2M181 358h2M183 361h1M338 361h2M184 363h2M186 365h2M333 365h2M190 368h1M328 368h1M191 370h2M193 372h2M322 372h2M197 374h2M319 374h1M204 377h4M312 377h1M209 379h2M306 379h2M215 381h3M301 381h2M222 383h2M295 383h2M242 386h9M272 386h5"/>
<path stroke="#0016ff" d="M317 196h7M322 198h4M326 200h3M329 202h2M333 205h2M347 232h13M344 234h7M358 234h6M344 236h3M364 236h3M367 239h2M369 241h2M340 243h2M340 245h2M371 245h1M338 248h2M372 248h2M338 250h2M372 250h2M338 252h2M338 254h2M374 254h2M337 257h1M337 259h1M376 261h2M335 263h2M376 263h2M333 268h2M331 273h2M378 273h2M378 275h2M329 277h2M378 277h2M378 279h2M378 282h2M326 284h2M378 284h2M378 286h2M378 288h2M378 291h2M378 293h2M319 295h1M378 295h2M317 297h2M381 297h2M313 302h2M376 302h2M312 304h1M380 304h1M310 306h2M306 309h2M378 309h2M303 311h1M299 313h2M294 316h1M290 318h2M374 318h2M286 320h2M281 322h2M269 325h3M204 327h2M252 327h4M369 327h2M188 329h12M220 329h6M240 329h7M367 329h2M186 331h2M184 334h4M364 334h1M184 336h2M184 338h2M184 340h2M186 343h2M356 343h2M186 345h2M188 347h2M179 352h2M191 352h2M181 354h2M191 354h2M346 354h1M181 356h2M191 356h4M344 356h2M183 358h1M342 358h2M184 361h2M186 363h2M335 363h2M188 365h2M191 368h2M193 370h2M324 370h2M195 372h2M199 374h1M208 377h1M310 377h2M211 379h4M304 379h2M218 381h2M299 381h2M224 383h3M294 383h1M251 386h21"/>
<path stroke="#001dff" d="M319 198h3M319 200h7M322 202h7M329 205h4M331 207h4M333 209h4M335 211h2M351 234h7M347 236h17M344 239h3M365 239h2M344 241h2M367 241h2M342 243h2M369 243h2M342 245h2M369 245h2M340 248h2M371 248h1M340 250h2M340 252h2M372 252h2M340 254h2M372 254h2M338 257h2M374 257h2M338 259h2M374 259h2M337 261h1M337 263h1M335 266h2M376 266h2M376 268h2M333 270h2M376 270h2M331 275h2M329 279h2M328 282h1M326 286h2M324 288h2M322 291h2M320 293h2M376 295h2M381 295h2M376 297h2M315 300h2M376 300h2M380 302h1M312 306h1M374 306h2M304 311h2M301 313h2M376 313h2M374 316h2M372 320h2M283 322h2M272 325h2M369 325h2M256 327h9M200 329h20M247 329h4M188 331h9M231 331h3M365 331h2M188 334h2M186 336h2M362 336h2M186 338h2M186 340h2M188 343h2M188 345h2M355 345h1M190 347h1M353 347h2M190 349h1M351 349h2M181 352h2M193 352h2M347 352h2M193 354h2M183 356h1M195 356h2M184 358h2M186 361h2M337 361h1M188 363h2M190 365h1M193 368h2M326 368h2M195 370h2M197 372h2M320 372h2M200 374h2M317 374h2M209 377h2M215 379h2M220 381h4M297 381h2M227 383h4M290 383h4"/>
<path stroke="#0025ff" d="M320 202h2M322 205h7M324 207h7M328 209h5M329 211h6M333 214h5M335 216h5M347 239h4M362 239h3M346 241h3M365 241h2M344 243h3M367 243h2M344 245h2M342 248h2M342 250h2M371 250h1M342 252h2M340 257h2M372 257h2M338 261h2M374 261h2M374 263h2M337 266h1M335 268h2M335 270h2M333 273h2M376 273h2M376 275h2M331 277h2M376 277h2M376 279h2M376 282h2M328 284h1M376 284h2M376 286h2M376 288h2M376 291h2M376 293h2M320 295h2M319 297h1M374 300h2M380 300h1M315 302h2M374 302h2M313 304h2M374 304h2M378 306h2M308 309h2M372 309h2M306 311h2M376 311h2M303 313h1M295 316h2M292 318h2M372 318h2M288 320h2M285 322h1M371 322h1M274 325h3M265 327h4M367 327h2M251 329h3M197 331h7M222 331h9M234 331h9M190 334h1M188 336h2M188 338h2M360 338h2M188 340h2M358 340h2M190 343h1M190 345h1M191 349h2M183 354h1M195 354h2M184 356h2M197 356h2M186 358h2M197 358h3M340 358h2M188 361h2M190 363h1M191 365h2M331 365h2M195 368h2M197 370h2M322 370h2M199 372h1M202 374h4M211 377h4M308 377h2M217 379h3M303 379h1M224 381h2M231 383h3M288 383h2"/>
<path stroke="#002dff" d="M324 209h4M326 211h3M328 214h5M328 216h7M329 218h11M329 220h13M351 239h11M349 241h4M362 241h3M347 243h4M364 243h3M346 245h3M367 245h2M344 248h2M369 248h2M344 250h2M344 252h2M371 252h1M342 254h2M371 254h1M340 259h2M372 259h2M338 263h2M374 266h2M337 268h1M374 268h2M333 275h2M331 279h2M329 282h2M328 286h1M326 288h2M324 291h2M374 291h2M322 293h2M374 293h2M374 295h2M374 297h2M317 300h2M378 304h2M313 306h2M372 306h2M310 309h2M376 309h2M297 316h2M294 318h1M290 320h2M286 322h2M277 325h2M269 327h3M254 329h4M365 329h2M204 331h18M243 331h4M191 334h2M362 334h2M190 336h1M190 338h1M190 340h1M355 343h1M191 345h2M353 345h2M191 347h2M193 349h2M195 352h2M184 354h2M197 354h2M344 354h2M186 356h2M199 356h1M342 356h2M188 358h2M200 358h2M190 361h1M191 363h2M333 363h2M193 365h2M197 368h2M199 370h1M200 372h4M319 372h1M206 374h2M315 374h2M215 377h2M306 377h2M220 379h4M301 379h2M226 381h3M295 381h2M234 383h6M286 383h2"/>
<path stroke="#0035ff" d="M331 223h11M333 225h11M333 227h7M335 230h2M335 232h2M340 241h4M353 241h9M351 243h5M360 243h4M349 245h4M364 245h3M346 248h3M367 248h2M346 250h1M369 250h2M346 252h1M369 252h2M344 254h2M342 257h2M371 257h1M342 259h2M340 261h2M372 261h2M340 263h2M372 263h2M338 266h2M337 270h1M374 270h2M335 273h2M374 273h2M374 275h2M333 277h2M374 277h2M374 279h2M374 282h2M329 284h2M374 284h2M374 286h2M328 288h1M374 288h2M322 295h2M320 297h2M372 300h2M372 302h2M378 302h2M315 304h2M372 304h2M312 309h1M371 309h1M308 311h2M371 311h1M304 313h2M374 313h2M372 316h2M295 318h2M292 320h2M371 320h1M288 322h2M279 325h2M367 325h2M272 327h4M258 329h7M247 331h4M364 331h1M193 334h6M191 336h4M360 336h2M191 338h2M358 338h2M191 340h2M191 343h2M193 347h2M351 347h2M349 349h2M197 352h2M346 352h1M186 354h2M199 354h1M188 356h2M200 356h2M190 358h1M202 358h2M191 361h2M206 361h2M335 361h2M193 363h2M195 365h2M329 365h2M199 368h1M324 368h2M200 370h4M320 370h2M204 372h4M208 374h3M217 377h3M224 379h2M299 379h2M229 381h4M294 381h1M240 383h5M283 383h3"/>
<path stroke="#003dff" d="M340 227h4M337 230h7M337 232h5M337 234h3M338 236h2M356 243h4M353 245h11M349 248h2M365 248h2M347 250h2M367 250h2M347 252h2M346 254h1M369 254h2M344 257h2M371 259h1M342 261h2M372 266h2M338 268h2M372 268h2M337 273h1M335 275h2M335 277h2M333 279h2M331 282h2M329 286h2M326 291h2M324 293h2M372 293h2M372 295h2M372 297h2M319 300h1M317 302h2M371 304h1M315 306h2M371 306h1M376 306h2M310 311h2M374 311h2M306 313h2M369 313h2M299 316h2M367 316h2M371 318h1M294 320h1M290 322h2M369 322h2M281 325h2M276 327h1M365 327h2M265 329h5M251 331h3M199 334h7M195 336h2M193 338h2M193 340h2M356 340h2M193 343h2M193 345h2M195 347h2M195 349h2M199 352h1M190 356h1M191 358h2M204 358h2M338 358h2M193 361h2M208 361h1M195 363h2M211 363h2M331 363h2M197 365h2M200 368h2M204 370h2M208 372h1M317 372h2M211 374h4M313 374h2M220 377h4M304 377h2M226 379h3M233 381h5M290 381h4M245 383h7M279 383h4"/>
<path stroke="#0045ff" d="M342 232h2M340 234h4M340 236h4M340 239h2M351 248h4M362 248h3M349 250h4M365 250h2M349 252h2M367 252h2M347 254h2M367 254h2M346 257h1M369 257h2M344 259h2M344 261h2M371 261h1M342 263h2M371 263h1M340 266h2M340 268h2M338 270h2M372 270h2M372 273h2M337 275h1M372 275h2M372 277h2M335 279h2M372 279h2M333 282h2M372 282h2M331 284h2M372 284h2M372 286h2M329 288h2M372 288h2M372 291h2M326 293h2M324 295h2M322 297h2M371 300h1M371 302h1M317 304h2M376 304h2M313 309h2M369 309h2M374 309h2M312 311h1M369 311h2M308 313h2M301 316h2M297 318h2M283 325h2M277 327h2M270 329h2M364 329h1M254 331h6M206 334h5M226 334h10M360 334h2M197 336h7M195 338h4M195 340h2M195 343h2M353 343h2M195 345h2M197 349h2M200 354h2M342 354h2M202 356h2M340 356h2M193 358h2M195 361h4M209 361h2M333 361h2M197 363h2M213 363h2M199 365h1M202 368h4M322 368h2M206 370h3M209 372h4M215 374h2M224 377h2M303 377h1M229 379h4M297 379h2M238 381h4M288 381h2M252 383h9M274 383h5"/>
<path stroke="#004cff" d="M342 239h2M355 248h7M353 250h3M362 250h3M351 252h2M364 252h3M349 254h2M365 254h2M347 257h2M346 259h1M369 259h2M369 261h2M344 263h2M342 266h2M371 266h1M371 268h1M340 270h2M338 273h2M337 277h1M331 286h2M328 291h1M371 295h1M371 297h1M320 300h2M319 302h1M369 304h2M369 306h2M367 311h2M310 313h2M367 313h2M372 313h2M303 316h1M365 316h2M371 316h1M299 318h2M365 318h2M295 320h2M369 320h2M292 322h2M285 325h1M365 325h2M279 327h2M272 329h4M260 331h7M362 331h2M211 334h15M236 334h7M204 336h5M358 336h2M199 338h3M356 338h2M197 340h2M197 343h2M197 345h2M351 345h2M197 347h2M349 347h2M199 349h1M347 349h2M200 352h2M344 352h2M202 354h2M204 356h2M195 358h2M206 358h2M199 361h1M211 361h2M199 363h1M215 363h2M200 365h2M218 365h2M328 365h1M206 368h2M209 370h2M319 370h1M213 372h2M315 372h2M217 374h1M312 374h1M226 377h3M301 377h2M233 379h3M295 379h2M242 381h3M286 381h2M261 383h13"/>
<path stroke="#0054ff" d="M356 250h6M353 252h3M362 252h2M351 254h4M364 254h1M349 257h2M367 257h2M347 259h2M367 259h2M346 261h1M369 263h2M342 268h2M371 270h1M371 273h1M338 275h2M371 275h1M337 279h1M335 282h2M333 284h2M371 286h1M331 288h2M371 288h1M371 291h1M328 293h1M371 293h1M326 295h2M324 297h2M369 300h2M369 302h2M319 304h1M317 306h2M315 309h2M367 309h2M313 311h2M372 311h2M312 313h1M304 316h2M301 318h2M364 318h1M369 318h2M297 320h2M364 320h1M294 322h1M367 322h2M286 325h2M281 327h2M364 327h1M276 329h1M267 331h3M243 334h4M209 336h6M226 336h7M202 338h6M199 340h3M355 340h1M199 343h1M199 345h1M199 347h1M202 352h2M204 354h2M206 356h2M208 358h1M337 358h1M200 361h2M213 361h2M200 363h4M217 363h1M329 363h2M202 365h4M220 365h2M208 368h3M211 370h4M215 372h3M218 374h4M310 374h2M229 377h2M236 379h4M294 379h1M245 381h7M283 381h3"/>
<path stroke="#005cff" d="M356 252h6M355 254h3M360 254h4M351 257h2M365 257h2M349 259h2M347 261h2M367 261h2M346 263h1M344 266h2M369 266h2M369 268h2M342 270h2M340 273h2M338 277h2M371 277h1M371 279h1M371 282h1M335 284h2M371 284h1M333 286h2M329 291h2M326 297h2M369 297h2M322 300h2M320 302h2M367 304h2M367 306h2M315 311h2M365 311h2M313 313h2M365 313h2M306 316h2M364 316h1M295 322h2M362 322h2M360 325h2M283 327h2M277 329h2M362 329h2M270 331h4M247 334h4M358 334h2M215 336h11M233 336h9M208 338h5M202 340h4M200 343h2M351 343h2M200 345h2M200 347h2M200 349h2M340 354h2M208 356h1M338 356h2M209 358h2M202 361h2M215 361h2M331 361h2M204 363h2M218 363h2M206 365h2M222 365h2M326 365h2M211 368h2M229 368h2M320 368h2M215 370h2M317 370h2M218 372h2M313 372h2M222 374h2M231 377h3M299 377h2M240 379h3M290 379h4M252 381h8M277 381h6"/>
<path stroke="#0064ff" d="M358 254h2M353 257h2M364 257h1M351 259h2M364 259h3M349 261h2M365 261h2M347 263h2M367 263h2M346 266h1M344 268h2M369 270h2M369 273h2M340 275h2M369 275h2M338 279h2M337 282h1M333 288h2M369 291h2M329 293h2M369 293h2M328 295h1M369 295h2M322 302h2M367 302h2M320 304h2M319 306h1M317 309h2M365 309h2M371 313h1M308 316h2M369 316h2M303 318h1M362 318h2M299 320h2M362 320h2M367 320h2M288 325h2M364 325h1M285 327h1M358 327h2M279 329h2M274 331h2M360 331h2M251 334h3M242 336h5M356 336h2M213 338h20M206 340h5M202 343h2M202 345h2M349 345h2M202 347h2M347 347h2M202 349h2M346 349h1M204 352h2M342 352h2M206 354h2M209 356h2M211 358h2M204 361h2M217 361h3M206 363h2M220 363h2M208 365h3M224 365h2M213 368h4M231 368h3M217 370h3M236 370h2M220 372h2M224 374h3M308 374h2M234 377h4M297 377h2M243 379h4M288 379h2M260 381h17"/>
<path stroke="#006cff" d="M355 257h9M353 259h2M362 259h2M351 261h2M364 261h1M349 263h2M365 263h2M347 266h2M367 266h2M346 268h1M367 268h2M344 270h2M342 273h2M340 277h2M369 277h2M369 279h2M369 282h2M337 284h1M369 284h2M335 286h2M369 286h2M369 288h2M331 291h2M329 295h2M328 297h1M367 297h2M324 300h2M367 300h2M365 306h2M317 311h2M364 311h1M315 313h2M364 313h1M310 316h2M362 316h2M304 318h2M367 318h2M301 320h2M297 322h2M360 322h2M365 322h2M290 325h2M358 325h2M286 327h2M362 327h2M281 329h2M356 329h2M276 331h1M254 334h4M247 336h2M233 338h9M355 338h1M211 340h9M353 340h2M204 343h2M204 345h2M204 347h2M204 349h2M206 352h2M208 354h1M211 356h2M213 358h2M335 358h2M220 361h2M208 363h1M222 363h4M328 363h1M211 365h2M226 365h3M217 368h1M234 368h4M319 368h1M220 370h2M238 370h4M315 370h2M222 372h4M312 372h1M227 374h2M238 377h2M294 377h3M247 379h5M283 379h5"/>
<path stroke="#0073ff" d="M355 259h7M353 261h3M362 261h2M351 263h2M364 263h1M365 266h2M347 268h2M346 270h1M367 270h2M344 273h2M367 273h2M342 275h2M340 279h2M338 282h2M335 288h2M367 291h2M331 293h2M367 293h2M367 295h2M326 300h2M324 302h2M365 302h2M322 304h2M365 304h2M320 306h2M319 309h1M364 309h1M312 316h1M306 318h2M303 320h1M360 320h2M299 322h2M292 325h2M288 327h2M356 327h2M283 329h2M360 329h2M277 331h4M355 331h1M258 334h7M356 334h2M249 336h3M242 338h3M220 340h14M206 343h3M349 343h2M206 345h2M206 347h2M206 349h2M208 352h1M340 352h2M209 354h2M338 354h2M213 356h2M337 356h1M215 358h2M222 361h2M329 361h2M209 363h2M226 363h1M213 365h2M229 365h2M324 365h2M218 368h4M238 368h2M222 370h4M242 370h3M226 372h3M247 372h4M229 374h4M306 374h2M240 377h3M292 377h2M252 379h6M277 379h6"/>
<path stroke="#007bff" d="M356 261h6M353 263h3M362 263h2M349 266h2M364 266h1M365 268h2M347 270h2M365 270h2M344 275h2M367 275h2M342 277h2M367 277h2M367 279h2M367 282h2M338 284h2M367 284h2M337 286h1M367 286h2M367 288h2M333 291h2M331 295h2M329 297h2M365 300h2M322 306h2M319 311h1M317 313h2M362 313h2M313 316h2M308 318h2M360 318h2M304 320h2M365 320h2M301 322h2M358 322h2M294 325h1M356 325h2M362 325h2M285 329h1M355 329h1M281 331h2M265 334h4M351 334h2M252 336h4M349 336h2M355 336h1M245 338h4M234 340h8M209 343h8M208 345h1M347 345h2M208 347h1M346 347h1M208 349h1M344 349h2M209 352h2M211 354h4M215 356h2M217 358h3M224 361h2M227 363h2M326 363h2M215 365h2M231 365h2M222 368h2M240 368h3M317 368h2M226 370h1M245 370h4M313 370h2M229 372h2M251 372h5M310 372h2M233 374h1M304 374h2M243 377h6M288 377h4M258 379h19"/>
<path stroke="#0083ff" d="M356 263h6M351 266h4M362 266h2M349 268h2M364 268h1M349 270h2M364 270h1M346 273h1M365 273h2M365 275h2M344 277h2M342 279h2M340 282h2M337 288h1M333 293h2M365 293h2M365 295h2M365 297h2M328 300h1M326 302h2M324 304h2M364 304h1M364 306h1M320 309h2M362 311h2M315 316h2M360 316h2M310 318h2M306 320h2M358 320h2M364 322h1M295 325h2M290 327h2M355 327h1M286 329h2M283 331h2M353 331h2M358 331h2M269 334h3M256 336h7M249 338h3M347 338h2M353 338h2M242 340h3M346 340h1M351 340h2M217 343h9M342 343h2M209 345h8M340 345h2M209 347h2M209 349h4M211 352h4M215 354h2M217 356h1M335 356h2M220 358h2M333 358h2M226 361h3M328 361h1M229 363h4M217 365h1M233 365h3M322 365h2M224 368h2M243 368h4M227 370h2M249 370h3M231 372h3M256 372h5M308 372h2M234 374h4M303 374h1M249 377h3M283 377h5"/>
<path stroke="#008bff" d="M355 266h7M351 268h4M362 268h2M351 270h2M362 270h2M347 273h2M364 273h1M346 275h1M365 277h2M344 279h2M365 279h2M365 282h2M340 284h2M365 284h2M338 286h2M365 286h2M365 288h2M335 291h2M365 291h2M331 297h2M364 300h1M328 302h1M364 302h1M326 304h2M324 306h2M362 309h2M320 311h2M319 313h1M360 313h2M312 318h1M358 318h2M308 320h2M303 322h1M356 322h2M355 325h1M292 327h2M360 327h2M288 329h2M353 329h2M285 331h1M272 334h4M349 334h2M355 334h1M263 336h6M347 336h2M252 338h2M346 338h1M245 340h4M226 343h7M347 343h2M217 345h9M346 345h1M211 347h7M344 347h2M213 349h4M342 349h2M215 352h3M338 352h2M217 354h3M337 354h1M218 356h4M222 358h2M229 361h2M233 363h1M324 363h2M236 365h4M226 368h1M247 368h4M315 368h2M229 370h4M252 370h6M312 370h1M234 372h2M261 372h8M306 372h2M238 374h4M301 374h2M252 377h8M276 377h7"/>
<path stroke="#0093ff" d="M355 268h7M353 270h2M360 270h2M349 273h2M362 273h2M347 275h2M364 275h1M346 277h1M364 277h1M346 279h1M364 279h1M342 282h2M340 286h2M338 288h2M335 293h2M364 293h1M333 295h2M364 295h1M364 297h1M329 300h2M362 304h2M362 306h2M322 309h2M360 311h2M320 313h2M317 316h2M358 316h2M313 318h2M310 320h2M356 320h2M304 322h2M297 325h2M294 327h1M353 327h2M290 329h2M358 329h2M286 331h2M351 331h2M276 334h1M269 336h3M353 336h2M254 338h7M351 338h2M249 340h3M344 340h2M233 343h5M340 343h2M226 345h5M338 345h2M218 347h8M337 347h1M217 349h5M335 349h2M218 352h4M331 352h2M220 354h4M222 356h4M333 356h2M224 358h3M331 358h2M231 361h3M326 361h2M234 363h4M240 365h2M320 365h2M227 368h2M251 368h3M301 368h2M233 370h1M258 370h7M294 370h1M310 370h2M236 372h4M269 372h17M304 372h2M242 374h3M297 374h4M260 377h16"/>
<path stroke="#009bff" d="M355 270h5M351 273h2M360 273h2M349 275h2M362 275h2M347 277h2M362 277h2M344 282h2M364 282h1M342 284h2M364 284h1M364 286h1M340 288h2M364 288h1M337 291h1M364 291h1M333 297h2M362 300h2M329 302h2M362 302h2M328 304h1M326 306h2M360 309h2M322 311h2M358 313h2M315 318h2M356 318h2M312 320h1M306 322h2M355 322h1M299 325h2M295 327h2M292 329h2M351 329h2M288 331h2M356 331h2M277 334h4M347 334h2M272 336h4M346 336h1M261 338h6M344 338h2M252 340h4M342 340h2M349 340h2M238 343h5M346 343h1M231 345h5M344 345h2M226 347h5M342 347h2M222 349h5M340 349h2M222 352h4M329 352h2M337 352h1M224 354h2M328 354h1M335 354h2M226 356h1M326 356h2M227 358h4M322 358h2M234 361h2M317 361h2M238 363h2M313 363h2M322 363h2M242 365h3M310 365h2M254 368h6M297 368h4M313 368h2M234 370h2M265 370h12M283 370h11M308 370h2M240 372h2M303 372h1M245 374h4M294 374h3"/>
<path stroke="#00a2ff" d="M353 273h7M351 275h4M360 275h2M349 277h2M360 277h2M347 279h2M362 279h2M346 282h1M362 282h2M344 284h2M362 284h2M342 286h2M362 286h2M338 291h2M362 291h2M337 293h1M362 293h2M335 295h2M362 295h2M362 297h2M331 300h2M360 304h2M328 306h1M360 306h2M324 309h2M358 311h2M322 313h2M319 316h1M356 316h2M317 318h2M313 320h2M355 320h1M308 322h2M301 325h2M353 325h2M297 327h2M351 327h2M294 329h1M290 331h2M349 331h2M281 334h2M353 334h2M276 336h1M267 338h5M256 340h5M243 343h4M338 343h2M236 345h6M337 345h1M231 347h5M335 347h2M227 349h4M333 349h2M226 352h3M226 354h3M326 354h2M227 356h4M324 356h2M331 356h2M231 358h2M320 358h2M329 358h2M236 361h4M315 361h2M324 361h2M240 363h3M312 363h1M245 365h4M306 365h4M319 365h1M260 368h5M292 368h5M312 368h1M277 370h6M306 370h2M242 372h3M299 372h4M249 374h3M290 374h4"/>
<path stroke="#00aaff" d="M355 275h5M351 277h4M358 277h2M349 279h4M360 279h2M360 282h2M346 284h1M360 284h2M344 286h2M342 288h2M362 288h2M338 293h2M337 295h1M335 297h2M333 300h2M360 300h2M331 302h2M360 302h2M329 304h2M326 309h2M358 309h2M324 311h2M356 313h2M320 316h2M319 318h1M355 318h1M315 320h2M310 322h3M353 322h2M303 325h1M299 327h2M295 329h2M349 329h2M292 331h2M283 334h2M346 334h1M277 336h4M344 336h2M351 336h2M272 338h2M342 338h2M349 338h2M261 340h6M347 340h2M247 343h4M344 343h2M242 345h3M342 345h2M236 347h4M340 347h2M231 349h5M338 349h2M229 352h4M328 352h1M335 352h2M229 354h4M333 354h2M231 356h3M322 356h2M233 358h3M240 361h3M313 361h2M243 363h4M310 363h2M320 363h2M249 365h3M304 365h2M317 365h2M265 368h27M310 368h2M303 370h3M245 372h2M295 372h4M252 374h4M286 374h4"/>
<path stroke="#00b2ff" d="M355 277h3M353 279h7M347 282h4M358 282h2M347 284h2M358 284h2M346 286h1M360 286h2M344 288h2M360 288h2M340 291h2M360 291h2M360 293h2M360 295h2M337 297h1M360 297h2M333 302h2M331 304h2M358 304h2M329 306h2M358 306h2M356 311h2M324 313h2M355 316h1M317 320h2M353 320h2M313 322h2M304 325h2M351 325h2M301 327h2M349 327h2M297 329h2M294 331h1M347 331h2M285 334h1M281 336h2M274 338h3M267 340h3M340 340h2M251 343h3M337 343h1M245 345h4M335 345h2M240 347h3M333 347h2M236 349h4M331 349h2M233 352h3M233 354h3M324 354h2M331 354h2M234 356h4M320 356h2M329 356h2M236 358h4M319 358h1M328 358h1M243 361h4M312 361h1M322 361h2M247 363h4M306 363h4M319 363h1M252 365h6M301 365h3M315 365h2M306 368h4M301 370h2M294 372h1M256 374h7M281 374h5"/>
<path stroke="#00baff" d="M351 282h7M349 284h2M356 284h2M347 286h2M358 286h2M346 288h1M358 288h2M342 291h2M358 291h2M340 293h2M358 293h2M338 295h2M358 295h2M358 297h2M335 300h2M358 300h2M358 302h2M333 304h2M331 306h2M328 309h1M356 309h2M326 311h2M355 313h1M322 316h2M320 318h2M353 318h2M319 320h1M315 322h2M351 322h2M306 325h2M349 325h2M303 327h1M299 329h2M347 329h2M295 331h2M286 334h2M344 334h2M283 336h2M342 336h2M277 338h4M340 338h2M270 340h4M254 343h4M249 345h3M243 347h4M338 347h2M240 349h3M329 349h2M337 349h1M236 352h4M326 352h2M333 352h2M236 354h4M322 354h2M238 356h2M240 358h3M317 358h2M326 358h2M247 361h4M310 361h2M320 361h2M251 363h5M304 363h2M317 363h2M258 365h5M295 365h6M304 368h2M299 370h2M290 372h4M263 374h18"/>
<path stroke="#00c2ff" d="M351 284h5M349 286h4M355 286h3M347 288h2M356 288h2M344 291h2M356 291h2M342 293h2M356 293h2M340 295h2M356 295h2M338 297h2M356 297h2M337 300h1M356 300h2M335 302h2M356 302h2M356 304h2M333 306h2M356 306h2M329 309h2M328 311h1M355 311h1M326 313h2M324 316h2M353 316h2M322 318h2M320 320h2M351 320h2M317 322h2M308 325h2M304 327h2M347 327h2M301 329h2M297 331h2M346 331h1M288 334h2M285 336h1M281 338h2M274 340h3M338 340h2M258 343h5M335 343h2M252 345h2M333 345h2M247 347h4M331 347h2M243 349h4M240 352h2M324 352h2M240 354h3M329 354h2M240 356h3M319 356h1M328 356h1M243 358h2M315 358h2M251 361h3M306 361h4M319 361h1M256 363h4M299 363h5M263 365h7M286 365h9M313 365h2M303 368h1M295 370h4M286 372h4"/>
<path stroke="#00c9ff" d="M353 286h2M349 288h7M346 291h1M355 291h1M344 293h2M355 293h1M342 295h2M355 295h1M340 297h2M355 297h1M337 302h1M335 304h2M355 306h1M331 309h2M355 309h1M329 311h2M328 313h1M353 313h2M351 316h2M351 318h2M319 322h1M349 322h2M310 325h2M347 325h2M306 327h2M303 329h1M346 329h1M299 331h2M290 334h2M342 334h2M286 336h2M340 336h2M283 338h2M277 340h2M263 343h6M254 345h6M331 345h2M251 347h3M329 347h2M247 349h2M328 349h1M242 352h3M322 352h2M243 354h2M320 354h2M243 356h4M317 356h2M245 358h4M313 358h2M324 358h2M254 361h4M303 361h3M260 363h7M294 363h5M315 363h2M270 365h16M312 365h1"/>
<path stroke="#00d1ff" d="M347 291h8M346 293h3M353 293h2M344 295h2M353 295h2M342 297h2M353 297h2M338 300h2M355 300h1M338 302h2M355 302h1M337 304h1M355 304h1M335 306h2M333 309h2M353 309h2M331 311h2M353 311h2M329 313h2M326 316h2M324 318h2M349 318h2M322 320h2M349 320h2M320 322h2M312 325h1M346 327h1M304 329h2M301 331h2M344 331h2M292 334h2M288 336h2M285 338h1M338 338h2M279 340h4M337 340h1M269 343h3M333 343h2M260 345h5M254 347h2M249 349h3M326 349h2M245 352h4M320 352h2M245 354h4M319 354h1M247 356h4M315 356h2M249 358h3M312 358h1M258 361h5M297 361h6M267 363h27"/>
<path stroke="#00d9ff" d="M349 293h4M346 295h7M344 297h3M351 297h2M340 300h2M353 300h2M340 302h2M353 302h2M338 304h2M353 304h2M337 306h1M351 306h4M335 309h2M351 309h2M333 311h2M351 311h2M331 313h2M351 313h2M328 316h1M349 316h2M326 318h2M324 320h2M347 320h2M322 322h2M347 322h2M313 325h4M346 325h1M308 327h4M306 329h2M344 329h2M303 331h1M342 331h2M294 334h1M340 334h2M290 336h2M338 336h2M286 338h2M337 338h1M283 340h2M335 340h2M272 343h4M331 343h2M265 345h4M329 345h2M256 347h5M328 347h1M252 349h4M249 352h2M319 352h1M249 354h3M317 354h2M251 356h3M313 356h2M252 358h4M308 358h4M263 361h9M290 361h7"/>
<path stroke="#00e1ff" d="M347 297h4M342 300h4M349 300h4M342 302h2M351 302h2M340 304h4M349 304h4M338 306h4M349 306h2M337 309h1M349 309h2M335 311h2M349 311h2M333 313h2M349 313h2M329 316h4M347 316h2M328 318h3M347 318h2M326 320h2M324 322h2M346 322h1M317 325h3M344 325h2M312 327h3M344 327h2M308 329h2M342 329h2M304 331h2M295 334h2M338 334h2M292 336h2M288 338h2M285 340h1M276 343h3M269 345h5M328 345h1M261 347h6M326 347h2M256 349h4M324 349h2M251 352h3M317 352h2M252 354h2M313 354h4M254 356h4M310 356h3M256 358h5M304 358h4M272 361h18"/>
<path stroke="#00e9ff" d="M346 300h3M344 302h7M344 304h5M342 306h7M338 309h4M346 309h3M337 311h3M346 311h3M335 313h3M346 313h3M333 316h2M346 316h1M331 318h2M346 318h1M328 320h3M346 320h1M326 322h3M344 322h2M320 325h4M315 327h4M342 327h2M310 329h3M306 331h2M340 331h2M297 334h4M294 336h1M337 336h1M290 338h4M335 338h2M286 340h4M333 340h2M279 343h2M329 343h2M274 345h3M326 345h2M267 347h5M324 347h2M260 349h5M320 349h4M254 352h4M315 352h2M254 354h6M312 354h1M258 356h3M306 356h4M261 358h8M297 358h7"/>
<path stroke="#00f1ff" d="M342 309h4M340 311h6M338 313h8M335 316h3M344 316h2M333 318h4M344 318h2M331 320h4M344 320h2M329 322h4M342 322h2M324 325h5M342 325h2M319 327h7M340 327h2M313 329h6M340 329h2M308 331h4M338 331h2M301 334h3M337 334h1M295 336h4M335 336h2M294 338h1M333 338h2M290 340h2M331 340h2M281 343h4M328 343h1M277 345h4M324 345h2M272 347h4M322 347h2M265 349h5M319 349h1M258 352h5M312 352h3M260 354h5M308 354h4M261 356h8M299 356h7M269 358h28"/>
<path stroke="#00f8ff" d="M338 316h6M337 318h7M335 320h9M333 322h5M340 322h2M329 325h4M338 325h4M326 327h3M338 327h2M319 329h9M338 329h2M312 331h7M337 331h1M304 334h4M335 334h2M299 336h4M333 336h2M295 338h4M331 338h2M292 340h3M329 340h2M285 343h3M324 343h4M281 345h4M322 345h2M276 347h5M319 347h3M270 349h6M315 349h4M263 352h7M308 352h4M265 354h9M299 354h9M269 356h30"/>
<path stroke="#00fffe" d="M338 322h2M333 325h5M329 327h9M328 329h5M335 329h3M319 331h10M335 331h2M308 334h5M333 334h2M303 336h7M329 336h4M299 338h5M328 338h3M295 340h4M326 340h3M288 343h4M320 343h4M285 345h3M317 345h5M281 347h4M313 347h6M276 349h7M310 349h5M270 352h11M294 352h14M274 354h25"/>
<path stroke="#00fff6" d="M333 329h2M329 331h6M313 334h20M310 336h5M317 336h12M304 338h8M320 338h8M299 340h9M319 340h7M292 343h5M312 343h8M288 345h7M308 345h9M285 347h9M304 347h9M283 349h11M299 349h11M281 352h13"/>
<path stroke="#00ffed" d="M315 336h2M312 338h8M308 340h11M297 343h15M295 345h13M294 347h10M294 349h5"/>
</g>
<g fill="none" stroke="#8a8a8a" stroke-width="2.6" stroke-dasharray="20.47 21.97">
<path d="M802.19 682.75A119.44 119.44 0 1 0 563.31 682.75A119.44 119.44 0 1 0 802.19 682.75"/>
<path d="M861.91 682.75A179.16 179.16 0 1 0 503.59 682.75A179.16 179.16 0 1 0 861.91 682.75"/>
<path d="M921.63 682.75A238.88 238.88 0 1 0 443.87 682.75A238.88 238.88 0 1 0 921.63 682.75"/>
<path d="M981.35 682.75A298.6 298.6 0 1 0 384.15 682.75A298.6 298.6 0 1 0 981.35 682.75"/>
<path d="M1041.07 682.75A358.32 358.32 0 1 0 324.43 682.75A358.32 358.32 0 1 0 1041.07 682.75"/>
<path d="M1100.79 682.75A418.04 418.04 0 1 0 264.71 682.75A418.04 418.04 0 1 0 1100.79 682.75"/>
<path d="M1160.51 682.75A477.76 477.76 0 1 0 204.99 682.75A477.76 477.76 0 1 0 1160.51 682.75"/>
</g>
<circle cx="682.2" cy="682.8" r="59.8" fill="#fff" stroke="#000" stroke-width="2.5"/>
<path d="M680.9 621.76A61.05 61.05 0 0 1 680.9 743.84Z" fill="#000"/>
<polygon points="820.7,881.7 827.5,902.6 849.4,902.6 831.6,915.5 838.5,936.3 820.7,923.4 802.9,936.3 809.8,915.5 792.0,902.6 813.9,902.6" fill="#00ffe6" stroke="#000" stroke-width="4.5" stroke-linejoin="bevel"/>
<text transform="translate(184.5 683.2) rotate(-90)" font-size="64" text-anchor="middle" style="fill:#ffa500">SUN</text>
<text x="682.3" y="1214.2" font-size="61" text-anchor="middle">nPa</text>
<rect x="208" y="1228.3" width="952" height="33.5" fill="url(#cb)"/>
<path d="M203.2 1262.3H1161.5M204.50 1262.3v-9.5M236.36 1262.3v-5.3M268.21 1262.3v-5.3M300.07 1262.3v-5.3M331.93 1262.3v-5.3M363.78 1262.3v-9.5M395.64 1262.3v-5.3M427.50 1262.3v-5.3M459.35 1262.3v-5.3M491.21 1262.3v-5.3M523.07 1262.3v-9.5M554.92 1262.3v-5.3M586.78 1262.3v-5.3M618.64 1262.3v-5.3M650.49 1262.3v-5.3M682.35 1262.3v-9.5M714.21 1262.3v-5.3M746.06 1262.3v-5.3M777.92 1262.3v-5.3M809.78 1262.3v-5.3M841.63 1262.3v-9.5M873.49 1262.3v-5.3M905.35 1262.3v-5.3M937.20 1262.3v-5.3M969.06 1262.3v-5.3M1000.92 1262.3v-9.5M1032.77 1262.3v-5.3M1064.63 1262.3v-5.3M1096.49 1262.3v-5.3M1128.34 1262.3v-5.3M1160.20 1262.3v-9.5" fill="none" stroke="#000" stroke-width="2.7"/>
<g font-size="64" text-anchor="middle">
<text x="204.5" y="1330.2">0.0</text>
<text x="363.8" y="1330.2">0.5</text>
<text x="523.1" y="1330.2">1.0</text>
<text x="682.4" y="1330.2">1.5</text>
<text x="841.6" y="1330.2">2.0</text>
<text x="1000.9" y="1330.2">2.5</text>
<text x="1160.2" y="1330.2">3.0</text>
</g>
</svg>
</body></html>
